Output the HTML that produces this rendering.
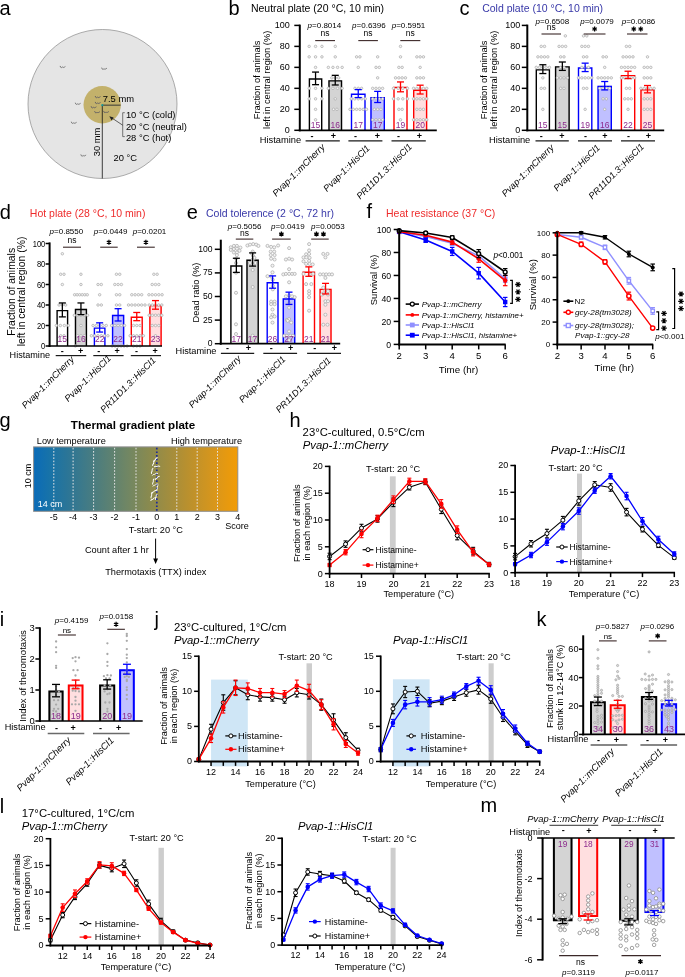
<!DOCTYPE html>
<html><head><meta charset="utf-8"><style>
html,body{margin:0;padding:0;background:#fff;}
svg{display:block;font-family:"Liberation Sans",sans-serif;will-change:transform;}
</style></head><body>
<svg width="685" height="977" viewBox="0 0 685 977">
<rect width="685" height="977" fill="#fff"/>
<text x="-0.6" y="15" font-size="20">a</text>
<circle cx="102.5" cy="104" r="74.5" fill="#e5e5e5" stroke="#8a8a8a" stroke-width="0.7"/>
<circle cx="102.2" cy="104.8" r="18.7" fill="#c3b16b"/>
<path d="M60.2,66.3 q0.2,1.3 1.1,1.3 q0.7,0 1.2,-0.6 q0.6,0.6 1.3,0.4 q0.6,-0.2 1.3,-0.7" stroke="#5a5a5a" stroke-width="0.75" fill="none" stroke-linecap="round"/>
<path d="M101.7,68 q0.2,1.3 1.1,1.3 q0.7,0 1.2,-0.6 q0.6,0.6 1.3,0.4 q0.6,-0.2 1.3,-0.7" stroke="#5a5a5a" stroke-width="0.75" fill="none" stroke-linecap="round"/>
<path d="M75.4,103.1 q0.2,1.3 1.1,1.3 q0.7,0 1.2,-0.6 q0.6,0.6 1.3,0.4 q0.6,-0.2 1.3,-0.7" stroke="#5a5a5a" stroke-width="0.75" fill="none" stroke-linecap="round"/>
<path d="M71.4,122.1 q0.2,1.3 1.1,1.3 q0.7,0 1.2,-0.6 q0.6,0.6 1.3,0.4 q0.6,-0.2 1.3,-0.7" stroke="#5a5a5a" stroke-width="0.75" fill="none" stroke-linecap="round"/>
<path d="M80.9,154.8 q0.2,1.3 1.1,1.3 q0.7,0 1.2,-0.6 q0.6,0.6 1.3,0.4 q0.6,-0.2 1.3,-0.7" stroke="#5a5a5a" stroke-width="0.75" fill="none" stroke-linecap="round"/>
<path d="M95.3,96.4 q0.2,1.3 1.1,1.3 q0.7,0 1.2,-0.6 q0.6,0.6 1.3,0.4 q0.6,-0.2 1.3,-0.7" stroke="#4e4e62" stroke-width="0.75" fill="none" stroke-linecap="round"/>
<path d="M95.3,102.3 q0.2,1.3 1.1,1.3 q0.7,0 1.2,-0.6 q0.6,0.6 1.3,0.4 q0.6,-0.2 1.3,-0.7" stroke="#4e4e62" stroke-width="0.75" fill="none" stroke-linecap="round"/>
<path d="M91.2,106.6 q0.2,1.3 1.1,1.3 q0.7,0 1.2,-0.6 q0.6,0.6 1.3,0.4 q0.6,-0.2 1.3,-0.7" stroke="#4e4e62" stroke-width="0.75" fill="none" stroke-linecap="round"/>
<path d="M94.7,111.5 q0.2,1.3 1.1,1.3 q0.7,0 1.2,-0.6 q0.6,0.6 1.3,0.4 q0.6,-0.2 1.3,-0.7" stroke="#4e4e62" stroke-width="0.75" fill="none" stroke-linecap="round"/>
<path d="M103.7,111.3 q0.2,1.3 1.1,1.3 q0.7,0 1.2,-0.6 q0.6,0.6 1.3,0.4 q0.6,-0.2 1.3,-0.7" stroke="#4e4e62" stroke-width="0.75" fill="none" stroke-linecap="round"/>
<line x1="102.3" y1="105.2" x2="102.3" y2="178.5" stroke="#111" stroke-width="0.8"/>
<line x1="102.3" y1="105.2" x2="120.6" y2="105.2" stroke="#5e5a44" stroke-width="1.4"/>
<circle cx="102.3" cy="105.2" r="1.1" fill="#1a9a9a"/>
<text x="102.8" y="102.3" font-size="9.4">7.5 mm</text>
<path d="M124.8,112.7 H122.7 V136.6 H124.8" stroke="#444" stroke-width="0.7" fill="none"/>
<line x1="122.7" y1="125.2" x2="111" y2="117.4" stroke="#222" stroke-width="0.7"/>
<path d="M109.3,116.3 L113.6,117.5 L111.6,120.4 Z" stroke="none" stroke-width="0" fill="#222"/>
<text x="125.9" y="118" font-size="9.4">10 °C (cold)</text>
<text x="125.9" y="129.6" font-size="9.4">20 °C (neutral)</text>
<text x="125.9" y="141.1" font-size="9.4">28 °C (hot)</text>
<text x="99.8" y="142" font-size="9.4" text-anchor="middle" transform="rotate(-90 99.8 142)">30 mm</text>
<text x="113.5" y="161" font-size="9.4">20 °C</text>
<text x="228.6" y="14.5" font-size="20">b</text>
<text x="250.9" y="11.9" font-size="10.5">Neutral plate (20 °C, 10 min)</text>
<rect x="308.7" y="78.37" width="13.7" height="51.93" fill="#fff"/>
<rect x="328.3" y="80.16" width="13.9" height="50.14" fill="#d4d4d4"/>
<rect x="350.8" y="93.59" width="14.9" height="36.72" fill="#fff"/>
<rect x="370.3" y="96.94" width="14.7" height="33.36" fill="#c0c0ff"/>
<rect x="393.3" y="86.87" width="14.4" height="43.43" fill="#fff"/>
<rect x="413" y="89.6" width="14.3" height="40.7" fill="#ffdfe0"/>
<path d="M309.4,130.3 V79.07 H321.7 V130.3" stroke="#000" stroke-width="1.4" fill="none"/>
<path d="M329,130.3 V80.86 H341.5 V130.3" stroke="#000" stroke-width="1.4" fill="none"/>
<path d="M351.5,130.3 V94.29 H365 V130.3" stroke="#0000ff" stroke-width="1.4" fill="none"/>
<path d="M371,130.3 V97.64 H384.3 V130.3" stroke="#0000ff" stroke-width="1.4" fill="none"/>
<path d="M394,130.3 V87.57 H407 V130.3" stroke="#ff0000" stroke-width="1.4" fill="none"/>
<path d="M413.7,130.3 V90.3 H426.6 V130.3" stroke="#ff0000" stroke-width="1.4" fill="none"/>
<circle cx="309.15" cy="46.38" r="1.25" fill="#f4f4f4" stroke="#a8a8a8" stroke-width="0.7"/>
<circle cx="315.55" cy="46.38" r="1.25" fill="#f4f4f4" stroke="#a8a8a8" stroke-width="0.7"/>
<circle cx="321.95" cy="46.38" r="1.25" fill="#f4f4f4" stroke="#a8a8a8" stroke-width="0.7"/>
<circle cx="309.15" cy="56.87" r="1.25" fill="#f4f4f4" stroke="#a8a8a8" stroke-width="0.7"/>
<circle cx="315.55" cy="56.87" r="1.25" fill="#f4f4f4" stroke="#a8a8a8" stroke-width="0.7"/>
<circle cx="321.95" cy="56.87" r="1.25" fill="#f4f4f4" stroke="#a8a8a8" stroke-width="0.7"/>
<circle cx="315.55" cy="67.36" r="1.25" fill="#f4f4f4" stroke="#a8a8a8" stroke-width="0.7"/>
<circle cx="309.15" cy="88.34" r="1.25" fill="#f4f4f4" stroke="#a8a8a8" stroke-width="0.7"/>
<circle cx="315.55" cy="88.34" r="1.25" fill="#f4f4f4" stroke="#a8a8a8" stroke-width="0.7"/>
<circle cx="321.95" cy="88.34" r="1.25" fill="#f4f4f4" stroke="#a8a8a8" stroke-width="0.7"/>
<circle cx="309.15" cy="98.83" r="1.25" fill="#f4f4f4" stroke="#a8a8a8" stroke-width="0.7"/>
<circle cx="315.55" cy="98.83" r="1.25" fill="#f4f4f4" stroke="#a8a8a8" stroke-width="0.7"/>
<circle cx="321.95" cy="98.83" r="1.25" fill="#f4f4f4" stroke="#a8a8a8" stroke-width="0.7"/>
<circle cx="315.55" cy="109.32" r="1.25" fill="#f4f4f4" stroke="#a8a8a8" stroke-width="0.7"/>
<circle cx="315.55" cy="119.81" r="1.25" fill="#f4f4f4" stroke="#a8a8a8" stroke-width="0.7"/>
<circle cx="335.25" cy="46.38" r="1.25" fill="#f4f4f4" stroke="#a8a8a8" stroke-width="0.7"/>
<circle cx="335.25" cy="56.87" r="1.25" fill="#f4f4f4" stroke="#a8a8a8" stroke-width="0.7"/>
<circle cx="328.35" cy="67.36" r="1.25" fill="#f4f4f4" stroke="#a8a8a8" stroke-width="0.7"/>
<circle cx="332.95" cy="67.36" r="1.25" fill="#f4f4f4" stroke="#a8a8a8" stroke-width="0.7"/>
<circle cx="337.55" cy="67.36" r="1.25" fill="#f4f4f4" stroke="#a8a8a8" stroke-width="0.7"/>
<circle cx="342.15" cy="67.36" r="1.25" fill="#f4f4f4" stroke="#a8a8a8" stroke-width="0.7"/>
<circle cx="331.85" cy="77.85" r="1.25" fill="#f4f4f4" stroke="#a8a8a8" stroke-width="0.7"/>
<circle cx="335.25" cy="77.85" r="1.25" fill="#f4f4f4" stroke="#a8a8a8" stroke-width="0.7"/>
<circle cx="338.65" cy="77.85" r="1.25" fill="#f4f4f4" stroke="#a8a8a8" stroke-width="0.7"/>
<circle cx="328.35" cy="88.34" r="1.25" fill="#f4f4f4" stroke="#a8a8a8" stroke-width="0.7"/>
<circle cx="332.95" cy="88.34" r="1.25" fill="#f4f4f4" stroke="#a8a8a8" stroke-width="0.7"/>
<circle cx="337.55" cy="88.34" r="1.25" fill="#f4f4f4" stroke="#a8a8a8" stroke-width="0.7"/>
<circle cx="342.15" cy="88.34" r="1.25" fill="#f4f4f4" stroke="#a8a8a8" stroke-width="0.7"/>
<circle cx="335.25" cy="98.83" r="1.25" fill="#f4f4f4" stroke="#a8a8a8" stroke-width="0.7"/>
<circle cx="333.55" cy="109.32" r="1.25" fill="#f4f4f4" stroke="#a8a8a8" stroke-width="0.7"/>
<circle cx="336.95" cy="109.32" r="1.25" fill="#f4f4f4" stroke="#a8a8a8" stroke-width="0.7"/>
<circle cx="356.6" cy="56.87" r="1.25" fill="#f4f4f4" stroke="#a8a8a8" stroke-width="0.7"/>
<circle cx="359.9" cy="56.87" r="1.25" fill="#f4f4f4" stroke="#a8a8a8" stroke-width="0.7"/>
<circle cx="358.25" cy="67.36" r="1.25" fill="#f4f4f4" stroke="#a8a8a8" stroke-width="0.7"/>
<circle cx="354.95" cy="88.34" r="1.25" fill="#f4f4f4" stroke="#a8a8a8" stroke-width="0.7"/>
<circle cx="358.25" cy="88.34" r="1.25" fill="#f4f4f4" stroke="#a8a8a8" stroke-width="0.7"/>
<circle cx="361.55" cy="88.34" r="1.25" fill="#f4f4f4" stroke="#a8a8a8" stroke-width="0.7"/>
<circle cx="351.25" cy="98.83" r="1.25" fill="#f4f4f4" stroke="#a8a8a8" stroke-width="0.7"/>
<circle cx="354.75" cy="98.83" r="1.25" fill="#f4f4f4" stroke="#a8a8a8" stroke-width="0.7"/>
<circle cx="358.25" cy="98.83" r="1.25" fill="#f4f4f4" stroke="#a8a8a8" stroke-width="0.7"/>
<circle cx="361.75" cy="98.83" r="1.25" fill="#f4f4f4" stroke="#a8a8a8" stroke-width="0.7"/>
<circle cx="365.25" cy="98.83" r="1.25" fill="#f4f4f4" stroke="#a8a8a8" stroke-width="0.7"/>
<circle cx="350" cy="109.32" r="1.25" fill="#f4f4f4" stroke="#a8a8a8" stroke-width="0.7"/>
<circle cx="353.3" cy="109.32" r="1.25" fill="#f4f4f4" stroke="#a8a8a8" stroke-width="0.7"/>
<circle cx="356.6" cy="109.32" r="1.25" fill="#f4f4f4" stroke="#a8a8a8" stroke-width="0.7"/>
<circle cx="359.9" cy="109.32" r="1.25" fill="#f4f4f4" stroke="#a8a8a8" stroke-width="0.7"/>
<circle cx="363.2" cy="109.32" r="1.25" fill="#f4f4f4" stroke="#a8a8a8" stroke-width="0.7"/>
<circle cx="366.5" cy="109.32" r="1.25" fill="#f4f4f4" stroke="#a8a8a8" stroke-width="0.7"/>
<circle cx="377.65" cy="56.87" r="1.25" fill="#f4f4f4" stroke="#a8a8a8" stroke-width="0.7"/>
<circle cx="376" cy="67.36" r="1.25" fill="#f4f4f4" stroke="#a8a8a8" stroke-width="0.7"/>
<circle cx="379.3" cy="67.36" r="1.25" fill="#f4f4f4" stroke="#a8a8a8" stroke-width="0.7"/>
<circle cx="377.65" cy="77.85" r="1.25" fill="#f4f4f4" stroke="#a8a8a8" stroke-width="0.7"/>
<circle cx="372.7" cy="88.34" r="1.25" fill="#f4f4f4" stroke="#a8a8a8" stroke-width="0.7"/>
<circle cx="376" cy="88.34" r="1.25" fill="#f4f4f4" stroke="#a8a8a8" stroke-width="0.7"/>
<circle cx="379.3" cy="88.34" r="1.25" fill="#f4f4f4" stroke="#a8a8a8" stroke-width="0.7"/>
<circle cx="382.6" cy="88.34" r="1.25" fill="#f4f4f4" stroke="#a8a8a8" stroke-width="0.7"/>
<circle cx="372.7" cy="98.83" r="1.25" fill="#f4f4f4" stroke="#a8a8a8" stroke-width="0.7"/>
<circle cx="376" cy="98.83" r="1.25" fill="#f4f4f4" stroke="#a8a8a8" stroke-width="0.7"/>
<circle cx="379.3" cy="98.83" r="1.25" fill="#f4f4f4" stroke="#a8a8a8" stroke-width="0.7"/>
<circle cx="382.6" cy="98.83" r="1.25" fill="#f4f4f4" stroke="#a8a8a8" stroke-width="0.7"/>
<circle cx="374.35" cy="109.32" r="1.25" fill="#f4f4f4" stroke="#a8a8a8" stroke-width="0.7"/>
<circle cx="377.65" cy="109.32" r="1.25" fill="#f4f4f4" stroke="#a8a8a8" stroke-width="0.7"/>
<circle cx="380.95" cy="109.32" r="1.25" fill="#f4f4f4" stroke="#a8a8a8" stroke-width="0.7"/>
<circle cx="372.7" cy="119.81" r="1.25" fill="#f4f4f4" stroke="#a8a8a8" stroke-width="0.7"/>
<circle cx="376" cy="119.81" r="1.25" fill="#f4f4f4" stroke="#a8a8a8" stroke-width="0.7"/>
<circle cx="379.3" cy="119.81" r="1.25" fill="#f4f4f4" stroke="#a8a8a8" stroke-width="0.7"/>
<circle cx="382.6" cy="119.81" r="1.25" fill="#f4f4f4" stroke="#a8a8a8" stroke-width="0.7"/>
<circle cx="400.5" cy="46.38" r="1.25" fill="#f4f4f4" stroke="#a8a8a8" stroke-width="0.7"/>
<circle cx="400.5" cy="56.87" r="1.25" fill="#f4f4f4" stroke="#a8a8a8" stroke-width="0.7"/>
<circle cx="398.85" cy="67.36" r="1.25" fill="#f4f4f4" stroke="#a8a8a8" stroke-width="0.7"/>
<circle cx="402.15" cy="67.36" r="1.25" fill="#f4f4f4" stroke="#a8a8a8" stroke-width="0.7"/>
<circle cx="395.55" cy="77.85" r="1.25" fill="#f4f4f4" stroke="#a8a8a8" stroke-width="0.7"/>
<circle cx="398.85" cy="77.85" r="1.25" fill="#f4f4f4" stroke="#a8a8a8" stroke-width="0.7"/>
<circle cx="402.15" cy="77.85" r="1.25" fill="#f4f4f4" stroke="#a8a8a8" stroke-width="0.7"/>
<circle cx="405.45" cy="77.85" r="1.25" fill="#f4f4f4" stroke="#a8a8a8" stroke-width="0.7"/>
<circle cx="393.5" cy="88.34" r="1.25" fill="#f4f4f4" stroke="#a8a8a8" stroke-width="0.7"/>
<circle cx="398.2" cy="88.34" r="1.25" fill="#f4f4f4" stroke="#a8a8a8" stroke-width="0.7"/>
<circle cx="402.8" cy="88.34" r="1.25" fill="#f4f4f4" stroke="#a8a8a8" stroke-width="0.7"/>
<circle cx="407.5" cy="88.34" r="1.25" fill="#f4f4f4" stroke="#a8a8a8" stroke-width="0.7"/>
<circle cx="393.5" cy="98.83" r="1.25" fill="#f4f4f4" stroke="#a8a8a8" stroke-width="0.7"/>
<circle cx="398.2" cy="98.83" r="1.25" fill="#f4f4f4" stroke="#a8a8a8" stroke-width="0.7"/>
<circle cx="402.8" cy="98.83" r="1.25" fill="#f4f4f4" stroke="#a8a8a8" stroke-width="0.7"/>
<circle cx="407.5" cy="98.83" r="1.25" fill="#f4f4f4" stroke="#a8a8a8" stroke-width="0.7"/>
<circle cx="398.85" cy="109.32" r="1.25" fill="#f4f4f4" stroke="#a8a8a8" stroke-width="0.7"/>
<circle cx="402.15" cy="109.32" r="1.25" fill="#f4f4f4" stroke="#a8a8a8" stroke-width="0.7"/>
<circle cx="400.5" cy="119.81" r="1.25" fill="#f4f4f4" stroke="#a8a8a8" stroke-width="0.7"/>
<circle cx="416.85" cy="56.87" r="1.25" fill="#f4f4f4" stroke="#a8a8a8" stroke-width="0.7"/>
<circle cx="420.15" cy="56.87" r="1.25" fill="#f4f4f4" stroke="#a8a8a8" stroke-width="0.7"/>
<circle cx="423.45" cy="56.87" r="1.25" fill="#f4f4f4" stroke="#a8a8a8" stroke-width="0.7"/>
<circle cx="420.15" cy="67.36" r="1.25" fill="#f4f4f4" stroke="#a8a8a8" stroke-width="0.7"/>
<circle cx="416.85" cy="77.85" r="1.25" fill="#f4f4f4" stroke="#a8a8a8" stroke-width="0.7"/>
<circle cx="420.15" cy="77.85" r="1.25" fill="#f4f4f4" stroke="#a8a8a8" stroke-width="0.7"/>
<circle cx="423.45" cy="77.85" r="1.25" fill="#f4f4f4" stroke="#a8a8a8" stroke-width="0.7"/>
<circle cx="413.55" cy="88.34" r="1.25" fill="#f4f4f4" stroke="#a8a8a8" stroke-width="0.7"/>
<circle cx="416.85" cy="88.34" r="1.25" fill="#f4f4f4" stroke="#a8a8a8" stroke-width="0.7"/>
<circle cx="420.15" cy="88.34" r="1.25" fill="#f4f4f4" stroke="#a8a8a8" stroke-width="0.7"/>
<circle cx="423.45" cy="88.34" r="1.25" fill="#f4f4f4" stroke="#a8a8a8" stroke-width="0.7"/>
<circle cx="426.75" cy="88.34" r="1.25" fill="#f4f4f4" stroke="#a8a8a8" stroke-width="0.7"/>
<circle cx="413.55" cy="98.83" r="1.25" fill="#f4f4f4" stroke="#a8a8a8" stroke-width="0.7"/>
<circle cx="416.85" cy="98.83" r="1.25" fill="#f4f4f4" stroke="#a8a8a8" stroke-width="0.7"/>
<circle cx="420.15" cy="98.83" r="1.25" fill="#f4f4f4" stroke="#a8a8a8" stroke-width="0.7"/>
<circle cx="423.45" cy="98.83" r="1.25" fill="#f4f4f4" stroke="#a8a8a8" stroke-width="0.7"/>
<circle cx="426.75" cy="98.83" r="1.25" fill="#f4f4f4" stroke="#a8a8a8" stroke-width="0.7"/>
<circle cx="416.85" cy="109.32" r="1.25" fill="#f4f4f4" stroke="#a8a8a8" stroke-width="0.7"/>
<circle cx="420.15" cy="109.32" r="1.25" fill="#f4f4f4" stroke="#a8a8a8" stroke-width="0.7"/>
<circle cx="423.45" cy="109.32" r="1.25" fill="#f4f4f4" stroke="#a8a8a8" stroke-width="0.7"/>
<circle cx="413.55" cy="119.81" r="1.25" fill="#f4f4f4" stroke="#a8a8a8" stroke-width="0.7"/>
<circle cx="416.85" cy="119.81" r="1.25" fill="#f4f4f4" stroke="#a8a8a8" stroke-width="0.7"/>
<circle cx="420.15" cy="119.81" r="1.25" fill="#f4f4f4" stroke="#a8a8a8" stroke-width="0.7"/>
<circle cx="423.45" cy="119.81" r="1.25" fill="#f4f4f4" stroke="#a8a8a8" stroke-width="0.7"/>
<circle cx="426.75" cy="119.81" r="1.25" fill="#f4f4f4" stroke="#a8a8a8" stroke-width="0.7"/>
<line x1="315.55" y1="72.08" x2="315.55" y2="84.67" stroke="#000" stroke-width="1.3"/>
<line x1="312.05" y1="72.08" x2="319.05" y2="72.08" stroke="#000" stroke-width="1.3"/>
<line x1="312.05" y1="84.67" x2="319.05" y2="84.67" stroke="#000" stroke-width="1.3"/>
<text x="315.55" y="127.7" font-size="8.5" text-anchor="middle" fill="#8c2a8c">15</text>
<line x1="335.25" y1="75.33" x2="335.25" y2="84.98" stroke="#000" stroke-width="1.3"/>
<line x1="331.75" y1="75.33" x2="338.75" y2="75.33" stroke="#000" stroke-width="1.3"/>
<line x1="331.75" y1="84.98" x2="338.75" y2="84.98" stroke="#000" stroke-width="1.3"/>
<text x="335.25" y="127.7" font-size="8.5" text-anchor="middle" fill="#8c2a8c">16</text>
<line x1="358.25" y1="89.6" x2="358.25" y2="97.57" stroke="#0000ff" stroke-width="1.3"/>
<line x1="354.75" y1="89.6" x2="361.75" y2="89.6" stroke="#0000ff" stroke-width="1.3"/>
<line x1="354.75" y1="97.57" x2="361.75" y2="97.57" stroke="#0000ff" stroke-width="1.3"/>
<text x="358.25" y="127.7" font-size="8.5" text-anchor="middle" fill="#8c2a8c">17</text>
<line x1="377.65" y1="91.38" x2="377.65" y2="102.5" stroke="#0000ff" stroke-width="1.3"/>
<line x1="374.15" y1="91.38" x2="381.15" y2="91.38" stroke="#0000ff" stroke-width="1.3"/>
<line x1="374.15" y1="102.5" x2="381.15" y2="102.5" stroke="#0000ff" stroke-width="1.3"/>
<text x="377.65" y="127.7" font-size="8.5" text-anchor="middle" fill="#8c2a8c">17</text>
<line x1="400.5" y1="81.94" x2="400.5" y2="91.8" stroke="#ff0000" stroke-width="1.3"/>
<line x1="397" y1="81.94" x2="404" y2="81.94" stroke="#ff0000" stroke-width="1.3"/>
<line x1="397" y1="91.8" x2="404" y2="91.8" stroke="#ff0000" stroke-width="1.3"/>
<text x="400.5" y="127.7" font-size="8.5" text-anchor="middle" fill="#8c2a8c">19</text>
<line x1="420.15" y1="85.19" x2="420.15" y2="94" stroke="#ff0000" stroke-width="1.3"/>
<line x1="416.65" y1="85.19" x2="423.65" y2="85.19" stroke="#ff0000" stroke-width="1.3"/>
<line x1="416.65" y1="94" x2="423.65" y2="94" stroke="#ff0000" stroke-width="1.3"/>
<text x="420.15" y="127.7" font-size="8.5" text-anchor="middle" fill="#8c2a8c">20</text>
<line x1="299.8" y1="24.6" x2="299.8" y2="131.3" stroke="#000" stroke-width="2"/>
<line x1="294.3" y1="130.3" x2="299.8" y2="130.3" stroke="#000" stroke-width="1.5"/>
<text x="289.7" y="133.27" font-size="9" text-anchor="end">0</text>
<line x1="294.3" y1="109.32" x2="299.8" y2="109.32" stroke="#000" stroke-width="1.5"/>
<text x="289.7" y="112.29" font-size="9" text-anchor="end">20</text>
<line x1="294.3" y1="88.34" x2="299.8" y2="88.34" stroke="#000" stroke-width="1.5"/>
<text x="289.7" y="91.31" font-size="9" text-anchor="end">40</text>
<line x1="294.3" y1="67.36" x2="299.8" y2="67.36" stroke="#000" stroke-width="1.5"/>
<text x="289.7" y="70.33" font-size="9" text-anchor="end">60</text>
<line x1="294.3" y1="46.38" x2="299.8" y2="46.38" stroke="#000" stroke-width="1.5"/>
<text x="289.7" y="49.35" font-size="9" text-anchor="end">80</text>
<line x1="294.3" y1="25.4" x2="299.8" y2="25.4" stroke="#000" stroke-width="1.5"/>
<text x="289.7" y="28.37" font-size="9" text-anchor="end">100</text>
<line x1="298.8" y1="130.3" x2="436.8" y2="130.3" stroke="#000" stroke-width="1.7"/>
<text x="324.4" y="28.3" font-size="8" text-anchor="middle"><tspan font-style="italic">p</tspan>=0.8014</text>
<text x="325.1" y="35.9" font-size="8.5" text-anchor="middle">ns</text>
<line x1="315.2" y1="40.6" x2="335" y2="40.6" stroke="#3b2828" stroke-width="1.1"/>
<text x="368.9" y="28.3" font-size="8" text-anchor="middle"><tspan font-style="italic">p</tspan>=0.6396</text>
<text x="368.1" y="35.9" font-size="8.5" text-anchor="middle">ns</text>
<line x1="358.3" y1="40.6" x2="377.9" y2="40.6" stroke="#3b2828" stroke-width="1.1"/>
<text x="408.5" y="28.3" font-size="8" text-anchor="middle"><tspan font-style="italic">p</tspan>=0.5951</text>
<text x="410.3" y="35.9" font-size="8.5" text-anchor="middle">ns</text>
<line x1="400.3" y1="40.6" x2="420.3" y2="40.6" stroke="#3b2828" stroke-width="1.1"/>
<text x="260.5" y="79.9" font-size="9.3" text-anchor="middle" transform="rotate(-90 260.5 79.9)">Fraction of animals</text>
<text x="270.3" y="79.8" font-size="9.3" text-anchor="middle" transform="rotate(-90 270.3 79.8)">left in central region (%)</text>
<text x="301.2" y="142.6" font-size="9.3" text-anchor="end">Histamine</text>
<text x="312.1" y="138.9" font-size="9" text-anchor="middle" font-weight="bold">-</text>
<text x="333.3" y="138.9" font-size="9" text-anchor="middle" font-weight="bold">+</text>
<text x="355.5" y="138.9" font-size="9" text-anchor="middle" font-weight="bold">-</text>
<text x="377.5" y="138.9" font-size="9" text-anchor="middle" font-weight="bold">+</text>
<text x="398.5" y="138.9" font-size="9" text-anchor="middle" font-weight="bold">-</text>
<text x="419.5" y="138.9" font-size="9" text-anchor="middle" font-weight="bold">+</text>
<line x1="305.6" y1="140.9" x2="339.8" y2="140.9" stroke="#1a1a1a" stroke-width="1.2"/>
<line x1="348.4" y1="140.9" x2="382.4" y2="140.9" stroke="#1a1a1a" stroke-width="1.2"/>
<line x1="391.5" y1="140.9" x2="425.8" y2="140.9" stroke="#1a1a1a" stroke-width="1.2"/>
<text x="325.4" y="147.8" font-size="9.2" font-style="italic" text-anchor="end" transform="rotate(-45 325.4 147.8)">Pvap-1::mCherry</text>
<text x="370.4" y="148.8" font-size="9.2" font-style="italic" text-anchor="end" transform="rotate(-45 370.4 148.8)">Pvap-1::HisCl1</text>
<text x="412.5" y="147.5" font-size="9.2" font-style="italic" text-anchor="end" transform="rotate(-45 412.5 147.5)">PR11D1.3::HisCl1</text>
<text x="459.6" y="15" font-size="20">c</text>
<text x="482.2" y="11.9" font-size="10.5" fill="#3838a8">Cold plate (10 °C, 10 min)</text>
<rect x="535.6" y="69.14" width="14.5" height="61.16" fill="#fff"/>
<rect x="554.9" y="66.21" width="14.9" height="64.09" fill="#d4d4d4"/>
<rect x="577.8" y="67.36" width="14.7" height="62.94" fill="#fff"/>
<rect x="597.4" y="85.72" width="14.6" height="44.58" fill="#c0c0ff"/>
<rect x="620.7" y="74.91" width="14.7" height="55.39" fill="#fff"/>
<rect x="640.3" y="89.18" width="14.4" height="41.12" fill="#ffdfe0"/>
<path d="M536.3,130.3 V69.84 H549.4 V130.3" stroke="#000" stroke-width="1.4" fill="none"/>
<path d="M555.6,130.3 V66.91 H569.1 V130.3" stroke="#000" stroke-width="1.4" fill="none"/>
<path d="M578.5,130.3 V68.06 H591.8 V130.3" stroke="#0000ff" stroke-width="1.4" fill="none"/>
<path d="M598.1,130.3 V86.42 H611.3 V130.3" stroke="#0000ff" stroke-width="1.4" fill="none"/>
<path d="M621.4,130.3 V75.61 H634.7 V130.3" stroke="#ff0000" stroke-width="1.4" fill="none"/>
<path d="M641,130.3 V89.88 H654 V130.3" stroke="#ff0000" stroke-width="1.4" fill="none"/>
<circle cx="541.2" cy="46.38" r="1.25" fill="#f4f4f4" stroke="#a8a8a8" stroke-width="0.7"/>
<circle cx="544.5" cy="46.38" r="1.25" fill="#f4f4f4" stroke="#a8a8a8" stroke-width="0.7"/>
<circle cx="537.9" cy="56.87" r="1.25" fill="#f4f4f4" stroke="#a8a8a8" stroke-width="0.7"/>
<circle cx="541.2" cy="56.87" r="1.25" fill="#f4f4f4" stroke="#a8a8a8" stroke-width="0.7"/>
<circle cx="544.5" cy="56.87" r="1.25" fill="#f4f4f4" stroke="#a8a8a8" stroke-width="0.7"/>
<circle cx="547.8" cy="56.87" r="1.25" fill="#f4f4f4" stroke="#a8a8a8" stroke-width="0.7"/>
<circle cx="536.25" cy="67.36" r="1.25" fill="#f4f4f4" stroke="#a8a8a8" stroke-width="0.7"/>
<circle cx="539.55" cy="67.36" r="1.25" fill="#f4f4f4" stroke="#a8a8a8" stroke-width="0.7"/>
<circle cx="542.85" cy="67.36" r="1.25" fill="#f4f4f4" stroke="#a8a8a8" stroke-width="0.7"/>
<circle cx="546.15" cy="67.36" r="1.25" fill="#f4f4f4" stroke="#a8a8a8" stroke-width="0.7"/>
<circle cx="549.45" cy="67.36" r="1.25" fill="#f4f4f4" stroke="#a8a8a8" stroke-width="0.7"/>
<circle cx="542.85" cy="77.85" r="1.25" fill="#f4f4f4" stroke="#a8a8a8" stroke-width="0.7"/>
<circle cx="541.2" cy="88.34" r="1.25" fill="#f4f4f4" stroke="#a8a8a8" stroke-width="0.7"/>
<circle cx="544.5" cy="88.34" r="1.25" fill="#f4f4f4" stroke="#a8a8a8" stroke-width="0.7"/>
<circle cx="542.85" cy="109.32" r="1.25" fill="#f4f4f4" stroke="#a8a8a8" stroke-width="0.7"/>
<circle cx="565.35" cy="35.89" r="1.25" fill="#f4f4f4" stroke="#a8a8a8" stroke-width="0.7"/>
<circle cx="559.05" cy="46.38" r="1.25" fill="#f4f4f4" stroke="#a8a8a8" stroke-width="0.7"/>
<circle cx="562.35" cy="46.38" r="1.25" fill="#f4f4f4" stroke="#a8a8a8" stroke-width="0.7"/>
<circle cx="565.65" cy="46.38" r="1.25" fill="#f4f4f4" stroke="#a8a8a8" stroke-width="0.7"/>
<circle cx="560.7" cy="56.87" r="1.25" fill="#f4f4f4" stroke="#a8a8a8" stroke-width="0.7"/>
<circle cx="564" cy="56.87" r="1.25" fill="#f4f4f4" stroke="#a8a8a8" stroke-width="0.7"/>
<circle cx="560.7" cy="67.36" r="1.25" fill="#f4f4f4" stroke="#a8a8a8" stroke-width="0.7"/>
<circle cx="564" cy="67.36" r="1.25" fill="#f4f4f4" stroke="#a8a8a8" stroke-width="0.7"/>
<circle cx="557.4" cy="77.85" r="1.25" fill="#f4f4f4" stroke="#a8a8a8" stroke-width="0.7"/>
<circle cx="560.7" cy="77.85" r="1.25" fill="#f4f4f4" stroke="#a8a8a8" stroke-width="0.7"/>
<circle cx="564" cy="77.85" r="1.25" fill="#f4f4f4" stroke="#a8a8a8" stroke-width="0.7"/>
<circle cx="567.3" cy="77.85" r="1.25" fill="#f4f4f4" stroke="#a8a8a8" stroke-width="0.7"/>
<circle cx="560.7" cy="88.34" r="1.25" fill="#f4f4f4" stroke="#a8a8a8" stroke-width="0.7"/>
<circle cx="564" cy="88.34" r="1.25" fill="#f4f4f4" stroke="#a8a8a8" stroke-width="0.7"/>
<circle cx="583.5" cy="35.89" r="1.25" fill="#f4f4f4" stroke="#a8a8a8" stroke-width="0.7"/>
<circle cx="586.8" cy="35.89" r="1.25" fill="#f4f4f4" stroke="#a8a8a8" stroke-width="0.7"/>
<circle cx="581.85" cy="46.38" r="1.25" fill="#f4f4f4" stroke="#a8a8a8" stroke-width="0.7"/>
<circle cx="585.15" cy="46.38" r="1.25" fill="#f4f4f4" stroke="#a8a8a8" stroke-width="0.7"/>
<circle cx="588.45" cy="46.38" r="1.25" fill="#f4f4f4" stroke="#a8a8a8" stroke-width="0.7"/>
<circle cx="583.5" cy="56.87" r="1.25" fill="#f4f4f4" stroke="#a8a8a8" stroke-width="0.7"/>
<circle cx="586.8" cy="56.87" r="1.25" fill="#f4f4f4" stroke="#a8a8a8" stroke-width="0.7"/>
<circle cx="581.85" cy="67.36" r="1.25" fill="#f4f4f4" stroke="#a8a8a8" stroke-width="0.7"/>
<circle cx="585.15" cy="67.36" r="1.25" fill="#f4f4f4" stroke="#a8a8a8" stroke-width="0.7"/>
<circle cx="588.45" cy="67.36" r="1.25" fill="#f4f4f4" stroke="#a8a8a8" stroke-width="0.7"/>
<circle cx="578.55" cy="77.85" r="1.25" fill="#f4f4f4" stroke="#a8a8a8" stroke-width="0.7"/>
<circle cx="581.85" cy="77.85" r="1.25" fill="#f4f4f4" stroke="#a8a8a8" stroke-width="0.7"/>
<circle cx="585.15" cy="77.85" r="1.25" fill="#f4f4f4" stroke="#a8a8a8" stroke-width="0.7"/>
<circle cx="588.45" cy="77.85" r="1.25" fill="#f4f4f4" stroke="#a8a8a8" stroke-width="0.7"/>
<circle cx="591.75" cy="77.85" r="1.25" fill="#f4f4f4" stroke="#a8a8a8" stroke-width="0.7"/>
<circle cx="583.5" cy="88.34" r="1.25" fill="#f4f4f4" stroke="#a8a8a8" stroke-width="0.7"/>
<circle cx="586.8" cy="88.34" r="1.25" fill="#f4f4f4" stroke="#a8a8a8" stroke-width="0.7"/>
<circle cx="585.15" cy="109.32" r="1.25" fill="#f4f4f4" stroke="#a8a8a8" stroke-width="0.7"/>
<circle cx="603.05" cy="56.87" r="1.25" fill="#f4f4f4" stroke="#a8a8a8" stroke-width="0.7"/>
<circle cx="606.35" cy="56.87" r="1.25" fill="#f4f4f4" stroke="#a8a8a8" stroke-width="0.7"/>
<circle cx="604.7" cy="67.36" r="1.25" fill="#f4f4f4" stroke="#a8a8a8" stroke-width="0.7"/>
<circle cx="598.1" cy="77.85" r="1.25" fill="#f4f4f4" stroke="#a8a8a8" stroke-width="0.7"/>
<circle cx="601.4" cy="77.85" r="1.25" fill="#f4f4f4" stroke="#a8a8a8" stroke-width="0.7"/>
<circle cx="604.7" cy="77.85" r="1.25" fill="#f4f4f4" stroke="#a8a8a8" stroke-width="0.7"/>
<circle cx="608" cy="77.85" r="1.25" fill="#f4f4f4" stroke="#a8a8a8" stroke-width="0.7"/>
<circle cx="611.3" cy="77.85" r="1.25" fill="#f4f4f4" stroke="#a8a8a8" stroke-width="0.7"/>
<circle cx="599.75" cy="88.34" r="1.25" fill="#f4f4f4" stroke="#a8a8a8" stroke-width="0.7"/>
<circle cx="603.05" cy="88.34" r="1.25" fill="#f4f4f4" stroke="#a8a8a8" stroke-width="0.7"/>
<circle cx="606.35" cy="88.34" r="1.25" fill="#f4f4f4" stroke="#a8a8a8" stroke-width="0.7"/>
<circle cx="609.65" cy="88.34" r="1.25" fill="#f4f4f4" stroke="#a8a8a8" stroke-width="0.7"/>
<circle cx="603.05" cy="98.83" r="1.25" fill="#f4f4f4" stroke="#a8a8a8" stroke-width="0.7"/>
<circle cx="606.35" cy="98.83" r="1.25" fill="#f4f4f4" stroke="#a8a8a8" stroke-width="0.7"/>
<circle cx="604.7" cy="109.32" r="1.25" fill="#f4f4f4" stroke="#a8a8a8" stroke-width="0.7"/>
<circle cx="626.4" cy="46.38" r="1.25" fill="#f4f4f4" stroke="#a8a8a8" stroke-width="0.7"/>
<circle cx="629.7" cy="46.38" r="1.25" fill="#f4f4f4" stroke="#a8a8a8" stroke-width="0.7"/>
<circle cx="623.1" cy="56.87" r="1.25" fill="#f4f4f4" stroke="#a8a8a8" stroke-width="0.7"/>
<circle cx="626.4" cy="56.87" r="1.25" fill="#f4f4f4" stroke="#a8a8a8" stroke-width="0.7"/>
<circle cx="629.7" cy="56.87" r="1.25" fill="#f4f4f4" stroke="#a8a8a8" stroke-width="0.7"/>
<circle cx="633" cy="56.87" r="1.25" fill="#f4f4f4" stroke="#a8a8a8" stroke-width="0.7"/>
<circle cx="621.45" cy="67.36" r="1.25" fill="#f4f4f4" stroke="#a8a8a8" stroke-width="0.7"/>
<circle cx="624.75" cy="67.36" r="1.25" fill="#f4f4f4" stroke="#a8a8a8" stroke-width="0.7"/>
<circle cx="628.05" cy="67.36" r="1.25" fill="#f4f4f4" stroke="#a8a8a8" stroke-width="0.7"/>
<circle cx="631.35" cy="67.36" r="1.25" fill="#f4f4f4" stroke="#a8a8a8" stroke-width="0.7"/>
<circle cx="634.65" cy="67.36" r="1.25" fill="#f4f4f4" stroke="#a8a8a8" stroke-width="0.7"/>
<circle cx="621.45" cy="77.85" r="1.25" fill="#f4f4f4" stroke="#a8a8a8" stroke-width="0.7"/>
<circle cx="624.75" cy="77.85" r="1.25" fill="#f4f4f4" stroke="#a8a8a8" stroke-width="0.7"/>
<circle cx="628.05" cy="77.85" r="1.25" fill="#f4f4f4" stroke="#a8a8a8" stroke-width="0.7"/>
<circle cx="631.35" cy="77.85" r="1.25" fill="#f4f4f4" stroke="#a8a8a8" stroke-width="0.7"/>
<circle cx="634.65" cy="77.85" r="1.25" fill="#f4f4f4" stroke="#a8a8a8" stroke-width="0.7"/>
<circle cx="626.4" cy="88.34" r="1.25" fill="#f4f4f4" stroke="#a8a8a8" stroke-width="0.7"/>
<circle cx="629.7" cy="88.34" r="1.25" fill="#f4f4f4" stroke="#a8a8a8" stroke-width="0.7"/>
<circle cx="624.75" cy="98.83" r="1.25" fill="#f4f4f4" stroke="#a8a8a8" stroke-width="0.7"/>
<circle cx="628.05" cy="98.83" r="1.25" fill="#f4f4f4" stroke="#a8a8a8" stroke-width="0.7"/>
<circle cx="631.35" cy="98.83" r="1.25" fill="#f4f4f4" stroke="#a8a8a8" stroke-width="0.7"/>
<circle cx="628.05" cy="109.32" r="1.25" fill="#f4f4f4" stroke="#a8a8a8" stroke-width="0.7"/>
<circle cx="647.5" cy="56.87" r="1.25" fill="#f4f4f4" stroke="#a8a8a8" stroke-width="0.7"/>
<circle cx="644.2" cy="67.36" r="1.25" fill="#f4f4f4" stroke="#a8a8a8" stroke-width="0.7"/>
<circle cx="647.5" cy="67.36" r="1.25" fill="#f4f4f4" stroke="#a8a8a8" stroke-width="0.7"/>
<circle cx="650.8" cy="67.36" r="1.25" fill="#f4f4f4" stroke="#a8a8a8" stroke-width="0.7"/>
<circle cx="644.2" cy="77.85" r="1.25" fill="#f4f4f4" stroke="#a8a8a8" stroke-width="0.7"/>
<circle cx="647.5" cy="77.85" r="1.25" fill="#f4f4f4" stroke="#a8a8a8" stroke-width="0.7"/>
<circle cx="650.8" cy="77.85" r="1.25" fill="#f4f4f4" stroke="#a8a8a8" stroke-width="0.7"/>
<circle cx="640.9" cy="88.34" r="1.25" fill="#f4f4f4" stroke="#a8a8a8" stroke-width="0.7"/>
<circle cx="644.2" cy="88.34" r="1.25" fill="#f4f4f4" stroke="#a8a8a8" stroke-width="0.7"/>
<circle cx="647.5" cy="88.34" r="1.25" fill="#f4f4f4" stroke="#a8a8a8" stroke-width="0.7"/>
<circle cx="650.8" cy="88.34" r="1.25" fill="#f4f4f4" stroke="#a8a8a8" stroke-width="0.7"/>
<circle cx="654.1" cy="88.34" r="1.25" fill="#f4f4f4" stroke="#a8a8a8" stroke-width="0.7"/>
<circle cx="644.2" cy="98.83" r="1.25" fill="#f4f4f4" stroke="#a8a8a8" stroke-width="0.7"/>
<circle cx="647.5" cy="98.83" r="1.25" fill="#f4f4f4" stroke="#a8a8a8" stroke-width="0.7"/>
<circle cx="650.8" cy="98.83" r="1.25" fill="#f4f4f4" stroke="#a8a8a8" stroke-width="0.7"/>
<circle cx="644.2" cy="109.32" r="1.25" fill="#f4f4f4" stroke="#a8a8a8" stroke-width="0.7"/>
<circle cx="647.5" cy="109.32" r="1.25" fill="#f4f4f4" stroke="#a8a8a8" stroke-width="0.7"/>
<circle cx="650.8" cy="109.32" r="1.25" fill="#f4f4f4" stroke="#a8a8a8" stroke-width="0.7"/>
<line x1="542.85" y1="64.74" x2="542.85" y2="73.55" stroke="#000" stroke-width="1.3"/>
<line x1="539.35" y1="64.74" x2="546.35" y2="64.74" stroke="#000" stroke-width="1.3"/>
<line x1="539.35" y1="73.55" x2="546.35" y2="73.55" stroke="#000" stroke-width="1.3"/>
<text x="542.85" y="127.7" font-size="8.5" text-anchor="middle" fill="#8c2a8c">15</text>
<line x1="562.35" y1="62.01" x2="562.35" y2="70.4" stroke="#000" stroke-width="1.3"/>
<line x1="558.85" y1="62.01" x2="565.85" y2="62.01" stroke="#000" stroke-width="1.3"/>
<line x1="558.85" y1="70.4" x2="565.85" y2="70.4" stroke="#000" stroke-width="1.3"/>
<text x="562.35" y="127.7" font-size="8.5" text-anchor="middle" fill="#8c2a8c">15</text>
<line x1="585.15" y1="63.16" x2="585.15" y2="71.56" stroke="#0000ff" stroke-width="1.3"/>
<line x1="581.65" y1="63.16" x2="588.65" y2="63.16" stroke="#0000ff" stroke-width="1.3"/>
<line x1="581.65" y1="71.56" x2="588.65" y2="71.56" stroke="#0000ff" stroke-width="1.3"/>
<text x="585.15" y="127.7" font-size="8.5" text-anchor="middle" fill="#8c2a8c">19</text>
<line x1="604.7" y1="81.52" x2="604.7" y2="89.91" stroke="#0000ff" stroke-width="1.3"/>
<line x1="601.2" y1="81.52" x2="608.2" y2="81.52" stroke="#0000ff" stroke-width="1.3"/>
<line x1="601.2" y1="89.91" x2="608.2" y2="89.91" stroke="#0000ff" stroke-width="1.3"/>
<text x="604.7" y="127.7" font-size="8.5" text-anchor="middle" fill="#8c2a8c">16</text>
<line x1="628.05" y1="71.24" x2="628.05" y2="78.58" stroke="#ff0000" stroke-width="1.3"/>
<line x1="624.55" y1="71.24" x2="631.55" y2="71.24" stroke="#ff0000" stroke-width="1.3"/>
<line x1="624.55" y1="78.58" x2="631.55" y2="78.58" stroke="#ff0000" stroke-width="1.3"/>
<text x="628.05" y="127.7" font-size="8.5" text-anchor="middle" fill="#8c2a8c">22</text>
<line x1="647.5" y1="85.51" x2="647.5" y2="92.85" stroke="#ff0000" stroke-width="1.3"/>
<line x1="644" y1="85.51" x2="651" y2="85.51" stroke="#ff0000" stroke-width="1.3"/>
<line x1="644" y1="92.85" x2="651" y2="92.85" stroke="#ff0000" stroke-width="1.3"/>
<text x="647.5" y="127.7" font-size="8.5" text-anchor="middle" fill="#8c2a8c">25</text>
<line x1="527.3" y1="24.6" x2="527.3" y2="131.3" stroke="#000" stroke-width="2"/>
<line x1="521.8" y1="130.3" x2="527.3" y2="130.3" stroke="#000" stroke-width="1.5"/>
<text x="520.2" y="133.27" font-size="9" text-anchor="end">0</text>
<line x1="521.8" y1="109.32" x2="527.3" y2="109.32" stroke="#000" stroke-width="1.5"/>
<text x="520.2" y="112.29" font-size="9" text-anchor="end">20</text>
<line x1="521.8" y1="88.34" x2="527.3" y2="88.34" stroke="#000" stroke-width="1.5"/>
<text x="520.2" y="91.31" font-size="9" text-anchor="end">40</text>
<line x1="521.8" y1="67.36" x2="527.3" y2="67.36" stroke="#000" stroke-width="1.5"/>
<text x="520.2" y="70.33" font-size="9" text-anchor="end">60</text>
<line x1="521.8" y1="46.38" x2="527.3" y2="46.38" stroke="#000" stroke-width="1.5"/>
<text x="520.2" y="49.35" font-size="9" text-anchor="end">80</text>
<line x1="521.8" y1="25.4" x2="527.3" y2="25.4" stroke="#000" stroke-width="1.5"/>
<text x="520.2" y="28.37" font-size="9" text-anchor="end">100</text>
<line x1="526.3" y1="130.3" x2="664.2" y2="130.3" stroke="#000" stroke-width="1.7"/>
<text x="552.4" y="23.8" font-size="8" text-anchor="middle"><tspan font-style="italic">p</tspan>=0.6508</text>
<text x="551.25" y="30.4" font-size="8.5" text-anchor="middle">ns</text>
<line x1="541.5" y1="34" x2="561" y2="34" stroke="#3b2828" stroke-width="1.1"/>
<text x="597" y="23.8" font-size="8" text-anchor="middle"><tspan font-style="italic">p</tspan>=0.0079</text>
<path d="M594.6,26.5 L594.6,31.5 M592.43,27.75 L596.77,30.25 M596.77,27.75 L592.43,30.25 " stroke="#000" stroke-width="1.3" fill="none" stroke-linecap="butt"/>
<line x1="583.7" y1="34" x2="605.5" y2="34" stroke="#3b2828" stroke-width="1.1"/>
<text x="638.5" y="23.8" font-size="8" text-anchor="middle"><tspan font-style="italic">p</tspan>=0.0086</text>
<path d="M633.75,26.5 L633.75,31.5 M631.58,27.75 L635.92,30.25 M635.92,27.75 L631.58,30.25 " stroke="#000" stroke-width="1.3" fill="none" stroke-linecap="butt"/>
<path d="M640.75,26.5 L640.75,31.5 M638.58,27.75 L642.92,30.25 M642.92,27.75 L638.58,30.25 " stroke="#000" stroke-width="1.3" fill="none" stroke-linecap="butt"/>
<line x1="627" y1="34" x2="647.5" y2="34" stroke="#3b2828" stroke-width="1.1"/>
<text x="487.1" y="79.9" font-size="9.3" text-anchor="middle" transform="rotate(-90 487.1 79.9)">Fraction of animals</text>
<text x="496.9" y="79.8" font-size="9.3" text-anchor="middle" transform="rotate(-90 496.9 79.8)">left in central region (%)</text>
<text x="530.3" y="142.6" font-size="9.3" text-anchor="end">Histamine</text>
<text x="541.2" y="138.9" font-size="9" text-anchor="middle" font-weight="bold">-</text>
<text x="562" y="138.9" font-size="9" text-anchor="middle" font-weight="bold">+</text>
<text x="585.5" y="138.9" font-size="9" text-anchor="middle" font-weight="bold">-</text>
<text x="605" y="138.9" font-size="9" text-anchor="middle" font-weight="bold">+</text>
<text x="628.5" y="138.9" font-size="9" text-anchor="middle" font-weight="bold">-</text>
<text x="648.5" y="138.9" font-size="9" text-anchor="middle" font-weight="bold">+</text>
<line x1="535.5" y1="140.9" x2="568.8" y2="140.9" stroke="#1a1a1a" stroke-width="1.2"/>
<line x1="578" y1="140.9" x2="612" y2="140.9" stroke="#1a1a1a" stroke-width="1.2"/>
<line x1="621" y1="140.9" x2="655" y2="140.9" stroke="#1a1a1a" stroke-width="1.2"/>
<text x="554.6" y="148.2" font-size="9.2" font-style="italic" text-anchor="end" transform="rotate(-45 554.6 148.2)">Pvap-1::mCherry</text>
<text x="600.6" y="148.3" font-size="9.2" font-style="italic" text-anchor="end" transform="rotate(-45 600.6 148.3)">Pvap-1::HisCl1</text>
<text x="644.6" y="147.5" font-size="9.2" font-style="italic" text-anchor="end" transform="rotate(-45 644.6 147.5)">PR11D1.3::HisCl1</text>
<text x="-0.3" y="218.5" font-size="20">d</text>
<text x="29.8" y="216.9" font-size="10.5" fill="#ee2b2b">Hot plate (28 °C, 10 min)</text>
<rect x="56.4" y="309.92" width="11.9" height="36.08" fill="#fff"/>
<rect x="74.8" y="308.79" width="12.3" height="37.21" fill="#d4d4d4"/>
<rect x="93.7" y="327.45" width="11.9" height="18.55" fill="#fff"/>
<rect x="111.9" y="314.84" width="12.4" height="31.16" fill="#c0c0ff"/>
<rect x="130.6" y="316.58" width="12.3" height="29.42" fill="#fff"/>
<rect x="149.2" y="304.9" width="12.6" height="41.1" fill="#ffdfe0"/>
<path d="M57.1,346 V310.62 H67.6 V346" stroke="#000" stroke-width="1.4" fill="none"/>
<path d="M75.5,346 V309.49 H86.4 V346" stroke="#000" stroke-width="1.4" fill="none"/>
<path d="M94.4,346 V328.15 H104.9 V346" stroke="#0000ff" stroke-width="1.4" fill="none"/>
<path d="M112.6,346 V315.54 H123.6 V346" stroke="#0000ff" stroke-width="1.4" fill="none"/>
<path d="M131.3,346 V317.28 H142.2 V346" stroke="#ff0000" stroke-width="1.4" fill="none"/>
<path d="M149.9,346 V305.6 H161.1 V346" stroke="#ff0000" stroke-width="1.4" fill="none"/>
<circle cx="62.35" cy="253.75" r="1.25" fill="#f4f4f4" stroke="#a8a8a8" stroke-width="0.7"/>
<circle cx="60.7" cy="274.25" r="1.25" fill="#f4f4f4" stroke="#a8a8a8" stroke-width="0.7"/>
<circle cx="64" cy="274.25" r="1.25" fill="#f4f4f4" stroke="#a8a8a8" stroke-width="0.7"/>
<circle cx="62.35" cy="284.5" r="1.25" fill="#f4f4f4" stroke="#a8a8a8" stroke-width="0.7"/>
<circle cx="59.05" cy="305" r="1.25" fill="#f4f4f4" stroke="#a8a8a8" stroke-width="0.7"/>
<circle cx="62.35" cy="305" r="1.25" fill="#f4f4f4" stroke="#a8a8a8" stroke-width="0.7"/>
<circle cx="65.65" cy="305" r="1.25" fill="#f4f4f4" stroke="#a8a8a8" stroke-width="0.7"/>
<circle cx="56.35" cy="325.5" r="1.25" fill="#f4f4f4" stroke="#a8a8a8" stroke-width="0.7"/>
<circle cx="60.35" cy="325.5" r="1.25" fill="#f4f4f4" stroke="#a8a8a8" stroke-width="0.7"/>
<circle cx="64.35" cy="325.5" r="1.25" fill="#f4f4f4" stroke="#a8a8a8" stroke-width="0.7"/>
<circle cx="68.35" cy="325.5" r="1.25" fill="#f4f4f4" stroke="#a8a8a8" stroke-width="0.7"/>
<circle cx="60.7" cy="335.75" r="1.25" fill="#f4f4f4" stroke="#a8a8a8" stroke-width="0.7"/>
<circle cx="64" cy="335.75" r="1.25" fill="#f4f4f4" stroke="#a8a8a8" stroke-width="0.7"/>
<circle cx="75.35" cy="346" r="1.25" fill="#f4f4f4" stroke="#a8a8a8" stroke-width="0.7"/>
<circle cx="80.95" cy="274.25" r="1.25" fill="#f4f4f4" stroke="#a8a8a8" stroke-width="0.7"/>
<circle cx="80.95" cy="284.5" r="1.25" fill="#f4f4f4" stroke="#a8a8a8" stroke-width="0.7"/>
<circle cx="74.65" cy="294.75" r="1.25" fill="#f4f4f4" stroke="#a8a8a8" stroke-width="0.7"/>
<circle cx="77.15" cy="294.75" r="1.25" fill="#f4f4f4" stroke="#a8a8a8" stroke-width="0.7"/>
<circle cx="79.65" cy="294.75" r="1.25" fill="#f4f4f4" stroke="#a8a8a8" stroke-width="0.7"/>
<circle cx="82.25" cy="294.75" r="1.25" fill="#f4f4f4" stroke="#a8a8a8" stroke-width="0.7"/>
<circle cx="84.75" cy="294.75" r="1.25" fill="#f4f4f4" stroke="#a8a8a8" stroke-width="0.7"/>
<circle cx="87.25" cy="294.75" r="1.25" fill="#f4f4f4" stroke="#a8a8a8" stroke-width="0.7"/>
<circle cx="74.35" cy="315.25" r="1.25" fill="#f4f4f4" stroke="#a8a8a8" stroke-width="0.7"/>
<circle cx="77.65" cy="315.25" r="1.25" fill="#f4f4f4" stroke="#a8a8a8" stroke-width="0.7"/>
<circle cx="80.95" cy="315.25" r="1.25" fill="#f4f4f4" stroke="#a8a8a8" stroke-width="0.7"/>
<circle cx="84.25" cy="315.25" r="1.25" fill="#f4f4f4" stroke="#a8a8a8" stroke-width="0.7"/>
<circle cx="87.55" cy="315.25" r="1.25" fill="#f4f4f4" stroke="#a8a8a8" stroke-width="0.7"/>
<circle cx="80.95" cy="325.5" r="1.25" fill="#f4f4f4" stroke="#a8a8a8" stroke-width="0.7"/>
<circle cx="77.65" cy="335.75" r="1.25" fill="#f4f4f4" stroke="#a8a8a8" stroke-width="0.7"/>
<circle cx="80.95" cy="335.75" r="1.25" fill="#f4f4f4" stroke="#a8a8a8" stroke-width="0.7"/>
<circle cx="84.25" cy="335.75" r="1.25" fill="#f4f4f4" stroke="#a8a8a8" stroke-width="0.7"/>
<circle cx="98" cy="284.5" r="1.25" fill="#f4f4f4" stroke="#a8a8a8" stroke-width="0.7"/>
<circle cx="101.3" cy="284.5" r="1.25" fill="#f4f4f4" stroke="#a8a8a8" stroke-width="0.7"/>
<circle cx="99.65" cy="294.75" r="1.25" fill="#f4f4f4" stroke="#a8a8a8" stroke-width="0.7"/>
<circle cx="98" cy="305" r="1.25" fill="#f4f4f4" stroke="#a8a8a8" stroke-width="0.7"/>
<circle cx="101.3" cy="305" r="1.25" fill="#f4f4f4" stroke="#a8a8a8" stroke-width="0.7"/>
<circle cx="93.05" cy="325.5" r="1.25" fill="#f4f4f4" stroke="#a8a8a8" stroke-width="0.7"/>
<circle cx="96.35" cy="325.5" r="1.25" fill="#f4f4f4" stroke="#a8a8a8" stroke-width="0.7"/>
<circle cx="99.65" cy="325.5" r="1.25" fill="#f4f4f4" stroke="#a8a8a8" stroke-width="0.7"/>
<circle cx="102.95" cy="325.5" r="1.25" fill="#f4f4f4" stroke="#a8a8a8" stroke-width="0.7"/>
<circle cx="106.25" cy="325.5" r="1.25" fill="#f4f4f4" stroke="#a8a8a8" stroke-width="0.7"/>
<circle cx="91.4" cy="335.75" r="1.25" fill="#f4f4f4" stroke="#a8a8a8" stroke-width="0.7"/>
<circle cx="94.7" cy="335.75" r="1.25" fill="#f4f4f4" stroke="#a8a8a8" stroke-width="0.7"/>
<circle cx="98" cy="335.75" r="1.25" fill="#f4f4f4" stroke="#a8a8a8" stroke-width="0.7"/>
<circle cx="101.3" cy="335.75" r="1.25" fill="#f4f4f4" stroke="#a8a8a8" stroke-width="0.7"/>
<circle cx="104.6" cy="335.75" r="1.25" fill="#f4f4f4" stroke="#a8a8a8" stroke-width="0.7"/>
<circle cx="107.9" cy="335.75" r="1.25" fill="#f4f4f4" stroke="#a8a8a8" stroke-width="0.7"/>
<circle cx="116.45" cy="274.25" r="1.25" fill="#f4f4f4" stroke="#a8a8a8" stroke-width="0.7"/>
<circle cx="119.75" cy="274.25" r="1.25" fill="#f4f4f4" stroke="#a8a8a8" stroke-width="0.7"/>
<circle cx="114.8" cy="284.5" r="1.25" fill="#f4f4f4" stroke="#a8a8a8" stroke-width="0.7"/>
<circle cx="118.1" cy="284.5" r="1.25" fill="#f4f4f4" stroke="#a8a8a8" stroke-width="0.7"/>
<circle cx="121.4" cy="284.5" r="1.25" fill="#f4f4f4" stroke="#a8a8a8" stroke-width="0.7"/>
<circle cx="116.45" cy="294.75" r="1.25" fill="#f4f4f4" stroke="#a8a8a8" stroke-width="0.7"/>
<circle cx="119.75" cy="294.75" r="1.25" fill="#f4f4f4" stroke="#a8a8a8" stroke-width="0.7"/>
<circle cx="116.45" cy="305" r="1.25" fill="#f4f4f4" stroke="#a8a8a8" stroke-width="0.7"/>
<circle cx="119.75" cy="305" r="1.25" fill="#f4f4f4" stroke="#a8a8a8" stroke-width="0.7"/>
<circle cx="111.7" cy="325.5" r="1.25" fill="#f4f4f4" stroke="#a8a8a8" stroke-width="0.7"/>
<circle cx="114.9" cy="325.5" r="1.25" fill="#f4f4f4" stroke="#a8a8a8" stroke-width="0.7"/>
<circle cx="118.1" cy="325.5" r="1.25" fill="#f4f4f4" stroke="#a8a8a8" stroke-width="0.7"/>
<circle cx="121.3" cy="325.5" r="1.25" fill="#f4f4f4" stroke="#a8a8a8" stroke-width="0.7"/>
<circle cx="124.5" cy="325.5" r="1.25" fill="#f4f4f4" stroke="#a8a8a8" stroke-width="0.7"/>
<circle cx="112.1" cy="346" r="1.25" fill="#f4f4f4" stroke="#a8a8a8" stroke-width="0.7"/>
<circle cx="115.1" cy="346" r="1.25" fill="#f4f4f4" stroke="#a8a8a8" stroke-width="0.7"/>
<circle cx="118.1" cy="346" r="1.25" fill="#f4f4f4" stroke="#a8a8a8" stroke-width="0.7"/>
<circle cx="121.1" cy="346" r="1.25" fill="#f4f4f4" stroke="#a8a8a8" stroke-width="0.7"/>
<circle cx="124.1" cy="346" r="1.25" fill="#f4f4f4" stroke="#a8a8a8" stroke-width="0.7"/>
<circle cx="127.1" cy="346" r="1.25" fill="#f4f4f4" stroke="#a8a8a8" stroke-width="0.7"/>
<circle cx="131.8" cy="294.75" r="1.25" fill="#f4f4f4" stroke="#a8a8a8" stroke-width="0.7"/>
<circle cx="135.1" cy="294.75" r="1.25" fill="#f4f4f4" stroke="#a8a8a8" stroke-width="0.7"/>
<circle cx="138.4" cy="294.75" r="1.25" fill="#f4f4f4" stroke="#a8a8a8" stroke-width="0.7"/>
<circle cx="141.7" cy="294.75" r="1.25" fill="#f4f4f4" stroke="#a8a8a8" stroke-width="0.7"/>
<circle cx="128.5" cy="305" r="1.25" fill="#f4f4f4" stroke="#a8a8a8" stroke-width="0.7"/>
<circle cx="131.8" cy="305" r="1.25" fill="#f4f4f4" stroke="#a8a8a8" stroke-width="0.7"/>
<circle cx="135.1" cy="305" r="1.25" fill="#f4f4f4" stroke="#a8a8a8" stroke-width="0.7"/>
<circle cx="138.4" cy="305" r="1.25" fill="#f4f4f4" stroke="#a8a8a8" stroke-width="0.7"/>
<circle cx="141.7" cy="305" r="1.25" fill="#f4f4f4" stroke="#a8a8a8" stroke-width="0.7"/>
<circle cx="145" cy="305" r="1.25" fill="#f4f4f4" stroke="#a8a8a8" stroke-width="0.7"/>
<circle cx="133.45" cy="325.5" r="1.25" fill="#f4f4f4" stroke="#a8a8a8" stroke-width="0.7"/>
<circle cx="136.75" cy="325.5" r="1.25" fill="#f4f4f4" stroke="#a8a8a8" stroke-width="0.7"/>
<circle cx="140.05" cy="325.5" r="1.25" fill="#f4f4f4" stroke="#a8a8a8" stroke-width="0.7"/>
<circle cx="130.15" cy="335.75" r="1.25" fill="#f4f4f4" stroke="#a8a8a8" stroke-width="0.7"/>
<circle cx="133.45" cy="335.75" r="1.25" fill="#f4f4f4" stroke="#a8a8a8" stroke-width="0.7"/>
<circle cx="136.75" cy="335.75" r="1.25" fill="#f4f4f4" stroke="#a8a8a8" stroke-width="0.7"/>
<circle cx="140.05" cy="335.75" r="1.25" fill="#f4f4f4" stroke="#a8a8a8" stroke-width="0.7"/>
<circle cx="143.35" cy="335.75" r="1.25" fill="#f4f4f4" stroke="#a8a8a8" stroke-width="0.7"/>
<circle cx="133.45" cy="346" r="1.25" fill="#f4f4f4" stroke="#a8a8a8" stroke-width="0.7"/>
<circle cx="136.75" cy="346" r="1.25" fill="#f4f4f4" stroke="#a8a8a8" stroke-width="0.7"/>
<circle cx="140.05" cy="346" r="1.25" fill="#f4f4f4" stroke="#a8a8a8" stroke-width="0.7"/>
<circle cx="153.85" cy="274.25" r="1.25" fill="#f4f4f4" stroke="#a8a8a8" stroke-width="0.7"/>
<circle cx="157.15" cy="274.25" r="1.25" fill="#f4f4f4" stroke="#a8a8a8" stroke-width="0.7"/>
<circle cx="152.2" cy="284.5" r="1.25" fill="#f4f4f4" stroke="#a8a8a8" stroke-width="0.7"/>
<circle cx="155.5" cy="284.5" r="1.25" fill="#f4f4f4" stroke="#a8a8a8" stroke-width="0.7"/>
<circle cx="158.8" cy="284.5" r="1.25" fill="#f4f4f4" stroke="#a8a8a8" stroke-width="0.7"/>
<circle cx="148.9" cy="294.75" r="1.25" fill="#f4f4f4" stroke="#a8a8a8" stroke-width="0.7"/>
<circle cx="152.2" cy="294.75" r="1.25" fill="#f4f4f4" stroke="#a8a8a8" stroke-width="0.7"/>
<circle cx="155.5" cy="294.75" r="1.25" fill="#f4f4f4" stroke="#a8a8a8" stroke-width="0.7"/>
<circle cx="158.8" cy="294.75" r="1.25" fill="#f4f4f4" stroke="#a8a8a8" stroke-width="0.7"/>
<circle cx="162.1" cy="294.75" r="1.25" fill="#f4f4f4" stroke="#a8a8a8" stroke-width="0.7"/>
<circle cx="149.2" cy="305" r="1.25" fill="#f4f4f4" stroke="#a8a8a8" stroke-width="0.7"/>
<circle cx="152.3" cy="305" r="1.25" fill="#f4f4f4" stroke="#a8a8a8" stroke-width="0.7"/>
<circle cx="155.5" cy="305" r="1.25" fill="#f4f4f4" stroke="#a8a8a8" stroke-width="0.7"/>
<circle cx="158.7" cy="305" r="1.25" fill="#f4f4f4" stroke="#a8a8a8" stroke-width="0.7"/>
<circle cx="161.8" cy="305" r="1.25" fill="#f4f4f4" stroke="#a8a8a8" stroke-width="0.7"/>
<circle cx="149.2" cy="315.25" r="1.25" fill="#f4f4f4" stroke="#a8a8a8" stroke-width="0.7"/>
<circle cx="152.3" cy="315.25" r="1.25" fill="#f4f4f4" stroke="#a8a8a8" stroke-width="0.7"/>
<circle cx="155.5" cy="315.25" r="1.25" fill="#f4f4f4" stroke="#a8a8a8" stroke-width="0.7"/>
<circle cx="158.7" cy="315.25" r="1.25" fill="#f4f4f4" stroke="#a8a8a8" stroke-width="0.7"/>
<circle cx="161.8" cy="315.25" r="1.25" fill="#f4f4f4" stroke="#a8a8a8" stroke-width="0.7"/>
<circle cx="152.2" cy="325.5" r="1.25" fill="#f4f4f4" stroke="#a8a8a8" stroke-width="0.7"/>
<circle cx="155.5" cy="325.5" r="1.25" fill="#f4f4f4" stroke="#a8a8a8" stroke-width="0.7"/>
<circle cx="158.8" cy="325.5" r="1.25" fill="#f4f4f4" stroke="#a8a8a8" stroke-width="0.7"/>
<circle cx="155.5" cy="335.75" r="1.25" fill="#f4f4f4" stroke="#a8a8a8" stroke-width="0.7"/>
<line x1="62.35" y1="302.95" x2="62.35" y2="316.89" stroke="#000" stroke-width="1.3"/>
<line x1="58.85" y1="302.95" x2="65.85" y2="302.95" stroke="#000" stroke-width="1.3"/>
<line x1="58.85" y1="316.89" x2="65.85" y2="316.89" stroke="#000" stroke-width="1.3"/>
<text x="62.35" y="342.4" font-size="8.5" text-anchor="middle" fill="#8c2a8c">15</text>
<line x1="80.95" y1="302.95" x2="80.95" y2="314.63" stroke="#000" stroke-width="1.3"/>
<line x1="77.45" y1="302.95" x2="84.45" y2="302.95" stroke="#000" stroke-width="1.3"/>
<line x1="77.45" y1="314.63" x2="84.45" y2="314.63" stroke="#000" stroke-width="1.3"/>
<text x="80.95" y="342.4" font-size="8.5" text-anchor="middle" fill="#8c2a8c">16</text>
<line x1="99.65" y1="322.83" x2="99.65" y2="332.06" stroke="#0000ff" stroke-width="1.3"/>
<line x1="96.15" y1="322.83" x2="103.15" y2="322.83" stroke="#0000ff" stroke-width="1.3"/>
<line x1="96.15" y1="332.06" x2="103.15" y2="332.06" stroke="#0000ff" stroke-width="1.3"/>
<text x="99.65" y="342.4" font-size="8.5" text-anchor="middle" fill="#8c2a8c">22</text>
<line x1="118.1" y1="308.69" x2="118.1" y2="320.99" stroke="#0000ff" stroke-width="1.3"/>
<line x1="114.6" y1="308.69" x2="121.6" y2="308.69" stroke="#0000ff" stroke-width="1.3"/>
<line x1="114.6" y1="320.99" x2="121.6" y2="320.99" stroke="#0000ff" stroke-width="1.3"/>
<text x="118.1" y="342.4" font-size="8.5" text-anchor="middle" fill="#8c2a8c">22</text>
<line x1="136.75" y1="312.48" x2="136.75" y2="320.68" stroke="#ff0000" stroke-width="1.3"/>
<line x1="133.25" y1="312.48" x2="140.25" y2="312.48" stroke="#ff0000" stroke-width="1.3"/>
<line x1="133.25" y1="320.68" x2="140.25" y2="320.68" stroke="#ff0000" stroke-width="1.3"/>
<text x="136.75" y="342.4" font-size="8.5" text-anchor="middle" fill="#8c2a8c">21</text>
<line x1="155.5" y1="300.59" x2="155.5" y2="309.2" stroke="#ff0000" stroke-width="1.3"/>
<line x1="152" y1="300.59" x2="159" y2="300.59" stroke="#ff0000" stroke-width="1.3"/>
<line x1="152" y1="309.2" x2="159" y2="309.2" stroke="#ff0000" stroke-width="1.3"/>
<text x="155.5" y="342.4" font-size="8.5" text-anchor="middle" fill="#8c2a8c">23</text>
<line x1="49.6" y1="242.4" x2="49.6" y2="347" stroke="#000" stroke-width="2"/>
<line x1="45.6" y1="346" x2="49.6" y2="346" stroke="#000" stroke-width="1.5"/>
<text x="0" y="0" font-size="8.9" text-anchor="end" transform="translate(45.3 349.2) scale(0.85 1)">0</text>
<line x1="45.6" y1="325.5" x2="49.6" y2="325.5" stroke="#000" stroke-width="1.5"/>
<text x="0" y="0" font-size="8.9" text-anchor="end" transform="translate(45.3 328.7) scale(0.85 1)">20</text>
<line x1="45.6" y1="305" x2="49.6" y2="305" stroke="#000" stroke-width="1.5"/>
<text x="0" y="0" font-size="8.9" text-anchor="end" transform="translate(45.3 308.2) scale(0.85 1)">40</text>
<line x1="45.6" y1="284.5" x2="49.6" y2="284.5" stroke="#000" stroke-width="1.5"/>
<text x="0" y="0" font-size="8.9" text-anchor="end" transform="translate(45.3 287.7) scale(0.85 1)">60</text>
<line x1="45.6" y1="264" x2="49.6" y2="264" stroke="#000" stroke-width="1.5"/>
<text x="0" y="0" font-size="8.9" text-anchor="end" transform="translate(45.3 267.2) scale(0.85 1)">80</text>
<line x1="45.6" y1="243.5" x2="49.6" y2="243.5" stroke="#000" stroke-width="1.5"/>
<text x="0" y="0" font-size="8.9" text-anchor="end" transform="translate(45.3 246.7) scale(0.85 1)">100</text>
<line x1="48.6" y1="346" x2="162" y2="346" stroke="#000" stroke-width="1.7"/>
<text x="66.4" y="234.4" font-size="8" text-anchor="middle"><tspan font-style="italic">p</tspan>=0.8550</text>
<text x="72" y="242.5" font-size="8.5" text-anchor="middle">ns</text>
<line x1="63" y1="247.2" x2="81" y2="247.2" stroke="#3b2828" stroke-width="1.1"/>
<text x="110.6" y="234.4" font-size="8" text-anchor="middle"><tspan font-style="italic">p</tspan>=0.0449</text>
<path d="M108.95,239.7 L108.95,244.7 M106.78,240.95 L111.12,243.45 M111.12,240.95 L106.78,243.45 " stroke="#000" stroke-width="1.3" fill="none" stroke-linecap="butt"/>
<line x1="100.2" y1="247.2" x2="117.7" y2="247.2" stroke="#3b2828" stroke-width="1.1"/>
<text x="149.5" y="234.4" font-size="8" text-anchor="middle"><tspan font-style="italic">p</tspan>=0.0201</text>
<path d="M145.9,239.7 L145.9,244.7 M143.73,240.95 L148.07,243.45 M148.07,240.95 L143.73,243.45 " stroke="#000" stroke-width="1.3" fill="none" stroke-linecap="butt"/>
<line x1="137" y1="247.2" x2="154.8" y2="247.2" stroke="#3b2828" stroke-width="1.1"/>
<text x="15" y="291.8" font-size="10.4" text-anchor="middle" transform="rotate(-90 15 291.8)">Fraction of animals</text>
<text x="25" y="291.5" font-size="10.4" text-anchor="middle" transform="rotate(-90 25 291.5)">left in central region (%)</text>
<text x="50" y="357.7" font-size="9.1" text-anchor="end">Histamine</text>
<text x="62.2" y="353.6" font-size="9" text-anchor="middle" font-weight="bold">-</text>
<text x="80.6" y="353.6" font-size="9" text-anchor="middle" font-weight="bold">+</text>
<text x="98.8" y="353.6" font-size="9" text-anchor="middle" font-weight="bold">-</text>
<text x="117.2" y="353.6" font-size="9" text-anchor="middle" font-weight="bold">+</text>
<text x="136.4" y="353.6" font-size="9" text-anchor="middle" font-weight="bold">-</text>
<text x="155.2" y="353.6" font-size="9" text-anchor="middle" font-weight="bold">+</text>
<line x1="55.7" y1="355.6" x2="86.2" y2="355.6" stroke="#1a1a1a" stroke-width="1.2"/>
<line x1="93.3" y1="355.6" x2="123.6" y2="355.6" stroke="#1a1a1a" stroke-width="1.2"/>
<line x1="130.8" y1="355.6" x2="161" y2="355.6" stroke="#1a1a1a" stroke-width="1.2"/>
<text x="74.7" y="360" font-size="9.2" font-style="italic" text-anchor="end" transform="rotate(-45 74.7 360)">Pvap-1::mCherry</text>
<text x="111.7" y="358.9" font-size="9.2" font-style="italic" text-anchor="end" transform="rotate(-45 111.7 358.9)">Pvap-1::HisCl1</text>
<text x="156.3" y="360.9" font-size="9.2" font-style="italic" text-anchor="end" transform="rotate(-45 156.3 360.9)">PR11D1.3::HisCl1</text>
<text x="186.8" y="218.5" font-size="20">e</text>
<text x="206" y="216.9" font-size="10.5" fill="#3838a8">Cold tolerence (2 °C, 72 hr)</text>
<rect x="230.2" y="265.35" width="12.3" height="78.35" fill="#fff"/>
<rect x="246.3" y="259.5" width="12.6" height="84.2" fill="#d4d4d4"/>
<rect x="266.5" y="282.06" width="12.2" height="61.64" fill="#fff"/>
<rect x="282.6" y="298.29" width="12.8" height="45.41" fill="#c0c0ff"/>
<rect x="302.4" y="271.58" width="12.8" height="72.12" fill="#fff"/>
<rect x="319.4" y="288.66" width="12.3" height="55.04" fill="#ffdfe0"/>
<path d="M230.9,343.7 V266.05 H241.8 V343.7" stroke="#000" stroke-width="1.4" fill="none"/>
<path d="M247,343.7 V260.2 H258.2 V343.7" stroke="#000" stroke-width="1.4" fill="none"/>
<path d="M267.2,343.7 V282.76 H278 V343.7" stroke="#0000ff" stroke-width="1.4" fill="none"/>
<path d="M283.3,343.7 V298.99 H294.7 V343.7" stroke="#0000ff" stroke-width="1.4" fill="none"/>
<path d="M303.1,343.7 V272.28 H314.5 V343.7" stroke="#ff0000" stroke-width="1.4" fill="none"/>
<path d="M320.1,343.7 V289.36 H331 V343.7" stroke="#ff0000" stroke-width="1.4" fill="none"/>
<circle cx="230.8" cy="247.3" r="1.55" fill="#f4f4f4" stroke="#a8a8a8" stroke-width="0.7"/>
<circle cx="233.9" cy="245.9" r="1.55" fill="#f4f4f4" stroke="#a8a8a8" stroke-width="0.7"/>
<circle cx="236.9" cy="245.9" r="1.55" fill="#f4f4f4" stroke="#a8a8a8" stroke-width="0.7"/>
<circle cx="240.4" cy="247.6" r="1.55" fill="#f4f4f4" stroke="#a8a8a8" stroke-width="0.7"/>
<circle cx="230.8" cy="249.9" r="1.55" fill="#f4f4f4" stroke="#a8a8a8" stroke-width="0.7"/>
<circle cx="233.9" cy="249" r="1.55" fill="#f4f4f4" stroke="#a8a8a8" stroke-width="0.7"/>
<circle cx="236.9" cy="248.7" r="1.55" fill="#f4f4f4" stroke="#a8a8a8" stroke-width="0.7"/>
<circle cx="239.5" cy="250.8" r="1.55" fill="#f4f4f4" stroke="#a8a8a8" stroke-width="0.7"/>
<circle cx="233.9" cy="252.5" r="1.55" fill="#f4f4f4" stroke="#a8a8a8" stroke-width="0.7"/>
<circle cx="236.9" cy="252.5" r="1.55" fill="#f4f4f4" stroke="#a8a8a8" stroke-width="0.7"/>
<circle cx="236.9" cy="255.1" r="1.55" fill="#f4f4f4" stroke="#a8a8a8" stroke-width="0.7"/>
<circle cx="236" cy="272.7" r="1.55" fill="#f4f4f4" stroke="#a8a8a8" stroke-width="0.7"/>
<circle cx="236" cy="292.8" r="1.55" fill="#f4f4f4" stroke="#a8a8a8" stroke-width="0.7"/>
<circle cx="236" cy="324.3" r="1.55" fill="#f4f4f4" stroke="#a8a8a8" stroke-width="0.7"/>
<circle cx="236" cy="334" r="1.55" fill="#f4f4f4" stroke="#a8a8a8" stroke-width="0.7"/>
<circle cx="236" cy="258.6" r="1.55" fill="#f4f4f4" stroke="#a8a8a8" stroke-width="0.7"/>
<circle cx="236" cy="263" r="1.55" fill="#f4f4f4" stroke="#a8a8a8" stroke-width="0.7"/>
<circle cx="247.4" cy="245.5" r="1.55" fill="#f4f4f4" stroke="#a8a8a8" stroke-width="0.7"/>
<circle cx="250" cy="244.6" r="1.55" fill="#f4f4f4" stroke="#a8a8a8" stroke-width="0.7"/>
<circle cx="253.2" cy="244.1" r="1.55" fill="#f4f4f4" stroke="#a8a8a8" stroke-width="0.7"/>
<circle cx="256.2" cy="244.6" r="1.55" fill="#f4f4f4" stroke="#a8a8a8" stroke-width="0.7"/>
<circle cx="258.4" cy="245.9" r="1.55" fill="#f4f4f4" stroke="#a8a8a8" stroke-width="0.7"/>
<circle cx="252.7" cy="251.6" r="1.55" fill="#f4f4f4" stroke="#a8a8a8" stroke-width="0.7"/>
<circle cx="253.2" cy="256" r="1.55" fill="#f4f4f4" stroke="#a8a8a8" stroke-width="0.7"/>
<circle cx="252.7" cy="259.5" r="1.55" fill="#f4f4f4" stroke="#a8a8a8" stroke-width="0.7"/>
<circle cx="250" cy="263" r="1.55" fill="#f4f4f4" stroke="#a8a8a8" stroke-width="0.7"/>
<circle cx="255.3" cy="263" r="1.55" fill="#f4f4f4" stroke="#a8a8a8" stroke-width="0.7"/>
<circle cx="252.7" cy="270" r="1.55" fill="#f4f4f4" stroke="#a8a8a8" stroke-width="0.7"/>
<circle cx="252.7" cy="287" r="1.55" fill="#f4f4f4" stroke="#a8a8a8" stroke-width="0.7"/>
<circle cx="252.7" cy="335.7" r="1.55" fill="#f4f4f4" stroke="#a8a8a8" stroke-width="0.7"/>
<circle cx="251.8" cy="253.4" r="1.55" fill="#f4f4f4" stroke="#a8a8a8" stroke-width="0.7"/>
<circle cx="254.4" cy="257.8" r="1.55" fill="#f4f4f4" stroke="#a8a8a8" stroke-width="0.7"/>
<circle cx="252.7" cy="261.3" r="1.55" fill="#f4f4f4" stroke="#a8a8a8" stroke-width="0.7"/>
<circle cx="252.7" cy="264.8" r="1.55" fill="#f4f4f4" stroke="#a8a8a8" stroke-width="0.7"/>
<circle cx="267.5" cy="245.9" r="1.55" fill="#f4f4f4" stroke="#a8a8a8" stroke-width="0.7"/>
<circle cx="271.1" cy="246.9" r="1.55" fill="#f4f4f4" stroke="#a8a8a8" stroke-width="0.7"/>
<circle cx="274.2" cy="247.3" r="1.55" fill="#f4f4f4" stroke="#a8a8a8" stroke-width="0.7"/>
<circle cx="278.1" cy="245.5" r="1.55" fill="#f4f4f4" stroke="#a8a8a8" stroke-width="0.7"/>
<circle cx="270.7" cy="251.6" r="1.55" fill="#f4f4f4" stroke="#a8a8a8" stroke-width="0.7"/>
<circle cx="274.2" cy="251.6" r="1.55" fill="#f4f4f4" stroke="#a8a8a8" stroke-width="0.7"/>
<circle cx="270.7" cy="255.1" r="1.55" fill="#f4f4f4" stroke="#a8a8a8" stroke-width="0.7"/>
<circle cx="274.6" cy="255.1" r="1.55" fill="#f4f4f4" stroke="#a8a8a8" stroke-width="0.7"/>
<circle cx="271.1" cy="258.7" r="1.55" fill="#f4f4f4" stroke="#a8a8a8" stroke-width="0.7"/>
<circle cx="274.6" cy="259.5" r="1.55" fill="#f4f4f4" stroke="#a8a8a8" stroke-width="0.7"/>
<circle cx="272.5" cy="265.7" r="1.55" fill="#f4f4f4" stroke="#a8a8a8" stroke-width="0.7"/>
<circle cx="272.5" cy="272.3" r="1.55" fill="#f4f4f4" stroke="#a8a8a8" stroke-width="0.7"/>
<circle cx="267.5" cy="276.2" r="1.55" fill="#f4f4f4" stroke="#a8a8a8" stroke-width="0.7"/>
<circle cx="271.1" cy="276.5" r="1.55" fill="#f4f4f4" stroke="#a8a8a8" stroke-width="0.7"/>
<circle cx="272.8" cy="285.8" r="1.55" fill="#f4f4f4" stroke="#a8a8a8" stroke-width="0.7"/>
<circle cx="272.8" cy="289.3" r="1.55" fill="#f4f4f4" stroke="#a8a8a8" stroke-width="0.7"/>
<circle cx="271.1" cy="301.6" r="1.55" fill="#f4f4f4" stroke="#a8a8a8" stroke-width="0.7"/>
<circle cx="274.6" cy="301.6" r="1.55" fill="#f4f4f4" stroke="#a8a8a8" stroke-width="0.7"/>
<circle cx="271.1" cy="304.2" r="1.55" fill="#f4f4f4" stroke="#a8a8a8" stroke-width="0.7"/>
<circle cx="274.6" cy="304.2" r="1.55" fill="#f4f4f4" stroke="#a8a8a8" stroke-width="0.7"/>
<circle cx="272.5" cy="309.5" r="1.55" fill="#f4f4f4" stroke="#a8a8a8" stroke-width="0.7"/>
<circle cx="272.5" cy="314.7" r="1.55" fill="#f4f4f4" stroke="#a8a8a8" stroke-width="0.7"/>
<circle cx="271.1" cy="317.3" r="1.55" fill="#f4f4f4" stroke="#a8a8a8" stroke-width="0.7"/>
<circle cx="274.6" cy="316.5" r="1.55" fill="#f4f4f4" stroke="#a8a8a8" stroke-width="0.7"/>
<circle cx="272.5" cy="322.6" r="1.55" fill="#f4f4f4" stroke="#a8a8a8" stroke-width="0.7"/>
<circle cx="272.8" cy="279.7" r="1.55" fill="#f4f4f4" stroke="#a8a8a8" stroke-width="0.7"/>
<circle cx="289.1" cy="248.1" r="1.55" fill="#f4f4f4" stroke="#a8a8a8" stroke-width="0.7"/>
<circle cx="285.9" cy="259.5" r="1.55" fill="#f4f4f4" stroke="#a8a8a8" stroke-width="0.7"/>
<circle cx="289.1" cy="258.7" r="1.55" fill="#f4f4f4" stroke="#a8a8a8" stroke-width="0.7"/>
<circle cx="292.1" cy="259.5" r="1.55" fill="#f4f4f4" stroke="#a8a8a8" stroke-width="0.7"/>
<circle cx="289.1" cy="269.2" r="1.55" fill="#f4f4f4" stroke="#a8a8a8" stroke-width="0.7"/>
<circle cx="283.3" cy="274.4" r="1.55" fill="#f4f4f4" stroke="#a8a8a8" stroke-width="0.7"/>
<circle cx="285.9" cy="273.9" r="1.55" fill="#f4f4f4" stroke="#a8a8a8" stroke-width="0.7"/>
<circle cx="289.1" cy="273.9" r="1.55" fill="#f4f4f4" stroke="#a8a8a8" stroke-width="0.7"/>
<circle cx="292.1" cy="273.9" r="1.55" fill="#f4f4f4" stroke="#a8a8a8" stroke-width="0.7"/>
<circle cx="294.7" cy="273.9" r="1.55" fill="#f4f4f4" stroke="#a8a8a8" stroke-width="0.7"/>
<circle cx="289.1" cy="282.3" r="1.55" fill="#f4f4f4" stroke="#a8a8a8" stroke-width="0.7"/>
<circle cx="285.9" cy="296.3" r="1.55" fill="#f4f4f4" stroke="#a8a8a8" stroke-width="0.7"/>
<circle cx="289.1" cy="295.4" r="1.55" fill="#f4f4f4" stroke="#a8a8a8" stroke-width="0.7"/>
<circle cx="292.1" cy="296.3" r="1.55" fill="#f4f4f4" stroke="#a8a8a8" stroke-width="0.7"/>
<circle cx="294.7" cy="297.2" r="1.55" fill="#f4f4f4" stroke="#a8a8a8" stroke-width="0.7"/>
<circle cx="289.1" cy="303.3" r="1.55" fill="#f4f4f4" stroke="#a8a8a8" stroke-width="0.7"/>
<circle cx="289.1" cy="307.7" r="1.55" fill="#f4f4f4" stroke="#a8a8a8" stroke-width="0.7"/>
<circle cx="286.8" cy="320" r="1.55" fill="#f4f4f4" stroke="#a8a8a8" stroke-width="0.7"/>
<circle cx="289.1" cy="319.1" r="1.55" fill="#f4f4f4" stroke="#a8a8a8" stroke-width="0.7"/>
<circle cx="291.2" cy="322.6" r="1.55" fill="#f4f4f4" stroke="#a8a8a8" stroke-width="0.7"/>
<circle cx="289.1" cy="331.4" r="1.55" fill="#f4f4f4" stroke="#a8a8a8" stroke-width="0.7"/>
<circle cx="284.2" cy="335.7" r="1.55" fill="#f4f4f4" stroke="#a8a8a8" stroke-width="0.7"/>
<circle cx="286.8" cy="335.7" r="1.55" fill="#f4f4f4" stroke="#a8a8a8" stroke-width="0.7"/>
<circle cx="290.3" cy="335.7" r="1.55" fill="#f4f4f4" stroke="#a8a8a8" stroke-width="0.7"/>
<circle cx="293" cy="335.7" r="1.55" fill="#f4f4f4" stroke="#a8a8a8" stroke-width="0.7"/>
<circle cx="289.1" cy="340.1" r="1.55" fill="#f4f4f4" stroke="#a8a8a8" stroke-width="0.7"/>
<circle cx="287.7" cy="320.8" r="1.55" fill="#f4f4f4" stroke="#a8a8a8" stroke-width="0.7"/>
<circle cx="309.1" cy="244.1" r="1.55" fill="#f4f4f4" stroke="#a8a8a8" stroke-width="0.7"/>
<circle cx="309.1" cy="250.4" r="1.55" fill="#f4f4f4" stroke="#a8a8a8" stroke-width="0.7"/>
<circle cx="306.1" cy="254.3" r="1.55" fill="#f4f4f4" stroke="#a8a8a8" stroke-width="0.7"/>
<circle cx="309.1" cy="253.9" r="1.55" fill="#f4f4f4" stroke="#a8a8a8" stroke-width="0.7"/>
<circle cx="303.5" cy="257.4" r="1.55" fill="#f4f4f4" stroke="#a8a8a8" stroke-width="0.7"/>
<circle cx="306.4" cy="257.4" r="1.55" fill="#f4f4f4" stroke="#a8a8a8" stroke-width="0.7"/>
<circle cx="309.6" cy="257.8" r="1.55" fill="#f4f4f4" stroke="#a8a8a8" stroke-width="0.7"/>
<circle cx="303.5" cy="261.3" r="1.55" fill="#f4f4f4" stroke="#a8a8a8" stroke-width="0.7"/>
<circle cx="309.1" cy="260.9" r="1.55" fill="#f4f4f4" stroke="#a8a8a8" stroke-width="0.7"/>
<circle cx="306.1" cy="263.9" r="1.55" fill="#f4f4f4" stroke="#a8a8a8" stroke-width="0.7"/>
<circle cx="309.6" cy="263.9" r="1.55" fill="#f4f4f4" stroke="#a8a8a8" stroke-width="0.7"/>
<circle cx="303.5" cy="273.9" r="1.55" fill="#f4f4f4" stroke="#a8a8a8" stroke-width="0.7"/>
<circle cx="309.6" cy="274.4" r="1.55" fill="#f4f4f4" stroke="#a8a8a8" stroke-width="0.7"/>
<circle cx="313.1" cy="273.9" r="1.55" fill="#f4f4f4" stroke="#a8a8a8" stroke-width="0.7"/>
<circle cx="306.1" cy="284.1" r="1.55" fill="#f4f4f4" stroke="#a8a8a8" stroke-width="0.7"/>
<circle cx="311.3" cy="284.1" r="1.55" fill="#f4f4f4" stroke="#a8a8a8" stroke-width="0.7"/>
<circle cx="309.1" cy="291.1" r="1.55" fill="#f4f4f4" stroke="#a8a8a8" stroke-width="0.7"/>
<circle cx="309.1" cy="293.7" r="1.55" fill="#f4f4f4" stroke="#a8a8a8" stroke-width="0.7"/>
<circle cx="309.1" cy="297.2" r="1.55" fill="#f4f4f4" stroke="#a8a8a8" stroke-width="0.7"/>
<circle cx="309.1" cy="310.7" r="1.55" fill="#f4f4f4" stroke="#a8a8a8" stroke-width="0.7"/>
<circle cx="312.7" cy="264.4" r="1.55" fill="#f4f4f4" stroke="#a8a8a8" stroke-width="0.7"/>
<circle cx="323.3" cy="253.9" r="1.55" fill="#f4f4f4" stroke="#a8a8a8" stroke-width="0.7"/>
<circle cx="327.5" cy="253.9" r="1.55" fill="#f4f4f4" stroke="#a8a8a8" stroke-width="0.7"/>
<circle cx="325.4" cy="257.4" r="1.55" fill="#f4f4f4" stroke="#a8a8a8" stroke-width="0.7"/>
<circle cx="320.1" cy="274.4" r="1.55" fill="#f4f4f4" stroke="#a8a8a8" stroke-width="0.7"/>
<circle cx="323.3" cy="274.4" r="1.55" fill="#f4f4f4" stroke="#a8a8a8" stroke-width="0.7"/>
<circle cx="326.2" cy="274.4" r="1.55" fill="#f4f4f4" stroke="#a8a8a8" stroke-width="0.7"/>
<circle cx="329.2" cy="274.4" r="1.55" fill="#f4f4f4" stroke="#a8a8a8" stroke-width="0.7"/>
<circle cx="332" cy="274.4" r="1.55" fill="#f4f4f4" stroke="#a8a8a8" stroke-width="0.7"/>
<circle cx="325.4" cy="277.9" r="1.55" fill="#f4f4f4" stroke="#a8a8a8" stroke-width="0.7"/>
<circle cx="323.3" cy="287.6" r="1.55" fill="#f4f4f4" stroke="#a8a8a8" stroke-width="0.7"/>
<circle cx="325.4" cy="290.7" r="1.55" fill="#f4f4f4" stroke="#a8a8a8" stroke-width="0.7"/>
<circle cx="328" cy="291.1" r="1.55" fill="#f4f4f4" stroke="#a8a8a8" stroke-width="0.7"/>
<circle cx="323.3" cy="293.7" r="1.55" fill="#f4f4f4" stroke="#a8a8a8" stroke-width="0.7"/>
<circle cx="328" cy="294.6" r="1.55" fill="#f4f4f4" stroke="#a8a8a8" stroke-width="0.7"/>
<circle cx="321.9" cy="294.6" r="1.55" fill="#f4f4f4" stroke="#a8a8a8" stroke-width="0.7"/>
<circle cx="325.4" cy="301.2" r="1.55" fill="#f4f4f4" stroke="#a8a8a8" stroke-width="0.7"/>
<circle cx="328" cy="301.2" r="1.55" fill="#f4f4f4" stroke="#a8a8a8" stroke-width="0.7"/>
<circle cx="325.4" cy="304.7" r="1.55" fill="#f4f4f4" stroke="#a8a8a8" stroke-width="0.7"/>
<circle cx="325.4" cy="314.7" r="1.55" fill="#f4f4f4" stroke="#a8a8a8" stroke-width="0.7"/>
<circle cx="323.3" cy="324.7" r="1.55" fill="#f4f4f4" stroke="#a8a8a8" stroke-width="0.7"/>
<circle cx="327.5" cy="324.7" r="1.55" fill="#f4f4f4" stroke="#a8a8a8" stroke-width="0.7"/>
<line x1="236.35" y1="258.27" x2="236.35" y2="272.43" stroke="#000" stroke-width="1.3"/>
<line x1="232.85" y1="258.27" x2="239.85" y2="258.27" stroke="#000" stroke-width="1.3"/>
<line x1="232.85" y1="272.43" x2="239.85" y2="272.43" stroke="#000" stroke-width="1.3"/>
<text x="236.35" y="341.6" font-size="8.5" text-anchor="middle" fill="#8c2a8c">17</text>
<line x1="252.6" y1="252.89" x2="252.6" y2="266.1" stroke="#000" stroke-width="1.3"/>
<line x1="249.1" y1="252.89" x2="256.1" y2="252.89" stroke="#000" stroke-width="1.3"/>
<line x1="249.1" y1="266.1" x2="256.1" y2="266.1" stroke="#000" stroke-width="1.3"/>
<text x="252.6" y="341.6" font-size="8.5" text-anchor="middle" fill="#8c2a8c">17</text>
<line x1="272.6" y1="275.92" x2="272.6" y2="288.19" stroke="#0000ff" stroke-width="1.3"/>
<line x1="269.1" y1="275.92" x2="276.1" y2="275.92" stroke="#0000ff" stroke-width="1.3"/>
<line x1="269.1" y1="288.19" x2="276.1" y2="288.19" stroke="#0000ff" stroke-width="1.3"/>
<text x="272.6" y="341.6" font-size="8.5" text-anchor="middle" fill="#8c2a8c">26</text>
<line x1="289" y1="292.16" x2="289" y2="304.43" stroke="#0000ff" stroke-width="1.3"/>
<line x1="285.5" y1="292.16" x2="292.5" y2="292.16" stroke="#0000ff" stroke-width="1.3"/>
<line x1="285.5" y1="304.43" x2="292.5" y2="304.43" stroke="#0000ff" stroke-width="1.3"/>
<text x="289" y="341.6" font-size="8.5" text-anchor="middle" fill="#8c2a8c">27</text>
<line x1="308.8" y1="266.86" x2="308.8" y2="276.3" stroke="#ff0000" stroke-width="1.3"/>
<line x1="305.3" y1="266.86" x2="312.3" y2="266.86" stroke="#ff0000" stroke-width="1.3"/>
<line x1="305.3" y1="276.3" x2="312.3" y2="276.3" stroke="#ff0000" stroke-width="1.3"/>
<text x="308.8" y="341.6" font-size="8.5" text-anchor="middle" fill="#8c2a8c">21</text>
<line x1="325.55" y1="283.38" x2="325.55" y2="293.95" stroke="#ff0000" stroke-width="1.3"/>
<line x1="322.05" y1="283.38" x2="329.05" y2="283.38" stroke="#ff0000" stroke-width="1.3"/>
<line x1="322.05" y1="293.95" x2="329.05" y2="293.95" stroke="#ff0000" stroke-width="1.3"/>
<text x="325.55" y="341.6" font-size="8.5" text-anchor="middle" fill="#8c2a8c">21</text>
<line x1="220.8" y1="239.7" x2="220.8" y2="344.7" stroke="#000" stroke-width="2"/>
<line x1="214.8" y1="343.7" x2="220.8" y2="343.7" stroke="#000" stroke-width="1.5"/>
<text x="212.6" y="346.28" font-size="8.6" text-anchor="end">0</text>
<line x1="214.8" y1="320.1" x2="220.8" y2="320.1" stroke="#000" stroke-width="1.5"/>
<text x="212.6" y="322.68" font-size="8.6" text-anchor="end">25</text>
<line x1="214.8" y1="296.5" x2="220.8" y2="296.5" stroke="#000" stroke-width="1.5"/>
<text x="212.6" y="299.08" font-size="8.6" text-anchor="end">50</text>
<line x1="214.8" y1="272.9" x2="220.8" y2="272.9" stroke="#000" stroke-width="1.5"/>
<text x="212.6" y="275.48" font-size="8.6" text-anchor="end">75</text>
<line x1="214.8" y1="249.3" x2="220.8" y2="249.3" stroke="#000" stroke-width="1.5"/>
<text x="212.6" y="251.88" font-size="8.6" text-anchor="end">100</text>
<line x1="219.8" y1="343.7" x2="340.2" y2="343.7" stroke="#000" stroke-width="1.7"/>
<text x="244.6" y="228.6" font-size="8" text-anchor="middle"><tspan font-style="italic">p</tspan>=0.5056</text>
<text x="244.55" y="235.6" font-size="8.5" text-anchor="middle">ns</text>
<line x1="235.8" y1="239.1" x2="253.3" y2="239.1" stroke="#3b2828" stroke-width="1.1"/>
<text x="287.9" y="228.6" font-size="8" text-anchor="middle"><tspan font-style="italic">p</tspan>=0.0419</text>
<path d="M281.4,231.6 L281.4,236.6 M279.23,232.85 L283.57,235.35 M283.57,232.85 L279.23,235.35 " stroke="#000" stroke-width="1.3" fill="none" stroke-linecap="butt"/>
<line x1="272.1" y1="239.1" x2="290.7" y2="239.1" stroke="#3b2828" stroke-width="1.1"/>
<text x="327.8" y="228.6" font-size="8" text-anchor="middle"><tspan font-style="italic">p</tspan>=0.0053</text>
<path d="M316.45,231.6 L316.45,236.6 M314.28,232.85 L318.62,235.35 M318.62,232.85 L314.28,235.35 " stroke="#000" stroke-width="1.3" fill="none" stroke-linecap="butt"/>
<path d="M323.45,231.6 L323.45,236.6 M321.28,232.85 L325.62,235.35 M325.62,232.85 L321.28,235.35 " stroke="#000" stroke-width="1.3" fill="none" stroke-linecap="butt"/>
<line x1="311.2" y1="239.1" x2="328.7" y2="239.1" stroke="#3b2828" stroke-width="1.1"/>
<text x="199" y="292.6" font-size="9.3" text-anchor="middle" transform="rotate(-90 199 292.6)">Dead ratio (%)</text>
<text x="216.4" y="353.8" font-size="9.2" text-anchor="end">Histamine</text>
<text x="227.4" y="351.3" font-size="9" text-anchor="middle" font-weight="bold">-</text>
<text x="248.4" y="351.3" font-size="9" text-anchor="middle" font-weight="bold">+</text>
<text x="271.2" y="351.3" font-size="9" text-anchor="middle" font-weight="bold">-</text>
<text x="290.6" y="351.3" font-size="9" text-anchor="middle" font-weight="bold">+</text>
<text x="314.7" y="351.3" font-size="9" text-anchor="middle" font-weight="bold">-</text>
<text x="334.5" y="351.3" font-size="9" text-anchor="middle" font-weight="bold">+</text>
<line x1="220.9" y1="353.3" x2="254.2" y2="353.3" stroke="#1a1a1a" stroke-width="1.2"/>
<line x1="263.3" y1="353.3" x2="297.1" y2="353.3" stroke="#1a1a1a" stroke-width="1.2"/>
<line x1="307.1" y1="353.3" x2="341" y2="353.3" stroke="#1a1a1a" stroke-width="1.2"/>
<text x="241.6" y="359.3" font-size="9.2" font-style="italic" text-anchor="end" transform="rotate(-45 241.6 359.3)">Pvap-1::mCherry</text>
<text x="286.1" y="360" font-size="9.2" font-style="italic" text-anchor="end" transform="rotate(-45 286.1 360)">Pvap-1::HisCl1</text>
<text x="331.7" y="361" font-size="9.2" font-style="italic" text-anchor="end" transform="rotate(-45 331.7 361)">PR11D1.3::HisCl1</text>
<text x="366.6" y="218.3" font-size="20">f</text>
<text x="386" y="216.8" font-size="10.5" fill="#ee2b2b">Heat resistance (37 °C)</text>
<path d="M399.2,231.8 L425.7,236.39 L452.2,243.29 L478.7,255.93 L505.2,278.91" stroke="#9090ff" stroke-width="1.6" fill="none" stroke-linejoin="round"/>
<line x1="425.7" y1="235.24" x2="425.7" y2="237.54" stroke="#9090ff" stroke-width="1.2"/>
<line x1="423.45" y1="235.24" x2="427.95" y2="235.24" stroke="#9090ff" stroke-width="1.2"/>
<line x1="423.45" y1="237.54" x2="427.95" y2="237.54" stroke="#9090ff" stroke-width="1.2"/>
<line x1="452.2" y1="240.99" x2="452.2" y2="245.59" stroke="#9090ff" stroke-width="1.2"/>
<line x1="449.95" y1="240.99" x2="454.45" y2="240.99" stroke="#9090ff" stroke-width="1.2"/>
<line x1="449.95" y1="245.59" x2="454.45" y2="245.59" stroke="#9090ff" stroke-width="1.2"/>
<line x1="478.7" y1="252.48" x2="478.7" y2="259.37" stroke="#9090ff" stroke-width="1.2"/>
<line x1="476.45" y1="252.48" x2="480.95" y2="252.48" stroke="#9090ff" stroke-width="1.2"/>
<line x1="476.45" y1="259.37" x2="480.95" y2="259.37" stroke="#9090ff" stroke-width="1.2"/>
<line x1="505.2" y1="275.46" x2="505.2" y2="282.35" stroke="#9090ff" stroke-width="1.2"/>
<line x1="502.95" y1="275.46" x2="507.45" y2="275.46" stroke="#9090ff" stroke-width="1.2"/>
<line x1="502.95" y1="282.35" x2="507.45" y2="282.35" stroke="#9090ff" stroke-width="1.2"/>
<rect x="396.8" y="229.4" width="4.8" height="4.8" fill="#9090ff"/>
<rect x="423.3" y="233.99" width="4.8" height="4.8" fill="#9090ff"/>
<rect x="449.8" y="240.89" width="4.8" height="4.8" fill="#9090ff"/>
<rect x="476.3" y="253.53" width="4.8" height="4.8" fill="#9090ff"/>
<rect x="502.8" y="276.51" width="4.8" height="4.8" fill="#9090ff"/>
<path d="M399.2,231.8 L425.7,240.07 L452.2,251.45 L478.7,273.16 L505.2,302" stroke="#0000ff" stroke-width="1.6" fill="none" stroke-linejoin="round"/>
<line x1="425.7" y1="237.77" x2="425.7" y2="242.37" stroke="#0000ff" stroke-width="1.2"/>
<line x1="423.45" y1="237.77" x2="427.95" y2="237.77" stroke="#0000ff" stroke-width="1.2"/>
<line x1="423.45" y1="242.37" x2="427.95" y2="242.37" stroke="#0000ff" stroke-width="1.2"/>
<line x1="452.2" y1="247.42" x2="452.2" y2="255.47" stroke="#0000ff" stroke-width="1.2"/>
<line x1="449.95" y1="247.42" x2="454.45" y2="247.42" stroke="#0000ff" stroke-width="1.2"/>
<line x1="449.95" y1="255.47" x2="454.45" y2="255.47" stroke="#0000ff" stroke-width="1.2"/>
<line x1="478.7" y1="267.42" x2="478.7" y2="278.91" stroke="#0000ff" stroke-width="1.2"/>
<line x1="476.45" y1="267.42" x2="480.95" y2="267.42" stroke="#0000ff" stroke-width="1.2"/>
<line x1="476.45" y1="278.91" x2="480.95" y2="278.91" stroke="#0000ff" stroke-width="1.2"/>
<line x1="505.2" y1="297.41" x2="505.2" y2="306.6" stroke="#0000ff" stroke-width="1.2"/>
<line x1="502.95" y1="297.41" x2="507.45" y2="297.41" stroke="#0000ff" stroke-width="1.2"/>
<line x1="502.95" y1="306.6" x2="507.45" y2="306.6" stroke="#0000ff" stroke-width="1.2"/>
<rect x="397" y="229.6" width="4.4" height="4.4" fill="#0000ff"/>
<rect x="423.5" y="237.87" width="4.4" height="4.4" fill="#0000ff"/>
<rect x="450" y="249.25" width="4.4" height="4.4" fill="#0000ff"/>
<rect x="476.5" y="270.96" width="4.4" height="4.4" fill="#0000ff"/>
<rect x="503" y="299.8" width="4.4" height="4.4" fill="#0000ff"/>
<path d="M399.2,231.8 L425.7,235.24 L452.2,242.14 L478.7,258.8 L505.2,280.52" stroke="#ff0000" stroke-width="1.6" fill="none" stroke-linejoin="round"/>
<line x1="425.7" y1="234.1" x2="425.7" y2="236.39" stroke="#ff0000" stroke-width="1.2"/>
<line x1="423.45" y1="234.1" x2="427.95" y2="234.1" stroke="#ff0000" stroke-width="1.2"/>
<line x1="423.45" y1="236.39" x2="427.95" y2="236.39" stroke="#ff0000" stroke-width="1.2"/>
<line x1="452.2" y1="239.84" x2="452.2" y2="244.44" stroke="#ff0000" stroke-width="1.2"/>
<line x1="449.95" y1="239.84" x2="454.45" y2="239.84" stroke="#ff0000" stroke-width="1.2"/>
<line x1="449.95" y1="244.44" x2="454.45" y2="244.44" stroke="#ff0000" stroke-width="1.2"/>
<line x1="478.7" y1="255.35" x2="478.7" y2="262.25" stroke="#ff0000" stroke-width="1.2"/>
<line x1="476.45" y1="255.35" x2="480.95" y2="255.35" stroke="#ff0000" stroke-width="1.2"/>
<line x1="476.45" y1="262.25" x2="480.95" y2="262.25" stroke="#ff0000" stroke-width="1.2"/>
<line x1="505.2" y1="275.35" x2="505.2" y2="285.69" stroke="#ff0000" stroke-width="1.2"/>
<line x1="502.95" y1="275.35" x2="507.45" y2="275.35" stroke="#ff0000" stroke-width="1.2"/>
<line x1="502.95" y1="285.69" x2="507.45" y2="285.69" stroke="#ff0000" stroke-width="1.2"/>
<circle cx="399.2" cy="231.8" r="2.2" fill="#ff0000"/>
<circle cx="425.7" cy="235.24" r="2.2" fill="#ff0000"/>
<circle cx="452.2" cy="242.14" r="2.2" fill="#ff0000"/>
<circle cx="478.7" cy="258.8" r="2.2" fill="#ff0000"/>
<circle cx="505.2" cy="280.52" r="2.2" fill="#ff0000"/>
<path d="M399.2,230.65 L425.7,232.95 L452.2,237.54 L478.7,253.63 L505.2,272.01" stroke="#000" stroke-width="1.6" fill="none" stroke-linejoin="round"/>
<line x1="425.7" y1="231.8" x2="425.7" y2="234.1" stroke="#000" stroke-width="1.2"/>
<line x1="423.45" y1="231.8" x2="427.95" y2="231.8" stroke="#000" stroke-width="1.2"/>
<line x1="423.45" y1="234.1" x2="427.95" y2="234.1" stroke="#000" stroke-width="1.2"/>
<line x1="452.2" y1="235.82" x2="452.2" y2="239.27" stroke="#000" stroke-width="1.2"/>
<line x1="449.95" y1="235.82" x2="454.45" y2="235.82" stroke="#000" stroke-width="1.2"/>
<line x1="449.95" y1="239.27" x2="454.45" y2="239.27" stroke="#000" stroke-width="1.2"/>
<line x1="478.7" y1="249.61" x2="478.7" y2="257.65" stroke="#000" stroke-width="1.2"/>
<line x1="476.45" y1="249.61" x2="480.95" y2="249.61" stroke="#000" stroke-width="1.2"/>
<line x1="476.45" y1="257.65" x2="480.95" y2="257.65" stroke="#000" stroke-width="1.2"/>
<line x1="505.2" y1="268.57" x2="505.2" y2="275.46" stroke="#000" stroke-width="1.2"/>
<line x1="502.95" y1="268.57" x2="507.45" y2="268.57" stroke="#000" stroke-width="1.2"/>
<line x1="502.95" y1="275.46" x2="507.45" y2="275.46" stroke="#000" stroke-width="1.2"/>
<circle cx="399.2" cy="230.65" r="1.9" fill="#fff" stroke="#000" stroke-width="1.4"/>
<circle cx="425.7" cy="232.95" r="1.9" fill="#fff" stroke="#000" stroke-width="1.4"/>
<circle cx="452.2" cy="237.54" r="1.9" fill="#fff" stroke="#000" stroke-width="1.4"/>
<circle cx="478.7" cy="253.63" r="1.9" fill="#fff" stroke="#000" stroke-width="1.4"/>
<circle cx="505.2" cy="272.01" r="1.9" fill="#fff" stroke="#000" stroke-width="1.4"/>
<line x1="399.2" y1="228.8" x2="399.2" y2="345.4" stroke="#000" stroke-width="2"/>
<line x1="393.7" y1="344.4" x2="399.2" y2="344.4" stroke="#000" stroke-width="1.5"/>
<text x="391.2" y="347.53" font-size="8.7" text-anchor="end">0</text>
<line x1="393.7" y1="321.42" x2="399.2" y2="321.42" stroke="#000" stroke-width="1.5"/>
<text x="391.2" y="324.55" font-size="8.7" text-anchor="end">20</text>
<line x1="393.7" y1="298.44" x2="399.2" y2="298.44" stroke="#000" stroke-width="1.5"/>
<text x="391.2" y="301.57" font-size="8.7" text-anchor="end">40</text>
<line x1="393.7" y1="275.46" x2="399.2" y2="275.46" stroke="#000" stroke-width="1.5"/>
<text x="391.2" y="278.59" font-size="8.7" text-anchor="end">60</text>
<line x1="393.7" y1="252.48" x2="399.2" y2="252.48" stroke="#000" stroke-width="1.5"/>
<text x="391.2" y="255.61" font-size="8.7" text-anchor="end">80</text>
<line x1="393.7" y1="229.5" x2="399.2" y2="229.5" stroke="#000" stroke-width="1.5"/>
<text x="391.2" y="232.63" font-size="8.7" text-anchor="end">100</text>
<line x1="398.2" y1="344.4" x2="505.7" y2="344.4" stroke="#000" stroke-width="2"/>
<line x1="399.2" y1="344.4" x2="399.2" y2="349.4" stroke="#000" stroke-width="1.5"/>
<text x="399.2" y="358.51" font-size="9.6" text-anchor="middle">2</text>
<line x1="425.7" y1="344.4" x2="425.7" y2="349.4" stroke="#000" stroke-width="1.5"/>
<text x="425.7" y="358.51" font-size="9.6" text-anchor="middle">3</text>
<line x1="452.2" y1="344.4" x2="452.2" y2="349.4" stroke="#000" stroke-width="1.5"/>
<text x="452.2" y="358.51" font-size="9.6" text-anchor="middle">4</text>
<line x1="478.7" y1="344.4" x2="478.7" y2="349.4" stroke="#000" stroke-width="1.5"/>
<text x="478.7" y="358.51" font-size="9.6" text-anchor="middle">5</text>
<line x1="505.2" y1="344.4" x2="505.2" y2="349.4" stroke="#000" stroke-width="1.5"/>
<text x="505.2" y="358.51" font-size="9.6" text-anchor="middle">6</text>
<text x="458.5" y="372.6" font-size="9.8" text-anchor="middle">Time (hr)</text>
<text x="377.3" y="280" font-size="9.4" text-anchor="middle" transform="rotate(-90 377.3 280)">Survival (%)</text>
<text x="493.5" y="257.5" font-size="8.2"><tspan font-style="italic">p</tspan>&lt;0.001</text>
<path d="M510.1,280.3 H512.3 V303.3 H510.1" stroke="#000" stroke-width="1.2" fill="none"/>
<path d="M515.2,284.5 L520.8,284.5 M516.6,282.08 L519.4,286.92 M519.4,282.08 L516.6,286.92 " stroke="#000" stroke-width="1.3" fill="none" stroke-linecap="butt"/>
<path d="M515.2,291.9 L520.8,291.9 M516.6,289.48 L519.4,294.32 M519.4,289.48 L516.6,294.32 " stroke="#000" stroke-width="1.3" fill="none" stroke-linecap="butt"/>
<path d="M515.2,299.3 L520.8,299.3 M516.6,296.88 L519.4,301.72 M519.4,296.88 L516.6,301.72 " stroke="#000" stroke-width="1.3" fill="none" stroke-linecap="butt"/>
<line x1="405.7" y1="304.1" x2="419" y2="304.1" stroke="#000" stroke-width="1.6"/>
<circle cx="412.3" cy="304.1" r="2" fill="#fff" stroke="#000" stroke-width="1.3"/>
<text x="421.8" y="306.9" font-size="7.9" font-style="italic">Pvap-1::mCherry</text>
<line x1="405.7" y1="314.9" x2="419" y2="314.9" stroke="#ff0000" stroke-width="1.6"/>
<circle cx="412.3" cy="314.9" r="1.9" fill="#ff0000"/>
<text x="421.8" y="317.7" font-size="7.9" font-style="italic">Pvap-1::mCherry, histamine+</text>
<line x1="405.7" y1="325" x2="419" y2="325" stroke="#9090ff" stroke-width="1.6"/>
<rect x="409.9" y="322.6" width="4.8" height="4.8" fill="#9090ff"/>
<text x="421.8" y="327.8" font-size="7.9" font-style="italic">Pvap-1::HisCl1</text>
<line x1="405.7" y1="335.2" x2="419" y2="335.2" stroke="#0000ff" stroke-width="1.6"/>
<rect x="409.9" y="332.8" width="4.8" height="4.8" fill="#0000ff"/>
<text x="421.8" y="338" font-size="7.9" font-style="italic">Pvap-1::HisCl1, histamine+</text>
<path d="M557.3,234.47 L581.15,237.26 L605,247.31 L628.85,280.79 L652.7,310.92" stroke="#9090ff" stroke-width="1.4" fill="none" stroke-linejoin="round"/>
<line x1="581.15" y1="235.59" x2="581.15" y2="238.94" stroke="#9090ff" stroke-width="1.2"/>
<line x1="578.9" y1="235.59" x2="583.4" y2="235.59" stroke="#9090ff" stroke-width="1.2"/>
<line x1="578.9" y1="238.94" x2="583.4" y2="238.94" stroke="#9090ff" stroke-width="1.2"/>
<line x1="605" y1="245.08" x2="605" y2="249.54" stroke="#9090ff" stroke-width="1.2"/>
<line x1="602.75" y1="245.08" x2="607.25" y2="245.08" stroke="#9090ff" stroke-width="1.2"/>
<line x1="602.75" y1="249.54" x2="607.25" y2="249.54" stroke="#9090ff" stroke-width="1.2"/>
<line x1="628.85" y1="277.44" x2="628.85" y2="284.14" stroke="#9090ff" stroke-width="1.2"/>
<line x1="626.6" y1="277.44" x2="631.1" y2="277.44" stroke="#9090ff" stroke-width="1.2"/>
<line x1="626.6" y1="284.14" x2="631.1" y2="284.14" stroke="#9090ff" stroke-width="1.2"/>
<line x1="652.7" y1="307.57" x2="652.7" y2="314.27" stroke="#9090ff" stroke-width="1.2"/>
<line x1="650.45" y1="307.57" x2="654.95" y2="307.57" stroke="#9090ff" stroke-width="1.2"/>
<line x1="650.45" y1="314.27" x2="654.95" y2="314.27" stroke="#9090ff" stroke-width="1.2"/>
<rect x="555.6" y="232.77" width="3.4" height="3.4" fill="#fff" stroke="#9090ff" stroke-width="1.3"/>
<rect x="579.45" y="235.56" width="3.4" height="3.4" fill="#fff" stroke="#9090ff" stroke-width="1.3"/>
<rect x="603.3" y="245.61" width="3.4" height="3.4" fill="#fff" stroke="#9090ff" stroke-width="1.3"/>
<rect x="627.15" y="279.09" width="3.4" height="3.4" fill="#fff" stroke="#9090ff" stroke-width="1.3"/>
<rect x="651" y="309.22" width="3.4" height="3.4" fill="#fff" stroke="#9090ff" stroke-width="1.3"/>
<path d="M557.3,232.8 L581.15,232.8 L605,237.26 L628.85,254 L652.7,267.4" stroke="#000" stroke-width="1.4" fill="none" stroke-linejoin="round"/>
<line x1="581.15" y1="231.68" x2="581.15" y2="233.92" stroke="#000" stroke-width="1.2"/>
<line x1="578.9" y1="231.68" x2="583.4" y2="231.68" stroke="#000" stroke-width="1.2"/>
<line x1="578.9" y1="233.92" x2="583.4" y2="233.92" stroke="#000" stroke-width="1.2"/>
<line x1="605" y1="235.59" x2="605" y2="238.94" stroke="#000" stroke-width="1.2"/>
<line x1="602.75" y1="235.59" x2="607.25" y2="235.59" stroke="#000" stroke-width="1.2"/>
<line x1="602.75" y1="238.94" x2="607.25" y2="238.94" stroke="#000" stroke-width="1.2"/>
<line x1="628.85" y1="251.21" x2="628.85" y2="256.79" stroke="#000" stroke-width="1.2"/>
<line x1="626.6" y1="251.21" x2="631.1" y2="251.21" stroke="#000" stroke-width="1.2"/>
<line x1="626.6" y1="256.79" x2="631.1" y2="256.79" stroke="#000" stroke-width="1.2"/>
<line x1="652.7" y1="264.05" x2="652.7" y2="270.74" stroke="#000" stroke-width="1.2"/>
<line x1="650.45" y1="264.05" x2="654.95" y2="264.05" stroke="#000" stroke-width="1.2"/>
<line x1="650.45" y1="270.74" x2="654.95" y2="270.74" stroke="#000" stroke-width="1.2"/>
<circle cx="557.3" cy="232.8" r="2" fill="#000"/>
<circle cx="581.15" cy="232.8" r="2" fill="#000"/>
<circle cx="605" cy="237.26" r="2" fill="#000"/>
<circle cx="628.85" cy="254" r="2" fill="#000"/>
<circle cx="652.7" cy="267.4" r="2" fill="#000"/>
<path d="M557.3,234.47 L581.15,244.29 L605,261.82 L628.85,296.08 L652.7,328.11" stroke="#ff0000" stroke-width="1.4" fill="none" stroke-linejoin="round"/>
<line x1="581.15" y1="242.06" x2="581.15" y2="246.53" stroke="#ff0000" stroke-width="1.2"/>
<line x1="578.9" y1="242.06" x2="583.4" y2="242.06" stroke="#ff0000" stroke-width="1.2"/>
<line x1="578.9" y1="246.53" x2="583.4" y2="246.53" stroke="#ff0000" stroke-width="1.2"/>
<line x1="605" y1="259.58" x2="605" y2="264.05" stroke="#ff0000" stroke-width="1.2"/>
<line x1="602.75" y1="259.58" x2="607.25" y2="259.58" stroke="#ff0000" stroke-width="1.2"/>
<line x1="602.75" y1="264.05" x2="607.25" y2="264.05" stroke="#ff0000" stroke-width="1.2"/>
<line x1="628.85" y1="292.17" x2="628.85" y2="299.98" stroke="#ff0000" stroke-width="1.2"/>
<line x1="626.6" y1="292.17" x2="631.1" y2="292.17" stroke="#ff0000" stroke-width="1.2"/>
<line x1="626.6" y1="299.98" x2="631.1" y2="299.98" stroke="#ff0000" stroke-width="1.2"/>
<line x1="652.7" y1="326.99" x2="652.7" y2="329.22" stroke="#ff0000" stroke-width="1.2"/>
<line x1="650.45" y1="326.99" x2="654.95" y2="326.99" stroke="#ff0000" stroke-width="1.2"/>
<line x1="650.45" y1="329.22" x2="654.95" y2="329.22" stroke="#ff0000" stroke-width="1.2"/>
<circle cx="557.3" cy="234.47" r="2.1" fill="#fff" stroke="#ff0000" stroke-width="1.5"/>
<circle cx="581.15" cy="244.29" r="2.1" fill="#fff" stroke="#ff0000" stroke-width="1.5"/>
<circle cx="605" cy="261.82" r="2.1" fill="#fff" stroke="#ff0000" stroke-width="1.5"/>
<circle cx="628.85" cy="296.08" r="2.1" fill="#fff" stroke="#ff0000" stroke-width="1.5"/>
<circle cx="652.7" cy="328.11" r="2.1" fill="#fff" stroke="#ff0000" stroke-width="1.5"/>
<line x1="557.3" y1="232.1" x2="557.3" y2="345.4" stroke="#000" stroke-width="2"/>
<line x1="552.6" y1="344.4" x2="557.3" y2="344.4" stroke="#000" stroke-width="1.5"/>
<text x="550.2" y="347.28" font-size="8" text-anchor="end">0</text>
<line x1="552.6" y1="322.08" x2="557.3" y2="322.08" stroke="#000" stroke-width="1.5"/>
<text x="550.2" y="324.96" font-size="8" text-anchor="end">20</text>
<line x1="552.6" y1="299.76" x2="557.3" y2="299.76" stroke="#000" stroke-width="1.5"/>
<text x="550.2" y="302.64" font-size="8" text-anchor="end">40</text>
<line x1="552.6" y1="277.44" x2="557.3" y2="277.44" stroke="#000" stroke-width="1.5"/>
<text x="550.2" y="280.32" font-size="8" text-anchor="end">60</text>
<line x1="552.6" y1="255.12" x2="557.3" y2="255.12" stroke="#000" stroke-width="1.5"/>
<text x="550.2" y="258" font-size="8" text-anchor="end">80</text>
<line x1="552.6" y1="232.8" x2="557.3" y2="232.8" stroke="#000" stroke-width="1.5"/>
<text x="550.2" y="235.68" font-size="8" text-anchor="end">100</text>
<line x1="556.3" y1="344.4" x2="653.2" y2="344.4" stroke="#000" stroke-width="2"/>
<line x1="557.3" y1="344.4" x2="557.3" y2="349.4" stroke="#000" stroke-width="1.5"/>
<text x="557.3" y="358.51" font-size="9.6" text-anchor="middle">2</text>
<line x1="581.15" y1="344.4" x2="581.15" y2="349.4" stroke="#000" stroke-width="1.5"/>
<text x="581.15" y="358.51" font-size="9.6" text-anchor="middle">3</text>
<line x1="605" y1="344.4" x2="605" y2="349.4" stroke="#000" stroke-width="1.5"/>
<text x="605" y="358.51" font-size="9.6" text-anchor="middle">4</text>
<line x1="628.85" y1="344.4" x2="628.85" y2="349.4" stroke="#000" stroke-width="1.5"/>
<text x="628.85" y="358.51" font-size="9.6" text-anchor="middle">5</text>
<line x1="652.7" y1="344.4" x2="652.7" y2="349.4" stroke="#000" stroke-width="1.5"/>
<text x="652.7" y="358.51" font-size="9.6" text-anchor="middle">6</text>
<text x="614.3" y="371.2" font-size="9.8" text-anchor="middle">Time (hr)</text>
<text x="536" y="284.7" font-size="9.5" text-anchor="middle" transform="rotate(-90 536 284.7)">Survival (%)</text>
<text x="655.2" y="339.0" font-size="8.0"><tspan font-style="italic">p</tspan>&lt;0.001</text>
<path d="M656.3,311.8 H658.6 V329.7 H656.3" stroke="#000" stroke-width="1.2" fill="none"/>
<path d="M661.2,313.4 L666.8,313.4 M662.6,310.98 L665.4,315.82 M665.4,310.98 L662.6,315.82 " stroke="#000" stroke-width="1.3" fill="none" stroke-linecap="butt"/>
<path d="M661.2,320.8 L666.8,320.8 M662.6,318.38 L665.4,323.22 M665.4,318.38 L662.6,323.22 " stroke="#000" stroke-width="1.3" fill="none" stroke-linecap="butt"/>
<path d="M661.2,328.2 L666.8,328.2 M662.6,325.78 L665.4,330.62 M665.4,325.78 L662.6,330.62 " stroke="#000" stroke-width="1.3" fill="none" stroke-linecap="butt"/>
<path d="M672.3,268.7 H674.6 V328.5 H672.3" stroke="#000" stroke-width="1.2" fill="none"/>
<path d="M678.2,294 L683.8,294 M679.6,291.58 L682.4,296.42 M682.4,291.58 L679.6,296.42 " stroke="#000" stroke-width="1.3" fill="none" stroke-linecap="butt"/>
<path d="M678.2,301.3 L683.8,301.3 M679.6,298.88 L682.4,303.72 M682.4,298.88 L679.6,303.72 " stroke="#000" stroke-width="1.3" fill="none" stroke-linecap="butt"/>
<path d="M678.2,308.6 L683.8,308.6 M679.6,306.18 L682.4,311.02 M682.4,306.18 L679.6,311.02 " stroke="#000" stroke-width="1.3" fill="none" stroke-linecap="butt"/>
<line x1="563.4" y1="301.2" x2="573.3" y2="301.2" stroke="#000" stroke-width="1.6"/>
<circle cx="568.3" cy="301.2" r="1.9" fill="#000"/>
<text x="574.6" y="304.1" font-size="8.1">N2</text>
<line x1="563.4" y1="312.3" x2="573.3" y2="312.3" stroke="#ff0000" stroke-width="1.6"/>
<circle cx="568.3" cy="312.3" r="2" fill="#fff" stroke="#ff0000" stroke-width="1.4"/>
<text x="575" y="315.2" font-size="8.1" font-style="italic">gcy-28(tm3028)</text>
<line x1="563.4" y1="325.5" x2="573.3" y2="325.5" stroke="#9090ff" stroke-width="1.6"/>
<rect x="566.3" y="323.5" width="4" height="4" fill="#fff" stroke="#9090ff" stroke-width="1.4"/>
<text x="575" y="328.4" font-size="8.1" font-style="italic">gcy-28(tm3028);</text>
<text x="575" y="338.2" font-size="8.1" font-style="italic">Pvap-1::gcy-28</text>
<text x="-0.5" y="427.3" font-size="20">g</text>
<text x="133" y="428.5" font-size="11.6" text-anchor="middle" font-weight="bold">Thermal gradient plate</text>
<text x="36.8" y="443.5" font-size="9.2">Low temperature</text>
<text x="242" y="443.5" font-size="9.2" text-anchor="end">High temperature</text>
<defs><linearGradient id="tg" x1="0" x2="1" y1="0" y2="0">
<stop offset="0" stop-color="#0a6bb8"/>
<stop offset="0.08" stop-color="#1873a8"/>
<stop offset="0.16" stop-color="#2a7598"/>
<stop offset="0.34" stop-color="#547f78"/>
<stop offset="0.47" stop-color="#738762"/>
<stop offset="0.56" stop-color="#888a50"/>
<stop offset="0.75" stop-color="#b8902f"/>
<stop offset="0.9" stop-color="#dc9719"/>
<stop offset="1" stop-color="#f29c05"/>
</linearGradient></defs>
<rect x="33.6" y="446.9" width="204.2" height="64.4" fill="url(#tg)" stroke="#8e8e8e" stroke-width="1"/>
<line x1="53.8" y1="447.8" x2="53.8" y2="510.8" stroke="#e4e4e4" stroke-width="1" stroke-dasharray="1.6 1.6"/>
<text x="53.8" y="519.6" font-size="9" text-anchor="middle">-5</text>
<line x1="73.1" y1="447.8" x2="73.1" y2="510.8" stroke="#e4e4e4" stroke-width="1" stroke-dasharray="1.6 1.6"/>
<text x="73.1" y="519.6" font-size="9" text-anchor="middle">-4</text>
<line x1="93.6" y1="447.8" x2="93.6" y2="510.8" stroke="#e4e4e4" stroke-width="1" stroke-dasharray="1.6 1.6"/>
<text x="93.6" y="519.6" font-size="9" text-anchor="middle">-3</text>
<line x1="114.6" y1="447.8" x2="114.6" y2="510.8" stroke="#e4e4e4" stroke-width="1" stroke-dasharray="1.6 1.6"/>
<text x="114.6" y="519.6" font-size="9" text-anchor="middle">-2</text>
<line x1="136" y1="447.8" x2="136" y2="510.8" stroke="#e4e4e4" stroke-width="1" stroke-dasharray="1.6 1.6"/>
<text x="136" y="519.6" font-size="9" text-anchor="middle">-1</text>
<line x1="156.8" y1="447.8" x2="156.8" y2="510.8" stroke="#1c2a98" stroke-width="1.7" stroke-dasharray="1.7 1.9"/>
<text x="156.8" y="519.6" font-size="9" text-anchor="middle">0</text>
<line x1="176.8" y1="447.8" x2="176.8" y2="510.8" stroke="#e4e4e4" stroke-width="1" stroke-dasharray="1.6 1.6"/>
<text x="176.8" y="519.6" font-size="9" text-anchor="middle">1</text>
<line x1="197.2" y1="447.8" x2="197.2" y2="510.8" stroke="#e4e4e4" stroke-width="1" stroke-dasharray="1.6 1.6"/>
<text x="197.2" y="519.6" font-size="9" text-anchor="middle">2</text>
<line x1="217.5" y1="447.8" x2="217.5" y2="510.8" stroke="#e4e4e4" stroke-width="1" stroke-dasharray="1.6 1.6"/>
<text x="217.5" y="519.6" font-size="9" text-anchor="middle">3</text>
<text x="237.8" y="519.6" font-size="9" text-anchor="middle">4</text>
<path d="M152.9,460.7 c0.8,-1.6 1.6,-0.4 2.4,-1.2 c0.6,-0.7 1.2,-1.4 2.6,-1.0" stroke="#ffffff" stroke-width="0.95" fill="none" stroke-linecap="round" transform="rotate(-21 155.5 459.5)"/>
<path d="M151.2,464.2 c0.8,-1.6 1.6,-0.4 2.4,-1.2 c0.6,-0.7 1.2,-1.4 2.6,-1.0" stroke="#ffffff" stroke-width="0.95" fill="none" stroke-linecap="round" transform="rotate(-42 153.8 463)"/>
<path d="M154.6,467.7 c0.8,-1.6 1.6,-0.4 2.4,-1.2 c0.6,-0.7 1.2,-1.4 2.6,-1.0" stroke="#ffffff" stroke-width="0.95" fill="none" stroke-linecap="round" transform="rotate(18 157.2 466.5)"/>
<path d="M149.6,472 c0.8,-1.6 1.6,-0.4 2.4,-1.2 c0.6,-0.7 1.2,-1.4 2.6,-1.0" stroke="#ffffff" stroke-width="0.95" fill="none" stroke-linecap="round" transform="rotate(-51 152.2 470.8)"/>
<path d="M152.6,475.4 c0.8,-1.6 1.6,-0.4 2.4,-1.2 c0.6,-0.7 1.2,-1.4 2.6,-1.0" stroke="#ffffff" stroke-width="0.95" fill="none" stroke-linecap="round" transform="rotate(4 155.2 474.2)"/>
<path d="M154.8,479 c0.8,-1.6 1.6,-0.4 2.4,-1.2 c0.6,-0.7 1.2,-1.4 2.6,-1.0" stroke="#ffffff" stroke-width="0.95" fill="none" stroke-linecap="round" transform="rotate(-16 157.4 477.8)"/>
<path d="M150.8,482.7 c0.8,-1.6 1.6,-0.4 2.4,-1.2 c0.6,-0.7 1.2,-1.4 2.6,-1.0" stroke="#ffffff" stroke-width="0.95" fill="none" stroke-linecap="round" transform="rotate(-53 153.4 481.5)"/>
<path d="M153,486.2 c0.8,-1.6 1.6,-0.4 2.4,-1.2 c0.6,-0.7 1.2,-1.4 2.6,-1.0" stroke="#ffffff" stroke-width="0.95" fill="none" stroke-linecap="round" transform="rotate(1 155.6 485)"/>
<path d="M154.8,489.4 c0.8,-1.6 1.6,-0.4 2.4,-1.2 c0.6,-0.7 1.2,-1.4 2.6,-1.0" stroke="#ffffff" stroke-width="0.95" fill="none" stroke-linecap="round" transform="rotate(-56 157.4 488.2)"/>
<path d="M151.2,493 c0.8,-1.6 1.6,-0.4 2.4,-1.2 c0.6,-0.7 1.2,-1.4 2.6,-1.0" stroke="#ffffff" stroke-width="0.95" fill="none" stroke-linecap="round" transform="rotate(-8 153.8 491.8)"/>
<path d="M149.2,496.4 c0.8,-1.6 1.6,-0.4 2.4,-1.2 c0.6,-0.7 1.2,-1.4 2.6,-1.0" stroke="#ffffff" stroke-width="0.95" fill="none" stroke-linecap="round" transform="rotate(-52 151.8 495.2)"/>
<path d="M153.6,498 c0.8,-1.6 1.6,-0.4 2.4,-1.2 c0.6,-0.7 1.2,-1.4 2.6,-1.0" stroke="#ffffff" stroke-width="0.95" fill="none" stroke-linecap="round" transform="rotate(-49 156.2 496.8)"/>
<path d="M150.6,500.2 c0.8,-1.6 1.6,-0.4 2.4,-1.2 c0.6,-0.7 1.2,-1.4 2.6,-1.0" stroke="#ffffff" stroke-width="0.95" fill="none" stroke-linecap="round" transform="rotate(-9 153.2 499)"/>
<text x="30.6" y="476" font-size="9" text-anchor="middle" transform="rotate(-90 30.6 476)">10 cm</text>
<text x="37.8" y="506.5" font-size="9" fill="#ffffff">14 cm</text>
<text x="236.9" y="529.3" font-size="9" text-anchor="middle">Score</text>
<text x="155.8" y="532.8" font-size="9.2" text-anchor="middle">T-start: 20 °C</text>
<line x1="155.6" y1="538.6" x2="155.6" y2="560" stroke="#000" stroke-width="1"/>
<path d="M153.2,558.6 L155.6,564.0 L158.0,558.6 Z" stroke="none" stroke-width="0" fill="#000"/>
<text x="148.8" y="552.8" font-size="9.2" text-anchor="end">Count after 1 hr</text>
<text x="155.8" y="574.6" font-size="9.2" text-anchor="middle">Thermotaxis (TTX) index</text>
<text x="289.4" y="426.8" font-size="20">h</text>
<text x="302.6" y="435.6" font-size="11.3">23°C-cultured, 0.5°C/cm</text>
<text x="302.8" y="449.2" font-size="11.3" font-style="italic">Pvap-1::mCherry</text>
<rect x="389.9" y="476.3" width="5.8" height="97.3" fill="#cdcdcd"/>
<path d="M329.6,556.45 L345.55,544.12 L361.5,528.04 L377.45,518.93 L393.4,502.31 L409.35,487.3 L425.3,481.94 L441.25,509.28 L457.2,535.54 L473.15,551.09 L489.1,564.49" stroke="#000" stroke-width="1.1" fill="none" stroke-linejoin="round"/>
<line x1="329.6" y1="553.23" x2="329.6" y2="559.66" stroke="#000" stroke-width="1.1"/>
<line x1="327.6" y1="553.23" x2="331.6" y2="553.23" stroke="#000" stroke-width="1.1"/>
<line x1="327.6" y1="559.66" x2="331.6" y2="559.66" stroke="#000" stroke-width="1.1"/>
<line x1="345.55" y1="540.9" x2="345.55" y2="547.34" stroke="#000" stroke-width="1.1"/>
<line x1="343.55" y1="540.9" x2="347.55" y2="540.9" stroke="#000" stroke-width="1.1"/>
<line x1="343.55" y1="547.34" x2="347.55" y2="547.34" stroke="#000" stroke-width="1.1"/>
<line x1="361.5" y1="524.29" x2="361.5" y2="531.79" stroke="#000" stroke-width="1.1"/>
<line x1="359.5" y1="524.29" x2="363.5" y2="524.29" stroke="#000" stroke-width="1.1"/>
<line x1="359.5" y1="531.79" x2="363.5" y2="531.79" stroke="#000" stroke-width="1.1"/>
<line x1="377.45" y1="515.71" x2="377.45" y2="522.14" stroke="#000" stroke-width="1.1"/>
<line x1="375.45" y1="515.71" x2="379.45" y2="515.71" stroke="#000" stroke-width="1.1"/>
<line x1="375.45" y1="522.14" x2="379.45" y2="522.14" stroke="#000" stroke-width="1.1"/>
<line x1="393.4" y1="498.02" x2="393.4" y2="506.6" stroke="#000" stroke-width="1.1"/>
<line x1="391.4" y1="498.02" x2="395.4" y2="498.02" stroke="#000" stroke-width="1.1"/>
<line x1="391.4" y1="506.6" x2="395.4" y2="506.6" stroke="#000" stroke-width="1.1"/>
<line x1="409.35" y1="484.62" x2="409.35" y2="489.98" stroke="#000" stroke-width="1.1"/>
<line x1="407.35" y1="484.62" x2="411.35" y2="484.62" stroke="#000" stroke-width="1.1"/>
<line x1="407.35" y1="489.98" x2="411.35" y2="489.98" stroke="#000" stroke-width="1.1"/>
<line x1="425.3" y1="479.26" x2="425.3" y2="484.62" stroke="#000" stroke-width="1.1"/>
<line x1="423.3" y1="479.26" x2="427.3" y2="479.26" stroke="#000" stroke-width="1.1"/>
<line x1="423.3" y1="484.62" x2="427.3" y2="484.62" stroke="#000" stroke-width="1.1"/>
<line x1="441.25" y1="504.99" x2="441.25" y2="513.57" stroke="#000" stroke-width="1.1"/>
<line x1="439.25" y1="504.99" x2="443.25" y2="504.99" stroke="#000" stroke-width="1.1"/>
<line x1="439.25" y1="513.57" x2="443.25" y2="513.57" stroke="#000" stroke-width="1.1"/>
<line x1="457.2" y1="531.26" x2="457.2" y2="539.83" stroke="#000" stroke-width="1.1"/>
<line x1="455.2" y1="531.26" x2="459.2" y2="531.26" stroke="#000" stroke-width="1.1"/>
<line x1="455.2" y1="539.83" x2="459.2" y2="539.83" stroke="#000" stroke-width="1.1"/>
<line x1="473.15" y1="547.34" x2="473.15" y2="554.84" stroke="#000" stroke-width="1.1"/>
<line x1="471.15" y1="547.34" x2="475.15" y2="547.34" stroke="#000" stroke-width="1.1"/>
<line x1="471.15" y1="554.84" x2="475.15" y2="554.84" stroke="#000" stroke-width="1.1"/>
<line x1="489.1" y1="562.34" x2="489.1" y2="566.63" stroke="#000" stroke-width="1.1"/>
<line x1="487.1" y1="562.34" x2="491.1" y2="562.34" stroke="#000" stroke-width="1.1"/>
<line x1="487.1" y1="566.63" x2="491.1" y2="566.63" stroke="#000" stroke-width="1.1"/>
<circle cx="329.6" cy="556.45" r="2" fill="#fff" stroke="#000" stroke-width="1"/>
<circle cx="345.55" cy="544.12" r="2" fill="#fff" stroke="#000" stroke-width="1"/>
<circle cx="361.5" cy="528.04" r="2" fill="#fff" stroke="#000" stroke-width="1"/>
<circle cx="377.45" cy="518.93" r="2" fill="#fff" stroke="#000" stroke-width="1"/>
<circle cx="393.4" cy="502.31" r="2" fill="#fff" stroke="#000" stroke-width="1"/>
<circle cx="409.35" cy="487.3" r="2" fill="#fff" stroke="#000" stroke-width="1"/>
<circle cx="425.3" cy="481.94" r="2" fill="#fff" stroke="#000" stroke-width="1"/>
<circle cx="441.25" cy="509.28" r="2" fill="#fff" stroke="#000" stroke-width="1"/>
<circle cx="457.2" cy="535.54" r="2" fill="#fff" stroke="#000" stroke-width="1"/>
<circle cx="473.15" cy="551.09" r="2" fill="#fff" stroke="#000" stroke-width="1"/>
<circle cx="489.1" cy="564.49" r="2" fill="#fff" stroke="#000" stroke-width="1"/>
<path d="M329.6,565.02 L345.55,552.16 L361.5,533.94 L377.45,518.39 L393.4,499.63 L409.35,481.41 L425.3,481.41 L441.25,503.92 L457.2,529.65 L473.15,552.16 L489.1,564.49" stroke="#ff0000" stroke-width="1.3" fill="none" stroke-linejoin="round"/>
<line x1="329.6" y1="563.42" x2="329.6" y2="566.63" stroke="#ff0000" stroke-width="1.1"/>
<line x1="327.6" y1="563.42" x2="331.6" y2="563.42" stroke="#ff0000" stroke-width="1.1"/>
<line x1="327.6" y1="566.63" x2="331.6" y2="566.63" stroke="#ff0000" stroke-width="1.1"/>
<line x1="345.55" y1="549.48" x2="345.55" y2="554.84" stroke="#ff0000" stroke-width="1.1"/>
<line x1="343.55" y1="549.48" x2="347.55" y2="549.48" stroke="#ff0000" stroke-width="1.1"/>
<line x1="343.55" y1="554.84" x2="347.55" y2="554.84" stroke="#ff0000" stroke-width="1.1"/>
<line x1="361.5" y1="530.18" x2="361.5" y2="537.69" stroke="#ff0000" stroke-width="1.1"/>
<line x1="359.5" y1="530.18" x2="363.5" y2="530.18" stroke="#ff0000" stroke-width="1.1"/>
<line x1="359.5" y1="537.69" x2="363.5" y2="537.69" stroke="#ff0000" stroke-width="1.1"/>
<line x1="377.45" y1="515.18" x2="377.45" y2="521.61" stroke="#ff0000" stroke-width="1.1"/>
<line x1="375.45" y1="515.18" x2="379.45" y2="515.18" stroke="#ff0000" stroke-width="1.1"/>
<line x1="375.45" y1="521.61" x2="379.45" y2="521.61" stroke="#ff0000" stroke-width="1.1"/>
<line x1="393.4" y1="495.88" x2="393.4" y2="503.38" stroke="#ff0000" stroke-width="1.1"/>
<line x1="391.4" y1="495.88" x2="395.4" y2="495.88" stroke="#ff0000" stroke-width="1.1"/>
<line x1="391.4" y1="503.38" x2="395.4" y2="503.38" stroke="#ff0000" stroke-width="1.1"/>
<line x1="409.35" y1="478.19" x2="409.35" y2="484.62" stroke="#ff0000" stroke-width="1.1"/>
<line x1="407.35" y1="478.19" x2="411.35" y2="478.19" stroke="#ff0000" stroke-width="1.1"/>
<line x1="407.35" y1="484.62" x2="411.35" y2="484.62" stroke="#ff0000" stroke-width="1.1"/>
<line x1="425.3" y1="478.73" x2="425.3" y2="484.09" stroke="#ff0000" stroke-width="1.1"/>
<line x1="423.3" y1="478.73" x2="427.3" y2="478.73" stroke="#ff0000" stroke-width="1.1"/>
<line x1="423.3" y1="484.09" x2="427.3" y2="484.09" stroke="#ff0000" stroke-width="1.1"/>
<line x1="441.25" y1="499.63" x2="441.25" y2="508.21" stroke="#ff0000" stroke-width="1.1"/>
<line x1="439.25" y1="499.63" x2="443.25" y2="499.63" stroke="#ff0000" stroke-width="1.1"/>
<line x1="439.25" y1="508.21" x2="443.25" y2="508.21" stroke="#ff0000" stroke-width="1.1"/>
<line x1="457.2" y1="525.9" x2="457.2" y2="533.4" stroke="#ff0000" stroke-width="1.1"/>
<line x1="455.2" y1="525.9" x2="459.2" y2="525.9" stroke="#ff0000" stroke-width="1.1"/>
<line x1="455.2" y1="533.4" x2="459.2" y2="533.4" stroke="#ff0000" stroke-width="1.1"/>
<line x1="473.15" y1="548.41" x2="473.15" y2="555.91" stroke="#ff0000" stroke-width="1.1"/>
<line x1="471.15" y1="548.41" x2="475.15" y2="548.41" stroke="#ff0000" stroke-width="1.1"/>
<line x1="471.15" y1="555.91" x2="475.15" y2="555.91" stroke="#ff0000" stroke-width="1.1"/>
<line x1="489.1" y1="562.88" x2="489.1" y2="566.1" stroke="#ff0000" stroke-width="1.1"/>
<line x1="487.1" y1="562.88" x2="491.1" y2="562.88" stroke="#ff0000" stroke-width="1.1"/>
<line x1="487.1" y1="566.1" x2="491.1" y2="566.1" stroke="#ff0000" stroke-width="1.1"/>
<circle cx="329.6" cy="565.02" r="2.3" fill="#ff0000"/>
<circle cx="345.55" cy="552.16" r="2.3" fill="#ff0000"/>
<circle cx="361.5" cy="533.94" r="2.3" fill="#ff0000"/>
<circle cx="377.45" cy="518.39" r="2.3" fill="#ff0000"/>
<circle cx="393.4" cy="499.63" r="2.3" fill="#ff0000"/>
<circle cx="409.35" cy="481.41" r="2.3" fill="#ff0000"/>
<circle cx="425.3" cy="481.41" r="2.3" fill="#ff0000"/>
<circle cx="441.25" cy="503.92" r="2.3" fill="#ff0000"/>
<circle cx="457.2" cy="529.65" r="2.3" fill="#ff0000"/>
<circle cx="473.15" cy="552.16" r="2.3" fill="#ff0000"/>
<circle cx="489.1" cy="564.49" r="2.3" fill="#ff0000"/>
<line x1="329.6" y1="465.7" x2="329.6" y2="574.5" stroke="#000" stroke-width="1.8"/>
<line x1="324.9" y1="573.6" x2="329.6" y2="573.6" stroke="#000" stroke-width="1.5"/>
<text x="322.7" y="576.57" font-size="9" text-anchor="end">0</text>
<line x1="324.9" y1="546.8" x2="329.6" y2="546.8" stroke="#000" stroke-width="1.5"/>
<text x="322.7" y="549.77" font-size="9" text-anchor="end">5</text>
<line x1="324.9" y1="520" x2="329.6" y2="520" stroke="#000" stroke-width="1.5"/>
<text x="322.7" y="522.97" font-size="9" text-anchor="end">10</text>
<line x1="324.9" y1="493.2" x2="329.6" y2="493.2" stroke="#000" stroke-width="1.5"/>
<text x="322.7" y="496.17" font-size="9" text-anchor="end">15</text>
<line x1="324.9" y1="466.4" x2="329.6" y2="466.4" stroke="#000" stroke-width="1.5"/>
<text x="322.7" y="469.37" font-size="9" text-anchor="end">20</text>
<line x1="328.7" y1="573.6" x2="489.85" y2="573.6" stroke="#000" stroke-width="1.8"/>
<line x1="329.6" y1="573.6" x2="329.6" y2="578" stroke="#000" stroke-width="1.5"/>
<line x1="361.5" y1="573.6" x2="361.5" y2="578" stroke="#000" stroke-width="1.5"/>
<line x1="393.4" y1="573.6" x2="393.4" y2="578" stroke="#000" stroke-width="1.5"/>
<line x1="425.3" y1="573.6" x2="425.3" y2="578" stroke="#000" stroke-width="1.5"/>
<line x1="457.2" y1="573.6" x2="457.2" y2="578" stroke="#000" stroke-width="1.5"/>
<line x1="489.1" y1="573.6" x2="489.1" y2="578" stroke="#000" stroke-width="1.5"/>
<text x="329.6" y="586.9" font-size="9" text-anchor="middle">18</text>
<text x="361.5" y="586.9" font-size="9" text-anchor="middle">19</text>
<text x="393.4" y="586.9" font-size="9" text-anchor="middle">20</text>
<text x="425.3" y="586.9" font-size="9" text-anchor="middle">21</text>
<text x="457.2" y="586.9" font-size="9" text-anchor="middle">22</text>
<text x="489.1" y="586.9" font-size="9" text-anchor="middle">23</text>
<text x="393" y="472.1" font-size="9.2" text-anchor="middle">T-start: 20 °C</text>
<text x="418.8" y="597.2" font-size="9.2" text-anchor="middle">Temperature (°C)</text>
<text x="300" y="523.2" font-size="9.2" text-anchor="middle" transform="rotate(-90 300 523.2)">Fraction of animals</text>
<text x="310.4" y="523.2" font-size="9.2" text-anchor="middle" transform="rotate(-90 310.4 523.2)">in each region (%)</text>
<line x1="362.6" y1="549.7" x2="373.4" y2="549.7" stroke="#000" stroke-width="1.2"/>
<circle cx="368" cy="549.7" r="2" fill="#fff" stroke="#000" stroke-width="1"/>
<text x="375.5" y="552.8" font-size="8.6">Histamine-</text>
<line x1="362.6" y1="565.1" x2="373.4" y2="565.1" stroke="#ff0000" stroke-width="1.2"/>
<circle cx="368" cy="565.1" r="2.2" fill="#ff0000"/>
<text x="375.5" y="568.2" font-size="8.6">Histamine+</text>
<text x="588.4" y="454.2" font-size="11.3" text-anchor="middle" font-style="italic">Pvap-1::HisCl1</text>
<rect x="577" y="473.6" width="5" height="99.1" fill="#cdcdcd"/>
<path d="M515.1,556.62 L531.02,543.76 L546.94,533.57 L562.86,520.17 L578.78,500.88 L594.7,484.8 L610.62,487.48 L626.54,512.13 L642.46,529.28 L658.38,545.36 L674.3,557.69" stroke="#000" stroke-width="1.1" fill="none" stroke-linejoin="round"/>
<line x1="515.1" y1="553.4" x2="515.1" y2="559.84" stroke="#000" stroke-width="1.1"/>
<line x1="513.1" y1="553.4" x2="517.1" y2="553.4" stroke="#000" stroke-width="1.1"/>
<line x1="513.1" y1="559.84" x2="517.1" y2="559.84" stroke="#000" stroke-width="1.1"/>
<line x1="531.02" y1="540.54" x2="531.02" y2="546.97" stroke="#000" stroke-width="1.1"/>
<line x1="529.02" y1="540.54" x2="533.02" y2="540.54" stroke="#000" stroke-width="1.1"/>
<line x1="529.02" y1="546.97" x2="533.02" y2="546.97" stroke="#000" stroke-width="1.1"/>
<line x1="546.94" y1="529.28" x2="546.94" y2="537.86" stroke="#000" stroke-width="1.1"/>
<line x1="544.94" y1="529.28" x2="548.94" y2="529.28" stroke="#000" stroke-width="1.1"/>
<line x1="544.94" y1="537.86" x2="548.94" y2="537.86" stroke="#000" stroke-width="1.1"/>
<line x1="562.86" y1="516.42" x2="562.86" y2="523.92" stroke="#000" stroke-width="1.1"/>
<line x1="560.86" y1="516.42" x2="564.86" y2="516.42" stroke="#000" stroke-width="1.1"/>
<line x1="560.86" y1="523.92" x2="564.86" y2="523.92" stroke="#000" stroke-width="1.1"/>
<line x1="578.78" y1="496.59" x2="578.78" y2="505.16" stroke="#000" stroke-width="1.1"/>
<line x1="576.78" y1="496.59" x2="580.78" y2="496.59" stroke="#000" stroke-width="1.1"/>
<line x1="576.78" y1="505.16" x2="580.78" y2="505.16" stroke="#000" stroke-width="1.1"/>
<line x1="594.7" y1="481.58" x2="594.7" y2="488.01" stroke="#000" stroke-width="1.1"/>
<line x1="592.7" y1="481.58" x2="596.7" y2="481.58" stroke="#000" stroke-width="1.1"/>
<line x1="592.7" y1="488.01" x2="596.7" y2="488.01" stroke="#000" stroke-width="1.1"/>
<line x1="610.62" y1="483.72" x2="610.62" y2="491.23" stroke="#000" stroke-width="1.1"/>
<line x1="608.62" y1="483.72" x2="612.62" y2="483.72" stroke="#000" stroke-width="1.1"/>
<line x1="608.62" y1="491.23" x2="612.62" y2="491.23" stroke="#000" stroke-width="1.1"/>
<line x1="626.54" y1="508.38" x2="626.54" y2="515.88" stroke="#000" stroke-width="1.1"/>
<line x1="624.54" y1="508.38" x2="628.54" y2="508.38" stroke="#000" stroke-width="1.1"/>
<line x1="624.54" y1="515.88" x2="628.54" y2="515.88" stroke="#000" stroke-width="1.1"/>
<line x1="642.46" y1="526.6" x2="642.46" y2="531.96" stroke="#000" stroke-width="1.1"/>
<line x1="640.46" y1="526.6" x2="644.46" y2="526.6" stroke="#000" stroke-width="1.1"/>
<line x1="640.46" y1="531.96" x2="644.46" y2="531.96" stroke="#000" stroke-width="1.1"/>
<line x1="658.38" y1="543.22" x2="658.38" y2="547.51" stroke="#000" stroke-width="1.1"/>
<line x1="656.38" y1="543.22" x2="660.38" y2="543.22" stroke="#000" stroke-width="1.1"/>
<line x1="656.38" y1="547.51" x2="660.38" y2="547.51" stroke="#000" stroke-width="1.1"/>
<line x1="674.3" y1="556.08" x2="674.3" y2="559.3" stroke="#000" stroke-width="1.1"/>
<line x1="672.3" y1="556.08" x2="676.3" y2="556.08" stroke="#000" stroke-width="1.1"/>
<line x1="672.3" y1="559.3" x2="676.3" y2="559.3" stroke="#000" stroke-width="1.1"/>
<circle cx="515.1" cy="556.62" r="2" fill="#fff" stroke="#000" stroke-width="1"/>
<circle cx="531.02" cy="543.76" r="2" fill="#fff" stroke="#000" stroke-width="1"/>
<circle cx="546.94" cy="533.57" r="2" fill="#fff" stroke="#000" stroke-width="1"/>
<circle cx="562.86" cy="520.17" r="2" fill="#fff" stroke="#000" stroke-width="1"/>
<circle cx="578.78" cy="500.88" r="2" fill="#fff" stroke="#000" stroke-width="1"/>
<circle cx="594.7" cy="484.8" r="2" fill="#fff" stroke="#000" stroke-width="1"/>
<circle cx="610.62" cy="487.48" r="2" fill="#fff" stroke="#000" stroke-width="1"/>
<circle cx="626.54" cy="512.13" r="2" fill="#fff" stroke="#000" stroke-width="1"/>
<circle cx="642.46" cy="529.28" r="2" fill="#fff" stroke="#000" stroke-width="1"/>
<circle cx="658.38" cy="545.36" r="2" fill="#fff" stroke="#000" stroke-width="1"/>
<circle cx="674.3" cy="557.69" r="2" fill="#fff" stroke="#000" stroke-width="1"/>
<path d="M515.1,564.12 L531.02,555.01 L546.94,542.15 L562.86,526.6 L578.78,511.06 L594.7,490.69 L610.62,476.22 L626.54,496.05 L642.46,521.24 L658.38,539.47 L674.3,553.94" stroke="#0000ff" stroke-width="1.3" fill="none" stroke-linejoin="round"/>
<line x1="515.1" y1="562.52" x2="515.1" y2="565.73" stroke="#0000ff" stroke-width="1.1"/>
<line x1="513.1" y1="562.52" x2="517.1" y2="562.52" stroke="#0000ff" stroke-width="1.1"/>
<line x1="513.1" y1="565.73" x2="517.1" y2="565.73" stroke="#0000ff" stroke-width="1.1"/>
<line x1="531.02" y1="552.33" x2="531.02" y2="557.69" stroke="#0000ff" stroke-width="1.1"/>
<line x1="529.02" y1="552.33" x2="533.02" y2="552.33" stroke="#0000ff" stroke-width="1.1"/>
<line x1="529.02" y1="557.69" x2="533.02" y2="557.69" stroke="#0000ff" stroke-width="1.1"/>
<line x1="546.94" y1="538.93" x2="546.94" y2="545.36" stroke="#0000ff" stroke-width="1.1"/>
<line x1="544.94" y1="538.93" x2="548.94" y2="538.93" stroke="#0000ff" stroke-width="1.1"/>
<line x1="544.94" y1="545.36" x2="548.94" y2="545.36" stroke="#0000ff" stroke-width="1.1"/>
<line x1="562.86" y1="523.39" x2="562.86" y2="529.82" stroke="#0000ff" stroke-width="1.1"/>
<line x1="560.86" y1="523.39" x2="564.86" y2="523.39" stroke="#0000ff" stroke-width="1.1"/>
<line x1="560.86" y1="529.82" x2="564.86" y2="529.82" stroke="#0000ff" stroke-width="1.1"/>
<line x1="578.78" y1="507.84" x2="578.78" y2="514.28" stroke="#0000ff" stroke-width="1.1"/>
<line x1="576.78" y1="507.84" x2="580.78" y2="507.84" stroke="#0000ff" stroke-width="1.1"/>
<line x1="576.78" y1="514.28" x2="580.78" y2="514.28" stroke="#0000ff" stroke-width="1.1"/>
<line x1="594.7" y1="488.01" x2="594.7" y2="493.37" stroke="#0000ff" stroke-width="1.1"/>
<line x1="592.7" y1="488.01" x2="596.7" y2="488.01" stroke="#0000ff" stroke-width="1.1"/>
<line x1="592.7" y1="493.37" x2="596.7" y2="493.37" stroke="#0000ff" stroke-width="1.1"/>
<line x1="610.62" y1="473.54" x2="610.62" y2="478.9" stroke="#0000ff" stroke-width="1.1"/>
<line x1="608.62" y1="473.54" x2="612.62" y2="473.54" stroke="#0000ff" stroke-width="1.1"/>
<line x1="608.62" y1="478.9" x2="612.62" y2="478.9" stroke="#0000ff" stroke-width="1.1"/>
<line x1="626.54" y1="492.3" x2="626.54" y2="499.8" stroke="#0000ff" stroke-width="1.1"/>
<line x1="624.54" y1="492.3" x2="628.54" y2="492.3" stroke="#0000ff" stroke-width="1.1"/>
<line x1="624.54" y1="499.8" x2="628.54" y2="499.8" stroke="#0000ff" stroke-width="1.1"/>
<line x1="642.46" y1="517.49" x2="642.46" y2="525" stroke="#0000ff" stroke-width="1.1"/>
<line x1="640.46" y1="517.49" x2="644.46" y2="517.49" stroke="#0000ff" stroke-width="1.1"/>
<line x1="640.46" y1="525" x2="644.46" y2="525" stroke="#0000ff" stroke-width="1.1"/>
<line x1="658.38" y1="536.25" x2="658.38" y2="542.68" stroke="#0000ff" stroke-width="1.1"/>
<line x1="656.38" y1="536.25" x2="660.38" y2="536.25" stroke="#0000ff" stroke-width="1.1"/>
<line x1="656.38" y1="542.68" x2="660.38" y2="542.68" stroke="#0000ff" stroke-width="1.1"/>
<line x1="674.3" y1="551.8" x2="674.3" y2="556.08" stroke="#0000ff" stroke-width="1.1"/>
<line x1="672.3" y1="551.8" x2="676.3" y2="551.8" stroke="#0000ff" stroke-width="1.1"/>
<line x1="672.3" y1="556.08" x2="676.3" y2="556.08" stroke="#0000ff" stroke-width="1.1"/>
<circle cx="515.1" cy="564.12" r="2.3" fill="#0000ff"/>
<circle cx="531.02" cy="555.01" r="2.3" fill="#0000ff"/>
<circle cx="546.94" cy="542.15" r="2.3" fill="#0000ff"/>
<circle cx="562.86" cy="526.6" r="2.3" fill="#0000ff"/>
<circle cx="578.78" cy="511.06" r="2.3" fill="#0000ff"/>
<circle cx="594.7" cy="490.69" r="2.3" fill="#0000ff"/>
<circle cx="610.62" cy="476.22" r="2.3" fill="#0000ff"/>
<circle cx="626.54" cy="496.05" r="2.3" fill="#0000ff"/>
<circle cx="642.46" cy="521.24" r="2.3" fill="#0000ff"/>
<circle cx="658.38" cy="539.47" r="2.3" fill="#0000ff"/>
<circle cx="674.3" cy="553.94" r="2.3" fill="#0000ff"/>
<line x1="515.1" y1="464.8" x2="515.1" y2="573.6" stroke="#000" stroke-width="1.8"/>
<line x1="510.4" y1="572.7" x2="515.1" y2="572.7" stroke="#000" stroke-width="1.5"/>
<text x="508.2" y="575.67" font-size="9" text-anchor="end">0</text>
<line x1="510.4" y1="545.9" x2="515.1" y2="545.9" stroke="#000" stroke-width="1.5"/>
<text x="508.2" y="548.87" font-size="9" text-anchor="end">5</text>
<line x1="510.4" y1="519.1" x2="515.1" y2="519.1" stroke="#000" stroke-width="1.5"/>
<text x="508.2" y="522.07" font-size="9" text-anchor="end">10</text>
<line x1="510.4" y1="492.3" x2="515.1" y2="492.3" stroke="#000" stroke-width="1.5"/>
<text x="508.2" y="495.27" font-size="9" text-anchor="end">15</text>
<line x1="510.4" y1="465.5" x2="515.1" y2="465.5" stroke="#000" stroke-width="1.5"/>
<text x="508.2" y="468.47" font-size="9" text-anchor="end">20</text>
<line x1="514.2" y1="572.7" x2="675.05" y2="572.7" stroke="#000" stroke-width="1.8"/>
<line x1="515.1" y1="572.7" x2="515.1" y2="577.1" stroke="#000" stroke-width="1.5"/>
<line x1="546.94" y1="572.7" x2="546.94" y2="577.1" stroke="#000" stroke-width="1.5"/>
<line x1="578.78" y1="572.7" x2="578.78" y2="577.1" stroke="#000" stroke-width="1.5"/>
<line x1="610.62" y1="572.7" x2="610.62" y2="577.1" stroke="#000" stroke-width="1.5"/>
<line x1="642.46" y1="572.7" x2="642.46" y2="577.1" stroke="#000" stroke-width="1.5"/>
<line x1="674.3" y1="572.7" x2="674.3" y2="577.1" stroke="#000" stroke-width="1.5"/>
<text x="515.1" y="586" font-size="9" text-anchor="middle">18</text>
<text x="546.94" y="586" font-size="9" text-anchor="middle">19</text>
<text x="578.78" y="586" font-size="9" text-anchor="middle">20</text>
<text x="610.62" y="586" font-size="9" text-anchor="middle">21</text>
<text x="642.46" y="586" font-size="9" text-anchor="middle">22</text>
<text x="674.3" y="586" font-size="9" text-anchor="middle">23</text>
<text x="575.5" y="471.1" font-size="9.2" text-anchor="middle">T-start: 20 °C</text>
<text x="604" y="597.2" font-size="9.2" text-anchor="middle">Temperature (°C)</text>
<line x1="556.2" y1="547" x2="567.7" y2="547" stroke="#000" stroke-width="1.2"/>
<circle cx="561.95" cy="547" r="2" fill="#fff" stroke="#000" stroke-width="1"/>
<text x="569.5" y="550.1" font-size="8.6">Histamine-</text>
<line x1="556.2" y1="561.6" x2="567.7" y2="561.6" stroke="#0000ff" stroke-width="1.2"/>
<circle cx="561.95" cy="561.6" r="2.2" fill="#0000ff"/>
<text x="569.5" y="564.7" font-size="8.6">Histamine+</text>
<text x="-0.3" y="626.1" font-size="20">i</text>
<rect x="48.4" y="690.62" width="15.2" height="30.38" fill="#d4d4d4"/>
<rect x="67.8" y="684.42" width="15.7" height="36.58" fill="#ffdfe0"/>
<rect x="99.1" y="684.42" width="16.1" height="36.58" fill="#d4d4d4"/>
<rect x="119.1" y="669.23" width="15.7" height="51.77" fill="#c0c0ff"/>
<path d="M49.4,721 V691.62 H62.6 V721" stroke="#000" stroke-width="2" fill="none"/>
<path d="M68.8,721 V685.42 H82.5 V721" stroke="#ff0000" stroke-width="2" fill="none"/>
<path d="M100.1,721 V685.42 H114.2 V721" stroke="#000" stroke-width="2" fill="none"/>
<path d="M120.1,721 V670.23 H133.8 V721" stroke="#0000ff" stroke-width="2" fill="none"/>
<circle cx="56.1" cy="641.5" r="1.15" fill="#a9a9a9"/>
<circle cx="56.1" cy="647.3" r="1.15" fill="#a9a9a9"/>
<circle cx="56.1" cy="652.2" r="1.15" fill="#a9a9a9"/>
<circle cx="56.1" cy="665.8" r="1.15" fill="#a9a9a9"/>
<circle cx="56.1" cy="667.9" r="1.15" fill="#a9a9a9"/>
<circle cx="56.1" cy="691.8" r="1.15" fill="#a9a9a9"/>
<circle cx="58.9" cy="691.8" r="1.15" fill="#a9a9a9"/>
<circle cx="54" cy="700.2" r="1.15" fill="#a9a9a9"/>
<circle cx="58.2" cy="700.2" r="1.15" fill="#a9a9a9"/>
<circle cx="56.1" cy="704.6" r="1.15" fill="#a9a9a9"/>
<circle cx="53.3" cy="710.8" r="1.15" fill="#a9a9a9"/>
<circle cx="56.1" cy="711.5" r="1.15" fill="#a9a9a9"/>
<circle cx="56.1" cy="686.6" r="1.15" fill="#a9a9a9"/>
<circle cx="56.1" cy="689.3" r="1.15" fill="#a9a9a9"/>
<circle cx="56.1" cy="694.9" r="1.15" fill="#a9a9a9"/>
<circle cx="54" cy="708.8" r="1.15" fill="#a9a9a9"/>
<circle cx="58.2" cy="708.8" r="1.15" fill="#a9a9a9"/>
<circle cx="56.1" cy="715.7" r="1.15" fill="#a9a9a9"/>
<circle cx="72.7" cy="658.1" r="1.15" fill="#a9a9a9"/>
<circle cx="75.5" cy="657.2" r="1.15" fill="#a9a9a9"/>
<circle cx="79" cy="657.7" r="1.15" fill="#a9a9a9"/>
<circle cx="75.5" cy="661.3" r="1.15" fill="#a9a9a9"/>
<circle cx="73.4" cy="670.2" r="1.15" fill="#a9a9a9"/>
<circle cx="77.6" cy="670.2" r="1.15" fill="#a9a9a9"/>
<circle cx="75.5" cy="675.5" r="1.15" fill="#a9a9a9"/>
<circle cx="75.5" cy="680.3" r="1.15" fill="#a9a9a9"/>
<circle cx="72.7" cy="690.7" r="1.15" fill="#a9a9a9"/>
<circle cx="75.5" cy="691" r="1.15" fill="#a9a9a9"/>
<circle cx="79" cy="691.4" r="1.15" fill="#a9a9a9"/>
<circle cx="75.5" cy="697" r="1.15" fill="#a9a9a9"/>
<circle cx="75.5" cy="700.7" r="1.15" fill="#a9a9a9"/>
<circle cx="72" cy="704.3" r="1.15" fill="#a9a9a9"/>
<circle cx="75.5" cy="704.3" r="1.15" fill="#a9a9a9"/>
<circle cx="79" cy="704.3" r="1.15" fill="#a9a9a9"/>
<circle cx="75.5" cy="710.8" r="1.15" fill="#a9a9a9"/>
<circle cx="73.4" cy="688" r="1.15" fill="#a9a9a9"/>
<circle cx="77.6" cy="688" r="1.15" fill="#a9a9a9"/>
<circle cx="107.4" cy="643.3" r="1.15" fill="#a9a9a9"/>
<circle cx="107.4" cy="654" r="1.15" fill="#a9a9a9"/>
<circle cx="107.4" cy="661.9" r="1.15" fill="#a9a9a9"/>
<circle cx="107.4" cy="665.8" r="1.15" fill="#a9a9a9"/>
<circle cx="103.9" cy="676.2" r="1.15" fill="#a9a9a9"/>
<circle cx="107.4" cy="675.2" r="1.15" fill="#a9a9a9"/>
<circle cx="110.9" cy="675.5" r="1.15" fill="#a9a9a9"/>
<circle cx="106" cy="678.3" r="1.15" fill="#a9a9a9"/>
<circle cx="109.5" cy="678.3" r="1.15" fill="#a9a9a9"/>
<circle cx="107.4" cy="686.6" r="1.15" fill="#a9a9a9"/>
<circle cx="104.6" cy="691.4" r="1.15" fill="#a9a9a9"/>
<circle cx="109.5" cy="693.5" r="1.15" fill="#a9a9a9"/>
<circle cx="107.4" cy="694.2" r="1.15" fill="#a9a9a9"/>
<circle cx="105.3" cy="702.5" r="1.15" fill="#a9a9a9"/>
<circle cx="109.5" cy="702.5" r="1.15" fill="#a9a9a9"/>
<circle cx="107.4" cy="708.8" r="1.15" fill="#a9a9a9"/>
<circle cx="107.4" cy="711.5" r="1.15" fill="#a9a9a9"/>
<circle cx="104.6" cy="685.2" r="1.15" fill="#a9a9a9"/>
<circle cx="110.2" cy="685.2" r="1.15" fill="#a9a9a9"/>
<circle cx="107.4" cy="689.3" r="1.15" fill="#a9a9a9"/>
<circle cx="126.8" cy="633.9" r="1.15" fill="#a9a9a9"/>
<circle cx="126.8" cy="636" r="1.15" fill="#a9a9a9"/>
<circle cx="126.8" cy="640.8" r="1.15" fill="#a9a9a9"/>
<circle cx="126.8" cy="649.1" r="1.15" fill="#a9a9a9"/>
<circle cx="126.8" cy="654.7" r="1.15" fill="#a9a9a9"/>
<circle cx="126.8" cy="658.1" r="1.15" fill="#a9a9a9"/>
<circle cx="126.8" cy="662.3" r="1.15" fill="#a9a9a9"/>
<circle cx="124.7" cy="673.4" r="1.15" fill="#a9a9a9"/>
<circle cx="128.9" cy="673.4" r="1.15" fill="#a9a9a9"/>
<circle cx="126.8" cy="676.2" r="1.15" fill="#a9a9a9"/>
<circle cx="124.7" cy="676.9" r="1.15" fill="#a9a9a9"/>
<circle cx="128.9" cy="676.9" r="1.15" fill="#a9a9a9"/>
<circle cx="126.8" cy="679.6" r="1.15" fill="#a9a9a9"/>
<circle cx="126.8" cy="681" r="1.15" fill="#a9a9a9"/>
<circle cx="126.8" cy="687.3" r="1.15" fill="#a9a9a9"/>
<circle cx="126.8" cy="690" r="1.15" fill="#a9a9a9"/>
<circle cx="126.8" cy="694.9" r="1.15" fill="#a9a9a9"/>
<circle cx="126.8" cy="699.1" r="1.15" fill="#a9a9a9"/>
<circle cx="126.8" cy="669.9" r="1.15" fill="#a9a9a9"/>
<line x1="56" y1="684.42" x2="56" y2="696.82" stroke="#000" stroke-width="1.3"/>
<line x1="52" y1="684.42" x2="60" y2="684.42" stroke="#000" stroke-width="1.3"/>
<line x1="52" y1="696.82" x2="60" y2="696.82" stroke="#000" stroke-width="1.3"/>
<text x="56" y="719.4" font-size="9" text-anchor="middle" fill="#8c2a8c">18</text>
<line x1="75.65" y1="680.08" x2="75.65" y2="688.76" stroke="#ff0000" stroke-width="1.3"/>
<line x1="71.65" y1="680.08" x2="79.65" y2="680.08" stroke="#ff0000" stroke-width="1.3"/>
<line x1="71.65" y1="688.76" x2="79.65" y2="688.76" stroke="#ff0000" stroke-width="1.3"/>
<text x="75.65" y="719.4" font-size="9" text-anchor="middle" fill="#8c2a8c">19</text>
<line x1="107.15" y1="679.77" x2="107.15" y2="689.07" stroke="#000" stroke-width="1.3"/>
<line x1="103.15" y1="679.77" x2="111.15" y2="679.77" stroke="#000" stroke-width="1.3"/>
<line x1="103.15" y1="689.07" x2="111.15" y2="689.07" stroke="#000" stroke-width="1.3"/>
<text x="107.15" y="719.4" font-size="9" text-anchor="middle" fill="#8c2a8c">20</text>
<line x1="126.95" y1="664.27" x2="126.95" y2="674.19" stroke="#0000ff" stroke-width="1.3"/>
<line x1="122.95" y1="664.27" x2="130.95" y2="664.27" stroke="#0000ff" stroke-width="1.3"/>
<line x1="122.95" y1="674.19" x2="130.95" y2="674.19" stroke="#0000ff" stroke-width="1.3"/>
<text x="126.95" y="719.4" font-size="9" text-anchor="middle" fill="#8c2a8c">19</text>
<line x1="39.9" y1="627.3" x2="39.9" y2="722" stroke="#000" stroke-width="2"/>
<line x1="35.4" y1="721" x2="39.9" y2="721" stroke="#000" stroke-width="1.5"/>
<text x="34.8" y="724.1" font-size="9.4" text-anchor="end">0</text>
<line x1="35.4" y1="690" x2="39.9" y2="690" stroke="#000" stroke-width="1.5"/>
<text x="34.8" y="693.1" font-size="9.4" text-anchor="end">1</text>
<line x1="35.4" y1="659" x2="39.9" y2="659" stroke="#000" stroke-width="1.5"/>
<text x="34.8" y="662.1" font-size="9.4" text-anchor="end">2</text>
<line x1="35.4" y1="628" x2="39.9" y2="628" stroke="#000" stroke-width="1.5"/>
<text x="34.8" y="631.1" font-size="9.4" text-anchor="end">3</text>
<line x1="38.9" y1="721" x2="142.7" y2="721" stroke="#000" stroke-width="1.7"/>
<text x="71.6" y="623.2" font-size="8" text-anchor="middle"><tspan font-style="italic">p</tspan>=0.4159</text>
<text x="66.9" y="632.6" font-size="8" text-anchor="middle">ns</text>
<line x1="57.9" y1="635" x2="75.9" y2="635" stroke="#3b2828" stroke-width="1.1"/>
<text x="116.3" y="619" font-size="8" text-anchor="middle"><tspan font-style="italic">p</tspan>=0.0158</text>
<path d="M116.1,621.8 L116.1,626.8 M113.93,623.05 L118.27,625.55 M118.27,623.05 L113.93,625.55 " stroke="#000" stroke-width="1.3" fill="none" stroke-linecap="butt"/>
<line x1="107.3" y1="629.3" x2="124.9" y2="629.3" stroke="#3b2828" stroke-width="1.1"/>
<text x="26.4" y="676" font-size="9.6" text-anchor="middle" transform="rotate(-90 26.4 676)">Index of theromotaxis</text>
<text x="45.5" y="730" font-size="9.2" text-anchor="end">Histamine</text>
<text x="56.6" y="731.4" font-size="9" text-anchor="middle" font-weight="bold">-</text>
<text x="73.1" y="731.4" font-size="9" text-anchor="middle" font-weight="bold">+</text>
<text x="100.6" y="731.4" font-size="9" text-anchor="middle" font-weight="bold">-</text>
<text x="118.6" y="731.4" font-size="9" text-anchor="middle" font-weight="bold">+</text>
<line x1="47.7" y1="733.4" x2="84.3" y2="733.4" stroke="#6a6a6a" stroke-width="1.5"/>
<line x1="93" y1="733.4" x2="129.6" y2="733.4" stroke="#6a6a6a" stroke-width="1.5"/>
<text x="71.3" y="740.9" font-size="9.5" font-style="italic" text-anchor="end" transform="rotate(-45 71.3 740.9)">Pvap-1::mCherry</text>
<text x="114.4" y="740.9" font-size="9.5" font-style="italic" text-anchor="end" transform="rotate(-45 114.4 740.9)">Pvap-1::HisCl1</text>
<text x="154.4" y="625.9" font-size="20">j</text>
<text x="173.9" y="630.5" font-size="11.3">23°C-cultured, 1°C/cm</text>
<text x="173.9" y="644.3" font-size="11.3" font-style="italic">Pvap-1::mCherry</text>
<rect x="211.05" y="679.6" width="36.75" height="86.8" fill="#cfe6f6"/>
<rect x="306.5" y="663.3" width="5.5" height="98.2" fill="#cdcdcd"/>
<path d="M198.8,759.39 L211.05,729.21 L223.3,702.53 L235.55,687.79 L247.8,694.81 L260.05,696.92 L272.3,697.62 L284.55,699.72 L296.8,692.7 L309.05,694.81 L321.3,704.64 L333.55,720.08 L345.8,737.63 L358.05,750.27" stroke="#000" stroke-width="1.1" fill="none" stroke-linejoin="round"/>
<line x1="198.8" y1="757.99" x2="198.8" y2="760.8" stroke="#000" stroke-width="1.1"/>
<line x1="196.8" y1="757.99" x2="200.8" y2="757.99" stroke="#000" stroke-width="1.1"/>
<line x1="196.8" y1="760.8" x2="200.8" y2="760.8" stroke="#000" stroke-width="1.1"/>
<line x1="211.05" y1="724.29" x2="211.05" y2="734.12" stroke="#000" stroke-width="1.1"/>
<line x1="209.05" y1="724.29" x2="213.05" y2="724.29" stroke="#000" stroke-width="1.1"/>
<line x1="209.05" y1="734.12" x2="213.05" y2="734.12" stroke="#000" stroke-width="1.1"/>
<line x1="223.3" y1="694.81" x2="223.3" y2="710.25" stroke="#000" stroke-width="1.1"/>
<line x1="221.3" y1="694.81" x2="225.3" y2="694.81" stroke="#000" stroke-width="1.1"/>
<line x1="221.3" y1="710.25" x2="225.3" y2="710.25" stroke="#000" stroke-width="1.1"/>
<line x1="235.55" y1="680.77" x2="235.55" y2="694.81" stroke="#000" stroke-width="1.1"/>
<line x1="233.55" y1="680.77" x2="237.55" y2="680.77" stroke="#000" stroke-width="1.1"/>
<line x1="233.55" y1="694.81" x2="237.55" y2="694.81" stroke="#000" stroke-width="1.1"/>
<line x1="247.8" y1="689.9" x2="247.8" y2="699.72" stroke="#000" stroke-width="1.1"/>
<line x1="245.8" y1="689.9" x2="249.8" y2="689.9" stroke="#000" stroke-width="1.1"/>
<line x1="245.8" y1="699.72" x2="249.8" y2="699.72" stroke="#000" stroke-width="1.1"/>
<line x1="260.05" y1="692.7" x2="260.05" y2="701.13" stroke="#000" stroke-width="1.1"/>
<line x1="258.05" y1="692.7" x2="262.05" y2="692.7" stroke="#000" stroke-width="1.1"/>
<line x1="258.05" y1="701.13" x2="262.05" y2="701.13" stroke="#000" stroke-width="1.1"/>
<line x1="272.3" y1="694.11" x2="272.3" y2="701.13" stroke="#000" stroke-width="1.1"/>
<line x1="270.3" y1="694.11" x2="274.3" y2="694.11" stroke="#000" stroke-width="1.1"/>
<line x1="270.3" y1="701.13" x2="274.3" y2="701.13" stroke="#000" stroke-width="1.1"/>
<line x1="284.55" y1="696.21" x2="284.55" y2="703.23" stroke="#000" stroke-width="1.1"/>
<line x1="282.55" y1="696.21" x2="286.55" y2="696.21" stroke="#000" stroke-width="1.1"/>
<line x1="282.55" y1="703.23" x2="286.55" y2="703.23" stroke="#000" stroke-width="1.1"/>
<line x1="296.8" y1="688.49" x2="296.8" y2="696.92" stroke="#000" stroke-width="1.1"/>
<line x1="294.8" y1="688.49" x2="298.8" y2="688.49" stroke="#000" stroke-width="1.1"/>
<line x1="294.8" y1="696.92" x2="298.8" y2="696.92" stroke="#000" stroke-width="1.1"/>
<line x1="309.05" y1="690.6" x2="309.05" y2="699.02" stroke="#000" stroke-width="1.1"/>
<line x1="307.05" y1="690.6" x2="311.05" y2="690.6" stroke="#000" stroke-width="1.1"/>
<line x1="307.05" y1="699.02" x2="311.05" y2="699.02" stroke="#000" stroke-width="1.1"/>
<line x1="321.3" y1="699.02" x2="321.3" y2="710.25" stroke="#000" stroke-width="1.1"/>
<line x1="319.3" y1="699.02" x2="323.3" y2="699.02" stroke="#000" stroke-width="1.1"/>
<line x1="319.3" y1="710.25" x2="323.3" y2="710.25" stroke="#000" stroke-width="1.1"/>
<line x1="333.55" y1="713.76" x2="333.55" y2="726.4" stroke="#000" stroke-width="1.1"/>
<line x1="331.55" y1="713.76" x2="335.55" y2="713.76" stroke="#000" stroke-width="1.1"/>
<line x1="331.55" y1="726.4" x2="335.55" y2="726.4" stroke="#000" stroke-width="1.1"/>
<line x1="345.8" y1="732.72" x2="345.8" y2="742.55" stroke="#000" stroke-width="1.1"/>
<line x1="343.8" y1="732.72" x2="347.8" y2="732.72" stroke="#000" stroke-width="1.1"/>
<line x1="343.8" y1="742.55" x2="347.8" y2="742.55" stroke="#000" stroke-width="1.1"/>
<line x1="358.05" y1="748.16" x2="358.05" y2="752.37" stroke="#000" stroke-width="1.1"/>
<line x1="356.05" y1="748.16" x2="360.05" y2="748.16" stroke="#000" stroke-width="1.1"/>
<line x1="356.05" y1="752.37" x2="360.05" y2="752.37" stroke="#000" stroke-width="1.1"/>
<circle cx="198.8" cy="759.39" r="2" fill="#fff" stroke="#000" stroke-width="1"/>
<circle cx="211.05" cy="729.21" r="2" fill="#fff" stroke="#000" stroke-width="1"/>
<circle cx="223.3" cy="702.53" r="2" fill="#fff" stroke="#000" stroke-width="1"/>
<circle cx="235.55" cy="687.79" r="2" fill="#fff" stroke="#000" stroke-width="1"/>
<circle cx="247.8" cy="694.81" r="2" fill="#fff" stroke="#000" stroke-width="1"/>
<circle cx="260.05" cy="696.92" r="2" fill="#fff" stroke="#000" stroke-width="1"/>
<circle cx="272.3" cy="697.62" r="2" fill="#fff" stroke="#000" stroke-width="1"/>
<circle cx="284.55" cy="699.72" r="2" fill="#fff" stroke="#000" stroke-width="1"/>
<circle cx="296.8" cy="692.7" r="2" fill="#fff" stroke="#000" stroke-width="1"/>
<circle cx="309.05" cy="694.81" r="2" fill="#fff" stroke="#000" stroke-width="1"/>
<circle cx="321.3" cy="704.64" r="2" fill="#fff" stroke="#000" stroke-width="1"/>
<circle cx="333.55" cy="720.08" r="2" fill="#fff" stroke="#000" stroke-width="1"/>
<circle cx="345.8" cy="737.63" r="2" fill="#fff" stroke="#000" stroke-width="1"/>
<circle cx="358.05" cy="750.27" r="2" fill="#fff" stroke="#000" stroke-width="1"/>
<path d="M198.8,759.39 L211.05,738.33 L223.3,707.45 L235.55,687.79 L247.8,688.49 L260.05,692.7 L272.3,692.7 L284.55,694.11 L296.8,685.68 L309.05,690.6 L321.3,704.64 L333.55,724.29 L345.8,743.95 L358.05,753.08" stroke="#ff0000" stroke-width="1.3" fill="none" stroke-linejoin="round"/>
<line x1="198.8" y1="757.99" x2="198.8" y2="760.8" stroke="#ff0000" stroke-width="1.1"/>
<line x1="196.8" y1="757.99" x2="200.8" y2="757.99" stroke="#ff0000" stroke-width="1.1"/>
<line x1="196.8" y1="760.8" x2="200.8" y2="760.8" stroke="#ff0000" stroke-width="1.1"/>
<line x1="211.05" y1="734.12" x2="211.05" y2="742.55" stroke="#ff0000" stroke-width="1.1"/>
<line x1="209.05" y1="734.12" x2="213.05" y2="734.12" stroke="#ff0000" stroke-width="1.1"/>
<line x1="209.05" y1="742.55" x2="213.05" y2="742.55" stroke="#ff0000" stroke-width="1.1"/>
<line x1="223.3" y1="701.83" x2="223.3" y2="713.06" stroke="#ff0000" stroke-width="1.1"/>
<line x1="221.3" y1="701.83" x2="225.3" y2="701.83" stroke="#ff0000" stroke-width="1.1"/>
<line x1="221.3" y1="713.06" x2="225.3" y2="713.06" stroke="#ff0000" stroke-width="1.1"/>
<line x1="235.55" y1="680.07" x2="235.55" y2="695.51" stroke="#ff0000" stroke-width="1.1"/>
<line x1="233.55" y1="680.07" x2="237.55" y2="680.07" stroke="#ff0000" stroke-width="1.1"/>
<line x1="233.55" y1="695.51" x2="237.55" y2="695.51" stroke="#ff0000" stroke-width="1.1"/>
<line x1="247.8" y1="682.88" x2="247.8" y2="694.11" stroke="#ff0000" stroke-width="1.1"/>
<line x1="245.8" y1="682.88" x2="249.8" y2="682.88" stroke="#ff0000" stroke-width="1.1"/>
<line x1="245.8" y1="694.11" x2="249.8" y2="694.11" stroke="#ff0000" stroke-width="1.1"/>
<line x1="260.05" y1="688.49" x2="260.05" y2="696.92" stroke="#ff0000" stroke-width="1.1"/>
<line x1="258.05" y1="688.49" x2="262.05" y2="688.49" stroke="#ff0000" stroke-width="1.1"/>
<line x1="258.05" y1="696.92" x2="262.05" y2="696.92" stroke="#ff0000" stroke-width="1.1"/>
<line x1="272.3" y1="688.49" x2="272.3" y2="696.92" stroke="#ff0000" stroke-width="1.1"/>
<line x1="270.3" y1="688.49" x2="274.3" y2="688.49" stroke="#ff0000" stroke-width="1.1"/>
<line x1="270.3" y1="696.92" x2="274.3" y2="696.92" stroke="#ff0000" stroke-width="1.1"/>
<line x1="284.55" y1="690.6" x2="284.55" y2="697.62" stroke="#ff0000" stroke-width="1.1"/>
<line x1="282.55" y1="690.6" x2="286.55" y2="690.6" stroke="#ff0000" stroke-width="1.1"/>
<line x1="282.55" y1="697.62" x2="286.55" y2="697.62" stroke="#ff0000" stroke-width="1.1"/>
<line x1="296.8" y1="680.07" x2="296.8" y2="691.3" stroke="#ff0000" stroke-width="1.1"/>
<line x1="294.8" y1="680.07" x2="298.8" y2="680.07" stroke="#ff0000" stroke-width="1.1"/>
<line x1="294.8" y1="691.3" x2="298.8" y2="691.3" stroke="#ff0000" stroke-width="1.1"/>
<line x1="309.05" y1="684.28" x2="309.05" y2="696.92" stroke="#ff0000" stroke-width="1.1"/>
<line x1="307.05" y1="684.28" x2="311.05" y2="684.28" stroke="#ff0000" stroke-width="1.1"/>
<line x1="307.05" y1="696.92" x2="311.05" y2="696.92" stroke="#ff0000" stroke-width="1.1"/>
<line x1="321.3" y1="699.72" x2="321.3" y2="709.55" stroke="#ff0000" stroke-width="1.1"/>
<line x1="319.3" y1="699.72" x2="323.3" y2="699.72" stroke="#ff0000" stroke-width="1.1"/>
<line x1="319.3" y1="709.55" x2="323.3" y2="709.55" stroke="#ff0000" stroke-width="1.1"/>
<line x1="333.55" y1="718.68" x2="333.55" y2="729.91" stroke="#ff0000" stroke-width="1.1"/>
<line x1="331.55" y1="718.68" x2="335.55" y2="718.68" stroke="#ff0000" stroke-width="1.1"/>
<line x1="331.55" y1="729.91" x2="335.55" y2="729.91" stroke="#ff0000" stroke-width="1.1"/>
<line x1="345.8" y1="740.44" x2="345.8" y2="747.46" stroke="#ff0000" stroke-width="1.1"/>
<line x1="343.8" y1="740.44" x2="347.8" y2="740.44" stroke="#ff0000" stroke-width="1.1"/>
<line x1="343.8" y1="747.46" x2="347.8" y2="747.46" stroke="#ff0000" stroke-width="1.1"/>
<line x1="358.05" y1="750.97" x2="358.05" y2="755.18" stroke="#ff0000" stroke-width="1.1"/>
<line x1="356.05" y1="750.97" x2="360.05" y2="750.97" stroke="#ff0000" stroke-width="1.1"/>
<line x1="356.05" y1="755.18" x2="360.05" y2="755.18" stroke="#ff0000" stroke-width="1.1"/>
<circle cx="198.8" cy="759.39" r="2.3" fill="#ff0000"/>
<circle cx="211.05" cy="738.33" r="2.3" fill="#ff0000"/>
<circle cx="223.3" cy="707.45" r="2.3" fill="#ff0000"/>
<circle cx="235.55" cy="687.79" r="2.3" fill="#ff0000"/>
<circle cx="247.8" cy="688.49" r="2.3" fill="#ff0000"/>
<circle cx="260.05" cy="692.7" r="2.3" fill="#ff0000"/>
<circle cx="272.3" cy="692.7" r="2.3" fill="#ff0000"/>
<circle cx="284.55" cy="694.11" r="2.3" fill="#ff0000"/>
<circle cx="296.8" cy="685.68" r="2.3" fill="#ff0000"/>
<circle cx="309.05" cy="690.6" r="2.3" fill="#ff0000"/>
<circle cx="321.3" cy="704.64" r="2.3" fill="#ff0000"/>
<circle cx="333.55" cy="724.29" r="2.3" fill="#ff0000"/>
<circle cx="345.8" cy="743.95" r="2.3" fill="#ff0000"/>
<circle cx="358.05" cy="753.08" r="2.3" fill="#ff0000"/>
<line x1="198.8" y1="655.5" x2="198.8" y2="762.4" stroke="#000" stroke-width="1.8"/>
<line x1="194.1" y1="761.5" x2="198.8" y2="761.5" stroke="#000" stroke-width="1.5"/>
<text x="191.9" y="764.47" font-size="9" text-anchor="end">0</text>
<line x1="194.1" y1="726.4" x2="198.8" y2="726.4" stroke="#000" stroke-width="1.5"/>
<text x="191.9" y="729.37" font-size="9" text-anchor="end">5</text>
<line x1="194.1" y1="691.3" x2="198.8" y2="691.3" stroke="#000" stroke-width="1.5"/>
<text x="191.9" y="694.27" font-size="9" text-anchor="end">10</text>
<line x1="194.1" y1="656.2" x2="198.8" y2="656.2" stroke="#000" stroke-width="1.5"/>
<text x="191.9" y="659.17" font-size="9" text-anchor="end">15</text>
<line x1="197.9" y1="761.5" x2="358.8" y2="761.5" stroke="#000" stroke-width="1.8"/>
<line x1="211.05" y1="761.5" x2="211.05" y2="765.9" stroke="#000" stroke-width="1.5"/>
<line x1="223.3" y1="761.5" x2="223.3" y2="765.9" stroke="#000" stroke-width="1.5"/>
<line x1="235.55" y1="761.5" x2="235.55" y2="765.9" stroke="#000" stroke-width="1.5"/>
<line x1="247.8" y1="761.5" x2="247.8" y2="765.9" stroke="#000" stroke-width="1.5"/>
<line x1="260.05" y1="761.5" x2="260.05" y2="765.9" stroke="#000" stroke-width="1.5"/>
<line x1="272.3" y1="761.5" x2="272.3" y2="765.9" stroke="#000" stroke-width="1.5"/>
<line x1="284.55" y1="761.5" x2="284.55" y2="765.9" stroke="#000" stroke-width="1.5"/>
<line x1="296.8" y1="761.5" x2="296.8" y2="765.9" stroke="#000" stroke-width="1.5"/>
<line x1="309.05" y1="761.5" x2="309.05" y2="765.9" stroke="#000" stroke-width="1.5"/>
<line x1="321.3" y1="761.5" x2="321.3" y2="765.9" stroke="#000" stroke-width="1.5"/>
<line x1="333.55" y1="761.5" x2="333.55" y2="765.9" stroke="#000" stroke-width="1.5"/>
<line x1="345.8" y1="761.5" x2="345.8" y2="765.9" stroke="#000" stroke-width="1.5"/>
<line x1="358.05" y1="761.5" x2="358.05" y2="765.9" stroke="#000" stroke-width="1.5"/>
<text x="211.05" y="774.8" font-size="9" text-anchor="middle">12</text>
<text x="235.55" y="774.8" font-size="9" text-anchor="middle">14</text>
<text x="260.05" y="774.8" font-size="9" text-anchor="middle">16</text>
<text x="284.55" y="774.8" font-size="9" text-anchor="middle">18</text>
<text x="309.05" y="774.8" font-size="9" text-anchor="middle">20</text>
<text x="333.55" y="774.8" font-size="9" text-anchor="middle">22</text>
<text x="358.05" y="774.8" font-size="9" text-anchor="middle">24</text>
<text x="305.6" y="660.4" font-size="9.2" text-anchor="middle">T-start: 20 °C</text>
<text x="280.5" y="787.2" font-size="9.2" text-anchor="middle">Temperature (°C)</text>
<text x="167.3" y="706" font-size="9.2" text-anchor="middle" transform="rotate(-90 167.3 706)">Fraction of animals</text>
<text x="176.8" y="706" font-size="9.2" text-anchor="middle" transform="rotate(-90 176.8 706)">in each region (%)</text>
<line x1="225.3" y1="735.9" x2="236.5" y2="735.9" stroke="#000" stroke-width="1.2"/>
<circle cx="230.9" cy="735.9" r="2" fill="#fff" stroke="#000" stroke-width="1"/>
<text x="238.1" y="739" font-size="9.3">Histamine-</text>
<line x1="225.3" y1="749.3" x2="236.5" y2="749.3" stroke="#ff0000" stroke-width="1.2"/>
<circle cx="230.9" cy="749.3" r="2.2" fill="#ff0000"/>
<text x="238.1" y="752.4" font-size="9.3">Histamine+</text>
<text x="392.9" y="644.3" font-size="11.3" font-style="italic">Pvap-1::HisCl1</text>
<rect x="392.93" y="679.3" width="36.69" height="87.1" fill="#cfe6f6"/>
<rect x="488.6" y="663.3" width="5.1" height="98.2" fill="#cdcdcd"/>
<path d="M380.7,749.57 L392.93,708.85 L405.16,692 L417.39,691.3 L429.62,703.23 L441.85,701.13 L454.08,696.92 L466.31,692.7 L478.54,689.9 L490.77,699.02 L503,717.27 L515.23,731.31 L527.46,744.65 L539.69,751.67" stroke="#000" stroke-width="1.1" fill="none" stroke-linejoin="round"/>
<line x1="380.7" y1="747.46" x2="380.7" y2="751.67" stroke="#000" stroke-width="1.1"/>
<line x1="378.7" y1="747.46" x2="382.7" y2="747.46" stroke="#000" stroke-width="1.1"/>
<line x1="378.7" y1="751.67" x2="382.7" y2="751.67" stroke="#000" stroke-width="1.1"/>
<line x1="392.93" y1="703.94" x2="392.93" y2="713.76" stroke="#000" stroke-width="1.1"/>
<line x1="390.93" y1="703.94" x2="394.93" y2="703.94" stroke="#000" stroke-width="1.1"/>
<line x1="390.93" y1="713.76" x2="394.93" y2="713.76" stroke="#000" stroke-width="1.1"/>
<line x1="405.16" y1="686.39" x2="405.16" y2="697.62" stroke="#000" stroke-width="1.1"/>
<line x1="403.16" y1="686.39" x2="407.16" y2="686.39" stroke="#000" stroke-width="1.1"/>
<line x1="403.16" y1="697.62" x2="407.16" y2="697.62" stroke="#000" stroke-width="1.1"/>
<line x1="417.39" y1="687.09" x2="417.39" y2="695.51" stroke="#000" stroke-width="1.1"/>
<line x1="415.39" y1="687.09" x2="419.39" y2="687.09" stroke="#000" stroke-width="1.1"/>
<line x1="415.39" y1="695.51" x2="419.39" y2="695.51" stroke="#000" stroke-width="1.1"/>
<line x1="429.62" y1="699.72" x2="429.62" y2="706.74" stroke="#000" stroke-width="1.1"/>
<line x1="427.62" y1="699.72" x2="431.62" y2="699.72" stroke="#000" stroke-width="1.1"/>
<line x1="427.62" y1="706.74" x2="431.62" y2="706.74" stroke="#000" stroke-width="1.1"/>
<line x1="441.85" y1="697.62" x2="441.85" y2="704.64" stroke="#000" stroke-width="1.1"/>
<line x1="439.85" y1="697.62" x2="443.85" y2="697.62" stroke="#000" stroke-width="1.1"/>
<line x1="439.85" y1="704.64" x2="443.85" y2="704.64" stroke="#000" stroke-width="1.1"/>
<line x1="454.08" y1="693.41" x2="454.08" y2="700.43" stroke="#000" stroke-width="1.1"/>
<line x1="452.08" y1="693.41" x2="456.08" y2="693.41" stroke="#000" stroke-width="1.1"/>
<line x1="452.08" y1="700.43" x2="456.08" y2="700.43" stroke="#000" stroke-width="1.1"/>
<line x1="466.31" y1="689.19" x2="466.31" y2="696.21" stroke="#000" stroke-width="1.1"/>
<line x1="464.31" y1="689.19" x2="468.31" y2="689.19" stroke="#000" stroke-width="1.1"/>
<line x1="464.31" y1="696.21" x2="468.31" y2="696.21" stroke="#000" stroke-width="1.1"/>
<line x1="478.54" y1="685.68" x2="478.54" y2="694.11" stroke="#000" stroke-width="1.1"/>
<line x1="476.54" y1="685.68" x2="480.54" y2="685.68" stroke="#000" stroke-width="1.1"/>
<line x1="476.54" y1="694.11" x2="480.54" y2="694.11" stroke="#000" stroke-width="1.1"/>
<line x1="490.77" y1="694.81" x2="490.77" y2="703.23" stroke="#000" stroke-width="1.1"/>
<line x1="488.77" y1="694.81" x2="492.77" y2="694.81" stroke="#000" stroke-width="1.1"/>
<line x1="488.77" y1="703.23" x2="492.77" y2="703.23" stroke="#000" stroke-width="1.1"/>
<line x1="503" y1="713.06" x2="503" y2="721.49" stroke="#000" stroke-width="1.1"/>
<line x1="501" y1="713.06" x2="505" y2="713.06" stroke="#000" stroke-width="1.1"/>
<line x1="501" y1="721.49" x2="505" y2="721.49" stroke="#000" stroke-width="1.1"/>
<line x1="515.23" y1="727.8" x2="515.23" y2="734.82" stroke="#000" stroke-width="1.1"/>
<line x1="513.23" y1="727.8" x2="517.23" y2="727.8" stroke="#000" stroke-width="1.1"/>
<line x1="513.23" y1="734.82" x2="517.23" y2="734.82" stroke="#000" stroke-width="1.1"/>
<line x1="527.46" y1="741.84" x2="527.46" y2="747.46" stroke="#000" stroke-width="1.1"/>
<line x1="525.46" y1="741.84" x2="529.46" y2="741.84" stroke="#000" stroke-width="1.1"/>
<line x1="525.46" y1="747.46" x2="529.46" y2="747.46" stroke="#000" stroke-width="1.1"/>
<line x1="539.69" y1="750.27" x2="539.69" y2="753.08" stroke="#000" stroke-width="1.1"/>
<line x1="537.69" y1="750.27" x2="541.69" y2="750.27" stroke="#000" stroke-width="1.1"/>
<line x1="537.69" y1="753.08" x2="541.69" y2="753.08" stroke="#000" stroke-width="1.1"/>
<circle cx="380.7" cy="749.57" r="2" fill="#fff" stroke="#000" stroke-width="1"/>
<circle cx="392.93" cy="708.85" r="2" fill="#fff" stroke="#000" stroke-width="1"/>
<circle cx="405.16" cy="692" r="2" fill="#fff" stroke="#000" stroke-width="1"/>
<circle cx="417.39" cy="691.3" r="2" fill="#fff" stroke="#000" stroke-width="1"/>
<circle cx="429.62" cy="703.23" r="2" fill="#fff" stroke="#000" stroke-width="1"/>
<circle cx="441.85" cy="701.13" r="2" fill="#fff" stroke="#000" stroke-width="1"/>
<circle cx="454.08" cy="696.92" r="2" fill="#fff" stroke="#000" stroke-width="1"/>
<circle cx="466.31" cy="692.7" r="2" fill="#fff" stroke="#000" stroke-width="1"/>
<circle cx="478.54" cy="689.9" r="2" fill="#fff" stroke="#000" stroke-width="1"/>
<circle cx="490.77" cy="699.02" r="2" fill="#fff" stroke="#000" stroke-width="1"/>
<circle cx="503" cy="717.27" r="2" fill="#fff" stroke="#000" stroke-width="1"/>
<circle cx="515.23" cy="731.31" r="2" fill="#fff" stroke="#000" stroke-width="1"/>
<circle cx="527.46" cy="744.65" r="2" fill="#fff" stroke="#000" stroke-width="1"/>
<circle cx="539.69" cy="751.67" r="2" fill="#fff" stroke="#000" stroke-width="1"/>
<path d="M380.7,749.57 L392.93,722.89 L405.16,704.64 L417.39,701.83 L429.62,701.83 L441.85,699.72 L454.08,694.81 L466.31,686.39 L478.54,680.77 L490.77,689.9 L503,713.76 L515.23,728.51 L527.46,743.25 L539.69,751.67" stroke="#0000ff" stroke-width="1.3" fill="none" stroke-linejoin="round"/>
<line x1="380.7" y1="747.46" x2="380.7" y2="751.67" stroke="#0000ff" stroke-width="1.1"/>
<line x1="378.7" y1="747.46" x2="382.7" y2="747.46" stroke="#0000ff" stroke-width="1.1"/>
<line x1="378.7" y1="751.67" x2="382.7" y2="751.67" stroke="#0000ff" stroke-width="1.1"/>
<line x1="392.93" y1="719.38" x2="392.93" y2="726.4" stroke="#0000ff" stroke-width="1.1"/>
<line x1="390.93" y1="719.38" x2="394.93" y2="719.38" stroke="#0000ff" stroke-width="1.1"/>
<line x1="390.93" y1="726.4" x2="394.93" y2="726.4" stroke="#0000ff" stroke-width="1.1"/>
<line x1="405.16" y1="700.43" x2="405.16" y2="708.85" stroke="#0000ff" stroke-width="1.1"/>
<line x1="403.16" y1="700.43" x2="407.16" y2="700.43" stroke="#0000ff" stroke-width="1.1"/>
<line x1="403.16" y1="708.85" x2="407.16" y2="708.85" stroke="#0000ff" stroke-width="1.1"/>
<line x1="417.39" y1="697.62" x2="417.39" y2="706.04" stroke="#0000ff" stroke-width="1.1"/>
<line x1="415.39" y1="697.62" x2="419.39" y2="697.62" stroke="#0000ff" stroke-width="1.1"/>
<line x1="415.39" y1="706.04" x2="419.39" y2="706.04" stroke="#0000ff" stroke-width="1.1"/>
<line x1="429.62" y1="697.62" x2="429.62" y2="706.04" stroke="#0000ff" stroke-width="1.1"/>
<line x1="427.62" y1="697.62" x2="431.62" y2="697.62" stroke="#0000ff" stroke-width="1.1"/>
<line x1="427.62" y1="706.04" x2="431.62" y2="706.04" stroke="#0000ff" stroke-width="1.1"/>
<line x1="441.85" y1="696.21" x2="441.85" y2="703.23" stroke="#0000ff" stroke-width="1.1"/>
<line x1="439.85" y1="696.21" x2="443.85" y2="696.21" stroke="#0000ff" stroke-width="1.1"/>
<line x1="439.85" y1="703.23" x2="443.85" y2="703.23" stroke="#0000ff" stroke-width="1.1"/>
<line x1="454.08" y1="692" x2="454.08" y2="697.62" stroke="#0000ff" stroke-width="1.1"/>
<line x1="452.08" y1="692" x2="456.08" y2="692" stroke="#0000ff" stroke-width="1.1"/>
<line x1="452.08" y1="697.62" x2="456.08" y2="697.62" stroke="#0000ff" stroke-width="1.1"/>
<line x1="466.31" y1="683.58" x2="466.31" y2="689.19" stroke="#0000ff" stroke-width="1.1"/>
<line x1="464.31" y1="683.58" x2="468.31" y2="683.58" stroke="#0000ff" stroke-width="1.1"/>
<line x1="464.31" y1="689.19" x2="468.31" y2="689.19" stroke="#0000ff" stroke-width="1.1"/>
<line x1="478.54" y1="677.26" x2="478.54" y2="684.28" stroke="#0000ff" stroke-width="1.1"/>
<line x1="476.54" y1="677.26" x2="480.54" y2="677.26" stroke="#0000ff" stroke-width="1.1"/>
<line x1="476.54" y1="684.28" x2="480.54" y2="684.28" stroke="#0000ff" stroke-width="1.1"/>
<line x1="490.77" y1="685.68" x2="490.77" y2="694.11" stroke="#0000ff" stroke-width="1.1"/>
<line x1="488.77" y1="685.68" x2="492.77" y2="685.68" stroke="#0000ff" stroke-width="1.1"/>
<line x1="488.77" y1="694.11" x2="492.77" y2="694.11" stroke="#0000ff" stroke-width="1.1"/>
<line x1="503" y1="709.55" x2="503" y2="717.98" stroke="#0000ff" stroke-width="1.1"/>
<line x1="501" y1="709.55" x2="505" y2="709.55" stroke="#0000ff" stroke-width="1.1"/>
<line x1="501" y1="717.98" x2="505" y2="717.98" stroke="#0000ff" stroke-width="1.1"/>
<line x1="515.23" y1="725" x2="515.23" y2="732.02" stroke="#0000ff" stroke-width="1.1"/>
<line x1="513.23" y1="725" x2="517.23" y2="725" stroke="#0000ff" stroke-width="1.1"/>
<line x1="513.23" y1="732.02" x2="517.23" y2="732.02" stroke="#0000ff" stroke-width="1.1"/>
<line x1="527.46" y1="741.14" x2="527.46" y2="745.35" stroke="#0000ff" stroke-width="1.1"/>
<line x1="525.46" y1="741.14" x2="529.46" y2="741.14" stroke="#0000ff" stroke-width="1.1"/>
<line x1="525.46" y1="745.35" x2="529.46" y2="745.35" stroke="#0000ff" stroke-width="1.1"/>
<line x1="539.69" y1="750.27" x2="539.69" y2="753.08" stroke="#0000ff" stroke-width="1.1"/>
<line x1="537.69" y1="750.27" x2="541.69" y2="750.27" stroke="#0000ff" stroke-width="1.1"/>
<line x1="537.69" y1="753.08" x2="541.69" y2="753.08" stroke="#0000ff" stroke-width="1.1"/>
<circle cx="380.7" cy="749.57" r="2.3" fill="#0000ff"/>
<circle cx="392.93" cy="722.89" r="2.3" fill="#0000ff"/>
<circle cx="405.16" cy="704.64" r="2.3" fill="#0000ff"/>
<circle cx="417.39" cy="701.83" r="2.3" fill="#0000ff"/>
<circle cx="429.62" cy="701.83" r="2.3" fill="#0000ff"/>
<circle cx="441.85" cy="699.72" r="2.3" fill="#0000ff"/>
<circle cx="454.08" cy="694.81" r="2.3" fill="#0000ff"/>
<circle cx="466.31" cy="686.39" r="2.3" fill="#0000ff"/>
<circle cx="478.54" cy="680.77" r="2.3" fill="#0000ff"/>
<circle cx="490.77" cy="689.9" r="2.3" fill="#0000ff"/>
<circle cx="503" cy="713.76" r="2.3" fill="#0000ff"/>
<circle cx="515.23" cy="728.51" r="2.3" fill="#0000ff"/>
<circle cx="527.46" cy="743.25" r="2.3" fill="#0000ff"/>
<circle cx="539.69" cy="751.67" r="2.3" fill="#0000ff"/>
<line x1="380.7" y1="655.5" x2="380.7" y2="762.4" stroke="#000" stroke-width="1.8"/>
<line x1="376" y1="761.5" x2="380.7" y2="761.5" stroke="#000" stroke-width="1.5"/>
<text x="373.8" y="764.47" font-size="9" text-anchor="end">0</text>
<line x1="376" y1="726.4" x2="380.7" y2="726.4" stroke="#000" stroke-width="1.5"/>
<text x="373.8" y="729.37" font-size="9" text-anchor="end">5</text>
<line x1="376" y1="691.3" x2="380.7" y2="691.3" stroke="#000" stroke-width="1.5"/>
<text x="373.8" y="694.27" font-size="9" text-anchor="end">10</text>
<line x1="376" y1="656.2" x2="380.7" y2="656.2" stroke="#000" stroke-width="1.5"/>
<text x="373.8" y="659.17" font-size="9" text-anchor="end">15</text>
<line x1="379.8" y1="761.5" x2="540.44" y2="761.5" stroke="#000" stroke-width="1.8"/>
<line x1="392.93" y1="761.5" x2="392.93" y2="765.9" stroke="#000" stroke-width="1.5"/>
<line x1="405.16" y1="761.5" x2="405.16" y2="765.9" stroke="#000" stroke-width="1.5"/>
<line x1="417.39" y1="761.5" x2="417.39" y2="765.9" stroke="#000" stroke-width="1.5"/>
<line x1="429.62" y1="761.5" x2="429.62" y2="765.9" stroke="#000" stroke-width="1.5"/>
<line x1="441.85" y1="761.5" x2="441.85" y2="765.9" stroke="#000" stroke-width="1.5"/>
<line x1="454.08" y1="761.5" x2="454.08" y2="765.9" stroke="#000" stroke-width="1.5"/>
<line x1="466.31" y1="761.5" x2="466.31" y2="765.9" stroke="#000" stroke-width="1.5"/>
<line x1="478.54" y1="761.5" x2="478.54" y2="765.9" stroke="#000" stroke-width="1.5"/>
<line x1="490.77" y1="761.5" x2="490.77" y2="765.9" stroke="#000" stroke-width="1.5"/>
<line x1="503" y1="761.5" x2="503" y2="765.9" stroke="#000" stroke-width="1.5"/>
<line x1="515.23" y1="761.5" x2="515.23" y2="765.9" stroke="#000" stroke-width="1.5"/>
<line x1="527.46" y1="761.5" x2="527.46" y2="765.9" stroke="#000" stroke-width="1.5"/>
<line x1="539.69" y1="761.5" x2="539.69" y2="765.9" stroke="#000" stroke-width="1.5"/>
<text x="392.93" y="774.8" font-size="9" text-anchor="middle">12</text>
<text x="417.39" y="774.8" font-size="9" text-anchor="middle">14</text>
<text x="441.85" y="774.8" font-size="9" text-anchor="middle">16</text>
<text x="466.31" y="774.8" font-size="9" text-anchor="middle">18</text>
<text x="490.77" y="774.8" font-size="9" text-anchor="middle">20</text>
<text x="515.23" y="774.8" font-size="9" text-anchor="middle">22</text>
<text x="539.69" y="774.8" font-size="9" text-anchor="middle">24</text>
<text x="483.5" y="660.4" font-size="9.2" text-anchor="middle">T-start: 20 °C</text>
<text x="461" y="787.2" font-size="9.2" text-anchor="middle">Temperature (°C)</text>
<line x1="406.4" y1="735.9" x2="416" y2="735.9" stroke="#000" stroke-width="1.2"/>
<circle cx="411.2" cy="735.9" r="2" fill="#fff" stroke="#000" stroke-width="1"/>
<text x="420.8" y="739" font-size="9.3">Histamine-</text>
<line x1="406.4" y1="749.3" x2="416" y2="749.3" stroke="#0000ff" stroke-width="1.2"/>
<circle cx="411.2" cy="749.3" r="2.2" fill="#0000ff"/>
<text x="420.8" y="752.4" font-size="9.3">Histamine+</text>
<text x="536.5" y="626.3" font-size="20">k</text>
<rect x="590" y="701.31" width="15.8" height="33.09" fill="#d4d4d4"/>
<rect x="609.7" y="704.3" width="16" height="30.1" fill="#ffdfe0"/>
<rect x="640.9" y="695.92" width="16.3" height="38.48" fill="#d4d4d4"/>
<rect x="660.8" y="703.16" width="16.3" height="31.24" fill="#c0c0ff"/>
<path d="M591,734.4 V702.31 H604.8 V734.4" stroke="#000" stroke-width="2" fill="none"/>
<path d="M610.7,734.4 V705.3 H624.7 V734.4" stroke="#ff0000" stroke-width="2" fill="none"/>
<path d="M641.9,734.4 V696.92 H656.2 V734.4" stroke="#000" stroke-width="2" fill="none"/>
<path d="M661.8,734.4 V704.16 H676.1 V734.4" stroke="#0000ff" stroke-width="2" fill="none"/>
<circle cx="597.9" cy="649.7" r="1.1" fill="#d8d8d8" stroke="#9a9a9a" stroke-width="0.6"/>
<circle cx="597.9" cy="658.3" r="1.1" fill="#d8d8d8" stroke="#9a9a9a" stroke-width="0.6"/>
<circle cx="597.9" cy="665.8" r="1.1" fill="#d8d8d8" stroke="#9a9a9a" stroke-width="0.6"/>
<circle cx="597.9" cy="668.7" r="1.1" fill="#d8d8d8" stroke="#9a9a9a" stroke-width="0.6"/>
<circle cx="597.9" cy="676.4" r="1.1" fill="#d8d8d8" stroke="#9a9a9a" stroke-width="0.6"/>
<circle cx="597.9" cy="678.4" r="1.1" fill="#d8d8d8" stroke="#9a9a9a" stroke-width="0.6"/>
<circle cx="597.9" cy="680.3" r="1.1" fill="#d8d8d8" stroke="#9a9a9a" stroke-width="0.6"/>
<circle cx="597.9" cy="682.3" r="1.1" fill="#d8d8d8" stroke="#9a9a9a" stroke-width="0.6"/>
<circle cx="597.9" cy="684.7" r="1.1" fill="#d8d8d8" stroke="#9a9a9a" stroke-width="0.6"/>
<circle cx="597.9" cy="686.6" r="1.1" fill="#d8d8d8" stroke="#9a9a9a" stroke-width="0.6"/>
<circle cx="597.9" cy="688.6" r="1.1" fill="#d8d8d8" stroke="#9a9a9a" stroke-width="0.6"/>
<circle cx="601.5" cy="690.3" r="1.1" fill="#d8d8d8" stroke="#9a9a9a" stroke-width="0.6"/>
<circle cx="597.9" cy="691" r="1.1" fill="#d8d8d8" stroke="#9a9a9a" stroke-width="0.6"/>
<circle cx="601.5" cy="693.3" r="1.1" fill="#d8d8d8" stroke="#9a9a9a" stroke-width="0.6"/>
<circle cx="597.9" cy="693.5" r="1.1" fill="#d8d8d8" stroke="#9a9a9a" stroke-width="0.6"/>
<circle cx="594.7" cy="695.6" r="1.1" fill="#d8d8d8" stroke="#9a9a9a" stroke-width="0.6"/>
<circle cx="597.9" cy="695.4" r="1.1" fill="#d8d8d8" stroke="#9a9a9a" stroke-width="0.6"/>
<circle cx="594.7" cy="701" r="1.1" fill="#d8d8d8" stroke="#9a9a9a" stroke-width="0.6"/>
<circle cx="597.9" cy="700.7" r="1.1" fill="#d8d8d8" stroke="#9a9a9a" stroke-width="0.6"/>
<circle cx="601.5" cy="701" r="1.1" fill="#d8d8d8" stroke="#9a9a9a" stroke-width="0.6"/>
<circle cx="597.1" cy="709" r="1.1" fill="#d8d8d8" stroke="#9a9a9a" stroke-width="0.6"/>
<circle cx="597.1" cy="711.4" r="1.1" fill="#d8d8d8" stroke="#9a9a9a" stroke-width="0.6"/>
<circle cx="597.9" cy="716.3" r="1.1" fill="#d8d8d8" stroke="#9a9a9a" stroke-width="0.6"/>
<circle cx="601.5" cy="715.3" r="1.1" fill="#d8d8d8" stroke="#9a9a9a" stroke-width="0.6"/>
<circle cx="597.9" cy="718.7" r="1.1" fill="#d8d8d8" stroke="#9a9a9a" stroke-width="0.6"/>
<circle cx="601.5" cy="718.2" r="1.1" fill="#d8d8d8" stroke="#9a9a9a" stroke-width="0.6"/>
<circle cx="597.9" cy="721.1" r="1.1" fill="#d8d8d8" stroke="#9a9a9a" stroke-width="0.6"/>
<circle cx="594.7" cy="722.6" r="1.1" fill="#d8d8d8" stroke="#9a9a9a" stroke-width="0.6"/>
<circle cx="601.5" cy="722.1" r="1.1" fill="#d8d8d8" stroke="#9a9a9a" stroke-width="0.6"/>
<circle cx="597.9" cy="723.6" r="1.1" fill="#d8d8d8" stroke="#9a9a9a" stroke-width="0.6"/>
<circle cx="597.9" cy="727.5" r="1.1" fill="#d8d8d8" stroke="#9a9a9a" stroke-width="0.6"/>
<circle cx="601.5" cy="730.4" r="1.1" fill="#d8d8d8" stroke="#9a9a9a" stroke-width="0.6"/>
<circle cx="594.7" cy="705" r="1.1" fill="#d8d8d8" stroke="#9a9a9a" stroke-width="0.6"/>
<circle cx="601.5" cy="705" r="1.1" fill="#d8d8d8" stroke="#9a9a9a" stroke-width="0.6"/>
<circle cx="617.6" cy="665.5" r="1.1" fill="#d8d8d8" stroke="#9a9a9a" stroke-width="0.6"/>
<circle cx="617.6" cy="671.6" r="1.1" fill="#d8d8d8" stroke="#9a9a9a" stroke-width="0.6"/>
<circle cx="617.6" cy="676.2" r="1.1" fill="#d8d8d8" stroke="#9a9a9a" stroke-width="0.6"/>
<circle cx="619" cy="678.4" r="1.1" fill="#d8d8d8" stroke="#9a9a9a" stroke-width="0.6"/>
<circle cx="615.9" cy="679.8" r="1.1" fill="#d8d8d8" stroke="#9a9a9a" stroke-width="0.6"/>
<circle cx="617.6" cy="685.2" r="1.1" fill="#d8d8d8" stroke="#9a9a9a" stroke-width="0.6"/>
<circle cx="617.6" cy="687.6" r="1.1" fill="#d8d8d8" stroke="#9a9a9a" stroke-width="0.6"/>
<circle cx="617.6" cy="689.6" r="1.1" fill="#d8d8d8" stroke="#9a9a9a" stroke-width="0.6"/>
<circle cx="617.6" cy="691.5" r="1.1" fill="#d8d8d8" stroke="#9a9a9a" stroke-width="0.6"/>
<circle cx="617.6" cy="693.5" r="1.1" fill="#d8d8d8" stroke="#9a9a9a" stroke-width="0.6"/>
<circle cx="612.7" cy="695.6" r="1.1" fill="#d8d8d8" stroke="#9a9a9a" stroke-width="0.6"/>
<circle cx="619" cy="696.4" r="1.1" fill="#d8d8d8" stroke="#9a9a9a" stroke-width="0.6"/>
<circle cx="622.4" cy="696.4" r="1.1" fill="#d8d8d8" stroke="#9a9a9a" stroke-width="0.6"/>
<circle cx="617.6" cy="700.1" r="1.1" fill="#d8d8d8" stroke="#9a9a9a" stroke-width="0.6"/>
<circle cx="617.6" cy="704.1" r="1.1" fill="#d8d8d8" stroke="#9a9a9a" stroke-width="0.6"/>
<circle cx="617.6" cy="707.1" r="1.1" fill="#d8d8d8" stroke="#9a9a9a" stroke-width="0.6"/>
<circle cx="616.1" cy="709.5" r="1.1" fill="#d8d8d8" stroke="#9a9a9a" stroke-width="0.6"/>
<circle cx="619" cy="709.8" r="1.1" fill="#d8d8d8" stroke="#9a9a9a" stroke-width="0.6"/>
<circle cx="617.6" cy="711.4" r="1.1" fill="#d8d8d8" stroke="#9a9a9a" stroke-width="0.6"/>
<circle cx="612.7" cy="715.8" r="1.1" fill="#d8d8d8" stroke="#9a9a9a" stroke-width="0.6"/>
<circle cx="616.1" cy="715.6" r="1.1" fill="#d8d8d8" stroke="#9a9a9a" stroke-width="0.6"/>
<circle cx="619" cy="715.3" r="1.1" fill="#d8d8d8" stroke="#9a9a9a" stroke-width="0.6"/>
<circle cx="622.4" cy="715.3" r="1.1" fill="#d8d8d8" stroke="#9a9a9a" stroke-width="0.6"/>
<circle cx="612.7" cy="719.7" r="1.1" fill="#d8d8d8" stroke="#9a9a9a" stroke-width="0.6"/>
<circle cx="616.1" cy="721.1" r="1.1" fill="#d8d8d8" stroke="#9a9a9a" stroke-width="0.6"/>
<circle cx="619" cy="719.9" r="1.1" fill="#d8d8d8" stroke="#9a9a9a" stroke-width="0.6"/>
<circle cx="622.4" cy="719.2" r="1.1" fill="#d8d8d8" stroke="#9a9a9a" stroke-width="0.6"/>
<circle cx="617.6" cy="723.6" r="1.1" fill="#d8d8d8" stroke="#9a9a9a" stroke-width="0.6"/>
<circle cx="612.7" cy="728" r="1.1" fill="#d8d8d8" stroke="#9a9a9a" stroke-width="0.6"/>
<circle cx="617.6" cy="728" r="1.1" fill="#d8d8d8" stroke="#9a9a9a" stroke-width="0.6"/>
<circle cx="649.1" cy="651.9" r="1.1" fill="#d8d8d8" stroke="#9a9a9a" stroke-width="0.6"/>
<circle cx="645.2" cy="674" r="1.1" fill="#d8d8d8" stroke="#9a9a9a" stroke-width="0.6"/>
<circle cx="649.1" cy="676.2" r="1.1" fill="#d8d8d8" stroke="#9a9a9a" stroke-width="0.6"/>
<circle cx="652.5" cy="675" r="1.1" fill="#d8d8d8" stroke="#9a9a9a" stroke-width="0.6"/>
<circle cx="641.8" cy="679.4" r="1.1" fill="#d8d8d8" stroke="#9a9a9a" stroke-width="0.6"/>
<circle cx="645.5" cy="679.7" r="1.1" fill="#d8d8d8" stroke="#9a9a9a" stroke-width="0.6"/>
<circle cx="649.1" cy="679.8" r="1.1" fill="#d8d8d8" stroke="#9a9a9a" stroke-width="0.6"/>
<circle cx="652.5" cy="679.4" r="1.1" fill="#d8d8d8" stroke="#9a9a9a" stroke-width="0.6"/>
<circle cx="655.9" cy="679.4" r="1.1" fill="#d8d8d8" stroke="#9a9a9a" stroke-width="0.6"/>
<circle cx="652.5" cy="684.2" r="1.1" fill="#d8d8d8" stroke="#9a9a9a" stroke-width="0.6"/>
<circle cx="649.1" cy="685.7" r="1.1" fill="#d8d8d8" stroke="#9a9a9a" stroke-width="0.6"/>
<circle cx="649.1" cy="687.1" r="1.1" fill="#d8d8d8" stroke="#9a9a9a" stroke-width="0.6"/>
<circle cx="649.1" cy="688.6" r="1.1" fill="#d8d8d8" stroke="#9a9a9a" stroke-width="0.6"/>
<circle cx="645.5" cy="688.6" r="1.1" fill="#d8d8d8" stroke="#9a9a9a" stroke-width="0.6"/>
<circle cx="652.5" cy="691" r="1.1" fill="#d8d8d8" stroke="#9a9a9a" stroke-width="0.6"/>
<circle cx="649.1" cy="690" r="1.1" fill="#d8d8d8" stroke="#9a9a9a" stroke-width="0.6"/>
<circle cx="649.1" cy="694.4" r="1.1" fill="#d8d8d8" stroke="#9a9a9a" stroke-width="0.6"/>
<circle cx="645.5" cy="698.3" r="1.1" fill="#d8d8d8" stroke="#9a9a9a" stroke-width="0.6"/>
<circle cx="649.1" cy="698.3" r="1.1" fill="#d8d8d8" stroke="#9a9a9a" stroke-width="0.6"/>
<circle cx="652.5" cy="698.3" r="1.1" fill="#d8d8d8" stroke="#9a9a9a" stroke-width="0.6"/>
<circle cx="649.1" cy="701.2" r="1.1" fill="#d8d8d8" stroke="#9a9a9a" stroke-width="0.6"/>
<circle cx="645.5" cy="703.7" r="1.1" fill="#d8d8d8" stroke="#9a9a9a" stroke-width="0.6"/>
<circle cx="652.5" cy="704.1" r="1.1" fill="#d8d8d8" stroke="#9a9a9a" stroke-width="0.6"/>
<circle cx="649.1" cy="706.1" r="1.1" fill="#d8d8d8" stroke="#9a9a9a" stroke-width="0.6"/>
<circle cx="649.1" cy="708" r="1.1" fill="#d8d8d8" stroke="#9a9a9a" stroke-width="0.6"/>
<circle cx="645.5" cy="711.4" r="1.1" fill="#d8d8d8" stroke="#9a9a9a" stroke-width="0.6"/>
<circle cx="652.5" cy="711.9" r="1.1" fill="#d8d8d8" stroke="#9a9a9a" stroke-width="0.6"/>
<circle cx="649.1" cy="712.4" r="1.1" fill="#d8d8d8" stroke="#9a9a9a" stroke-width="0.6"/>
<circle cx="649.1" cy="714.8" r="1.1" fill="#d8d8d8" stroke="#9a9a9a" stroke-width="0.6"/>
<circle cx="649.1" cy="716.8" r="1.1" fill="#d8d8d8" stroke="#9a9a9a" stroke-width="0.6"/>
<circle cx="649.1" cy="719.7" r="1.1" fill="#d8d8d8" stroke="#9a9a9a" stroke-width="0.6"/>
<circle cx="649.1" cy="721.6" r="1.1" fill="#d8d8d8" stroke="#9a9a9a" stroke-width="0.6"/>
<circle cx="649.1" cy="723.6" r="1.1" fill="#d8d8d8" stroke="#9a9a9a" stroke-width="0.6"/>
<circle cx="649.1" cy="731.4" r="1.1" fill="#d8d8d8" stroke="#9a9a9a" stroke-width="0.6"/>
<circle cx="649.1" cy="710" r="1.1" fill="#d8d8d8" stroke="#9a9a9a" stroke-width="0.6"/>
<circle cx="652.5" cy="700.3" r="1.1" fill="#d8d8d8" stroke="#9a9a9a" stroke-width="0.6"/>
<circle cx="668.5" cy="674.5" r="1.1" fill="#d8d8d8" stroke="#9a9a9a" stroke-width="0.6"/>
<circle cx="665.1" cy="681.8" r="1.1" fill="#d8d8d8" stroke="#9a9a9a" stroke-width="0.6"/>
<circle cx="668.5" cy="680.8" r="1.1" fill="#d8d8d8" stroke="#9a9a9a" stroke-width="0.6"/>
<circle cx="671.9" cy="682" r="1.1" fill="#d8d8d8" stroke="#9a9a9a" stroke-width="0.6"/>
<circle cx="668.5" cy="682.8" r="1.1" fill="#d8d8d8" stroke="#9a9a9a" stroke-width="0.6"/>
<circle cx="668.5" cy="685.7" r="1.1" fill="#d8d8d8" stroke="#9a9a9a" stroke-width="0.6"/>
<circle cx="668.5" cy="687.6" r="1.1" fill="#d8d8d8" stroke="#9a9a9a" stroke-width="0.6"/>
<circle cx="665.1" cy="689.8" r="1.1" fill="#d8d8d8" stroke="#9a9a9a" stroke-width="0.6"/>
<circle cx="671.9" cy="689.6" r="1.1" fill="#d8d8d8" stroke="#9a9a9a" stroke-width="0.6"/>
<circle cx="668.5" cy="689.6" r="1.1" fill="#d8d8d8" stroke="#9a9a9a" stroke-width="0.6"/>
<circle cx="668.5" cy="691.5" r="1.1" fill="#d8d8d8" stroke="#9a9a9a" stroke-width="0.6"/>
<circle cx="668.5" cy="693.5" r="1.1" fill="#d8d8d8" stroke="#9a9a9a" stroke-width="0.6"/>
<circle cx="668.5" cy="695.4" r="1.1" fill="#d8d8d8" stroke="#9a9a9a" stroke-width="0.6"/>
<circle cx="665.1" cy="694.9" r="1.1" fill="#d8d8d8" stroke="#9a9a9a" stroke-width="0.6"/>
<circle cx="668.5" cy="697.3" r="1.1" fill="#d8d8d8" stroke="#9a9a9a" stroke-width="0.6"/>
<circle cx="665.1" cy="698.3" r="1.1" fill="#d8d8d8" stroke="#9a9a9a" stroke-width="0.6"/>
<circle cx="671.9" cy="698.3" r="1.1" fill="#d8d8d8" stroke="#9a9a9a" stroke-width="0.6"/>
<circle cx="661.7" cy="700.7" r="1.1" fill="#d8d8d8" stroke="#9a9a9a" stroke-width="0.6"/>
<circle cx="665.1" cy="700.7" r="1.1" fill="#d8d8d8" stroke="#9a9a9a" stroke-width="0.6"/>
<circle cx="668.5" cy="700.7" r="1.1" fill="#d8d8d8" stroke="#9a9a9a" stroke-width="0.6"/>
<circle cx="671.9" cy="700.7" r="1.1" fill="#d8d8d8" stroke="#9a9a9a" stroke-width="0.6"/>
<circle cx="675.3" cy="699.8" r="1.1" fill="#d8d8d8" stroke="#9a9a9a" stroke-width="0.6"/>
<circle cx="668.5" cy="703.2" r="1.1" fill="#d8d8d8" stroke="#9a9a9a" stroke-width="0.6"/>
<circle cx="665.1" cy="704.1" r="1.1" fill="#d8d8d8" stroke="#9a9a9a" stroke-width="0.6"/>
<circle cx="671.9" cy="704.1" r="1.1" fill="#d8d8d8" stroke="#9a9a9a" stroke-width="0.6"/>
<circle cx="668.5" cy="706.1" r="1.1" fill="#d8d8d8" stroke="#9a9a9a" stroke-width="0.6"/>
<circle cx="661.7" cy="710" r="1.1" fill="#d8d8d8" stroke="#9a9a9a" stroke-width="0.6"/>
<circle cx="665.1" cy="710" r="1.1" fill="#d8d8d8" stroke="#9a9a9a" stroke-width="0.6"/>
<circle cx="668.5" cy="710" r="1.1" fill="#d8d8d8" stroke="#9a9a9a" stroke-width="0.6"/>
<circle cx="671.9" cy="710" r="1.1" fill="#d8d8d8" stroke="#9a9a9a" stroke-width="0.6"/>
<circle cx="675.3" cy="709.5" r="1.1" fill="#d8d8d8" stroke="#9a9a9a" stroke-width="0.6"/>
<circle cx="665.1" cy="712.4" r="1.1" fill="#d8d8d8" stroke="#9a9a9a" stroke-width="0.6"/>
<circle cx="668.5" cy="712.4" r="1.1" fill="#d8d8d8" stroke="#9a9a9a" stroke-width="0.6"/>
<circle cx="671.9" cy="712.4" r="1.1" fill="#d8d8d8" stroke="#9a9a9a" stroke-width="0.6"/>
<circle cx="665.1" cy="714.8" r="1.1" fill="#d8d8d8" stroke="#9a9a9a" stroke-width="0.6"/>
<circle cx="668.5" cy="714.8" r="1.1" fill="#d8d8d8" stroke="#9a9a9a" stroke-width="0.6"/>
<circle cx="666.6" cy="716.8" r="1.1" fill="#d8d8d8" stroke="#9a9a9a" stroke-width="0.6"/>
<circle cx="668.5" cy="717.7" r="1.1" fill="#d8d8d8" stroke="#9a9a9a" stroke-width="0.6"/>
<circle cx="668.5" cy="719.7" r="1.1" fill="#d8d8d8" stroke="#9a9a9a" stroke-width="0.6"/>
<circle cx="668.5" cy="723.1" r="1.1" fill="#d8d8d8" stroke="#9a9a9a" stroke-width="0.6"/>
<circle cx="668.5" cy="725.5" r="1.1" fill="#d8d8d8" stroke="#9a9a9a" stroke-width="0.6"/>
<circle cx="668.5" cy="732.3" r="1.1" fill="#d8d8d8" stroke="#9a9a9a" stroke-width="0.6"/>
<circle cx="671.9" cy="707.1" r="1.1" fill="#d8d8d8" stroke="#9a9a9a" stroke-width="0.6"/>
<line x1="597.9" y1="697.05" x2="597.9" y2="705.57" stroke="#000" stroke-width="1.3"/>
<line x1="593.9" y1="697.05" x2="601.9" y2="697.05" stroke="#000" stroke-width="1.3"/>
<line x1="593.9" y1="705.57" x2="601.9" y2="705.57" stroke="#000" stroke-width="1.3"/>
<text x="597.9" y="732" font-size="9" text-anchor="middle" fill="#8c2a8c">34</text>
<line x1="617.7" y1="700.32" x2="617.7" y2="708.27" stroke="#ff0000" stroke-width="1.3"/>
<line x1="613.7" y1="700.32" x2="621.7" y2="700.32" stroke="#ff0000" stroke-width="1.3"/>
<line x1="613.7" y1="708.27" x2="621.7" y2="708.27" stroke="#ff0000" stroke-width="1.3"/>
<text x="617.7" y="732" font-size="9" text-anchor="middle" fill="#8c2a8c">30</text>
<line x1="649.05" y1="692.51" x2="649.05" y2="699.33" stroke="#000" stroke-width="1.3"/>
<line x1="645.05" y1="692.51" x2="653.05" y2="692.51" stroke="#000" stroke-width="1.3"/>
<line x1="645.05" y1="699.33" x2="653.05" y2="699.33" stroke="#000" stroke-width="1.3"/>
<text x="649.05" y="732" font-size="9" text-anchor="middle" fill="#8c2a8c">36</text>
<line x1="668.95" y1="700.32" x2="668.95" y2="706" stroke="#0000ff" stroke-width="1.3"/>
<line x1="664.95" y1="700.32" x2="672.95" y2="700.32" stroke="#0000ff" stroke-width="1.3"/>
<line x1="664.95" y1="706" x2="672.95" y2="706" stroke="#0000ff" stroke-width="1.3"/>
<text x="668.95" y="732" font-size="9" text-anchor="middle" fill="#8c2a8c">43</text>
<line x1="583.2" y1="635.3" x2="583.2" y2="735.4" stroke="#000" stroke-width="2"/>
<line x1="579" y1="734.4" x2="583.2" y2="734.4" stroke="#000" stroke-width="1.5"/>
<text x="578.5" y="737.44" font-size="9.2" text-anchor="end">0</text>
<line x1="579" y1="706" x2="583.2" y2="706" stroke="#000" stroke-width="1.5"/>
<text x="578.5" y="709.04" font-size="9.2" text-anchor="end">20</text>
<line x1="579" y1="677.6" x2="583.2" y2="677.6" stroke="#000" stroke-width="1.5"/>
<text x="578.5" y="680.64" font-size="9.2" text-anchor="end">40</text>
<line x1="579" y1="649.2" x2="583.2" y2="649.2" stroke="#000" stroke-width="1.5"/>
<text x="578.5" y="652.24" font-size="9.2" text-anchor="end">60</text>
<line x1="582.2" y1="734.4" x2="685" y2="734.4" stroke="#000" stroke-width="1.7"/>
<text x="612.6" y="628.9" font-size="8" text-anchor="middle"><tspan font-style="italic">p</tspan>=0.5827</text>
<text x="607.85" y="639.3" font-size="7.9" text-anchor="middle">ns</text>
<line x1="599" y1="640.9" x2="616.7" y2="640.9" stroke="#3b2828" stroke-width="1.1"/>
<text x="657.4" y="628.9" font-size="8" text-anchor="middle"><tspan font-style="italic">p</tspan>=0.0296</text>
<path d="M657.65,633.4 L657.65,638.4 M655.48,634.65 L659.82,637.15 M659.82,634.65 L655.48,637.15 " stroke="#000" stroke-width="1.3" fill="none" stroke-linecap="butt"/>
<line x1="648.8" y1="640.9" x2="666.5" y2="640.9" stroke="#3b2828" stroke-width="1.1"/>
<text x="552.9" y="688.6" font-size="9.35" text-anchor="middle" transform="rotate(-90 552.9 688.6)">Fraction of animals</text>
<text x="563.3" y="687.4" font-size="9.25" text-anchor="middle" transform="rotate(-90 563.3 687.4)">stunk in 12-14°C (%)</text>
<text x="588.4" y="741.6" font-size="9.2" text-anchor="end">Histamine</text>
<text x="598.5" y="743" font-size="9" text-anchor="middle" font-weight="bold">-</text>
<text x="616.5" y="743" font-size="9" text-anchor="middle" font-weight="bold">+</text>
<text x="647.5" y="743" font-size="9" text-anchor="middle" font-weight="bold">-</text>
<text x="665.5" y="743" font-size="9" text-anchor="middle" font-weight="bold">+</text>
<line x1="590.6" y1="745" x2="627.3" y2="745" stroke="#111" stroke-width="1.1"/>
<line x1="640.4" y1="745" x2="677.1" y2="745" stroke="#111" stroke-width="1.1"/>
<text x="615" y="752.2" font-size="9.5" font-style="italic" text-anchor="end" transform="rotate(-45 615 752.2)">Pvap-1::mCherry</text>
<text x="663.6" y="752.2" font-size="9.5" font-style="italic" text-anchor="end" transform="rotate(-45 663.6 752.2)">Pvap-1::HisCl1</text>
<text x="-0.3" y="812.8" font-size="20">l</text>
<text x="21.8" y="816.9" font-size="11.3">17°C-cultured, 1°C/cm</text>
<text x="21.8" y="830.3" font-size="11.3" font-style="italic">Pvap-1::mCherry</text>
<rect x="158.5" y="847.8" width="5.4" height="97.7" fill="#cdcdcd"/>
<path d="M50.4,940.16 L62.68,915.06 L74.96,896.91 L87.24,883.56 L99.52,865.4 L111.8,868.6 L124.08,863.8 L136.36,883.02 L148.64,903.85 L160.92,920.94 L173.2,931.62 L185.48,940.16 L197.76,942.83 L210.04,944.97" stroke="#000" stroke-width="1.1" fill="none" stroke-linejoin="round"/>
<line x1="50.4" y1="938.56" x2="50.4" y2="941.76" stroke="#000" stroke-width="1.1"/>
<line x1="48.4" y1="938.56" x2="52.4" y2="938.56" stroke="#000" stroke-width="1.1"/>
<line x1="48.4" y1="941.76" x2="52.4" y2="941.76" stroke="#000" stroke-width="1.1"/>
<line x1="62.68" y1="912.39" x2="62.68" y2="917.73" stroke="#000" stroke-width="1.1"/>
<line x1="60.68" y1="912.39" x2="64.68" y2="912.39" stroke="#000" stroke-width="1.1"/>
<line x1="60.68" y1="917.73" x2="64.68" y2="917.73" stroke="#000" stroke-width="1.1"/>
<line x1="74.96" y1="894.24" x2="74.96" y2="899.58" stroke="#000" stroke-width="1.1"/>
<line x1="72.96" y1="894.24" x2="76.96" y2="894.24" stroke="#000" stroke-width="1.1"/>
<line x1="72.96" y1="899.58" x2="76.96" y2="899.58" stroke="#000" stroke-width="1.1"/>
<line x1="87.24" y1="880.89" x2="87.24" y2="886.23" stroke="#000" stroke-width="1.1"/>
<line x1="85.24" y1="880.89" x2="89.24" y2="880.89" stroke="#000" stroke-width="1.1"/>
<line x1="85.24" y1="886.23" x2="89.24" y2="886.23" stroke="#000" stroke-width="1.1"/>
<line x1="99.52" y1="862.73" x2="99.52" y2="868.07" stroke="#000" stroke-width="1.1"/>
<line x1="97.52" y1="862.73" x2="101.52" y2="862.73" stroke="#000" stroke-width="1.1"/>
<line x1="97.52" y1="868.07" x2="101.52" y2="868.07" stroke="#000" stroke-width="1.1"/>
<line x1="111.8" y1="865.4" x2="111.8" y2="871.81" stroke="#000" stroke-width="1.1"/>
<line x1="109.8" y1="865.4" x2="113.8" y2="865.4" stroke="#000" stroke-width="1.1"/>
<line x1="109.8" y1="871.81" x2="113.8" y2="871.81" stroke="#000" stroke-width="1.1"/>
<line x1="124.08" y1="860.06" x2="124.08" y2="867.54" stroke="#000" stroke-width="1.1"/>
<line x1="122.08" y1="860.06" x2="126.08" y2="860.06" stroke="#000" stroke-width="1.1"/>
<line x1="122.08" y1="867.54" x2="126.08" y2="867.54" stroke="#000" stroke-width="1.1"/>
<line x1="136.36" y1="879.82" x2="136.36" y2="886.23" stroke="#000" stroke-width="1.1"/>
<line x1="134.36" y1="879.82" x2="138.36" y2="879.82" stroke="#000" stroke-width="1.1"/>
<line x1="134.36" y1="886.23" x2="138.36" y2="886.23" stroke="#000" stroke-width="1.1"/>
<line x1="148.64" y1="900.11" x2="148.64" y2="907.59" stroke="#000" stroke-width="1.1"/>
<line x1="146.64" y1="900.11" x2="150.64" y2="900.11" stroke="#000" stroke-width="1.1"/>
<line x1="146.64" y1="907.59" x2="150.64" y2="907.59" stroke="#000" stroke-width="1.1"/>
<line x1="160.92" y1="918.27" x2="160.92" y2="923.61" stroke="#000" stroke-width="1.1"/>
<line x1="158.92" y1="918.27" x2="162.92" y2="918.27" stroke="#000" stroke-width="1.1"/>
<line x1="158.92" y1="923.61" x2="162.92" y2="923.61" stroke="#000" stroke-width="1.1"/>
<line x1="173.2" y1="930.01" x2="173.2" y2="933.22" stroke="#000" stroke-width="1.1"/>
<line x1="171.2" y1="930.01" x2="175.2" y2="930.01" stroke="#000" stroke-width="1.1"/>
<line x1="171.2" y1="933.22" x2="175.2" y2="933.22" stroke="#000" stroke-width="1.1"/>
<line x1="185.48" y1="939.09" x2="185.48" y2="941.23" stroke="#000" stroke-width="1.1"/>
<line x1="183.48" y1="939.09" x2="187.48" y2="939.09" stroke="#000" stroke-width="1.1"/>
<line x1="183.48" y1="941.23" x2="187.48" y2="941.23" stroke="#000" stroke-width="1.1"/>
<line x1="197.76" y1="941.76" x2="197.76" y2="943.9" stroke="#000" stroke-width="1.1"/>
<line x1="195.76" y1="941.76" x2="199.76" y2="941.76" stroke="#000" stroke-width="1.1"/>
<line x1="195.76" y1="943.9" x2="199.76" y2="943.9" stroke="#000" stroke-width="1.1"/>
<line x1="210.04" y1="944.43" x2="210.04" y2="945.5" stroke="#000" stroke-width="1.1"/>
<line x1="208.04" y1="944.43" x2="212.04" y2="944.43" stroke="#000" stroke-width="1.1"/>
<line x1="208.04" y1="945.5" x2="212.04" y2="945.5" stroke="#000" stroke-width="1.1"/>
<circle cx="50.4" cy="940.16" r="2" fill="#fff" stroke="#000" stroke-width="1"/>
<circle cx="62.68" cy="915.06" r="2" fill="#fff" stroke="#000" stroke-width="1"/>
<circle cx="74.96" cy="896.91" r="2" fill="#fff" stroke="#000" stroke-width="1"/>
<circle cx="87.24" cy="883.56" r="2" fill="#fff" stroke="#000" stroke-width="1"/>
<circle cx="99.52" cy="865.4" r="2" fill="#fff" stroke="#000" stroke-width="1"/>
<circle cx="111.8" cy="868.6" r="2" fill="#fff" stroke="#000" stroke-width="1"/>
<circle cx="124.08" cy="863.8" r="2" fill="#fff" stroke="#000" stroke-width="1"/>
<circle cx="136.36" cy="883.02" r="2" fill="#fff" stroke="#000" stroke-width="1"/>
<circle cx="148.64" cy="903.85" r="2" fill="#fff" stroke="#000" stroke-width="1"/>
<circle cx="160.92" cy="920.94" r="2" fill="#fff" stroke="#000" stroke-width="1"/>
<circle cx="173.2" cy="931.62" r="2" fill="#fff" stroke="#000" stroke-width="1"/>
<circle cx="185.48" cy="940.16" r="2" fill="#fff" stroke="#000" stroke-width="1"/>
<circle cx="197.76" cy="942.83" r="2" fill="#fff" stroke="#000" stroke-width="1"/>
<circle cx="210.04" cy="944.97" r="2" fill="#fff" stroke="#000" stroke-width="1"/>
<path d="M50.4,935.89 L62.68,907.59 L74.96,893.7 L87.24,881.42 L99.52,864.87 L111.8,865.93 L124.08,873.41 L136.36,889.96 L148.64,908.65 L160.92,922.54 L173.2,932.15 L185.48,940.16 L197.76,943.36 L210.04,944.97" stroke="#ff0000" stroke-width="1.3" fill="none" stroke-linejoin="round"/>
<line x1="50.4" y1="934.29" x2="50.4" y2="937.49" stroke="#ff0000" stroke-width="1.1"/>
<line x1="48.4" y1="934.29" x2="52.4" y2="934.29" stroke="#ff0000" stroke-width="1.1"/>
<line x1="48.4" y1="937.49" x2="52.4" y2="937.49" stroke="#ff0000" stroke-width="1.1"/>
<line x1="62.68" y1="903.85" x2="62.68" y2="911.32" stroke="#ff0000" stroke-width="1.1"/>
<line x1="60.68" y1="903.85" x2="64.68" y2="903.85" stroke="#ff0000" stroke-width="1.1"/>
<line x1="60.68" y1="911.32" x2="64.68" y2="911.32" stroke="#ff0000" stroke-width="1.1"/>
<line x1="74.96" y1="889.96" x2="74.96" y2="897.44" stroke="#ff0000" stroke-width="1.1"/>
<line x1="72.96" y1="889.96" x2="76.96" y2="889.96" stroke="#ff0000" stroke-width="1.1"/>
<line x1="72.96" y1="897.44" x2="76.96" y2="897.44" stroke="#ff0000" stroke-width="1.1"/>
<line x1="87.24" y1="878.75" x2="87.24" y2="884.09" stroke="#ff0000" stroke-width="1.1"/>
<line x1="85.24" y1="878.75" x2="89.24" y2="878.75" stroke="#ff0000" stroke-width="1.1"/>
<line x1="85.24" y1="884.09" x2="89.24" y2="884.09" stroke="#ff0000" stroke-width="1.1"/>
<line x1="99.52" y1="861.66" x2="99.52" y2="868.07" stroke="#ff0000" stroke-width="1.1"/>
<line x1="97.52" y1="861.66" x2="101.52" y2="861.66" stroke="#ff0000" stroke-width="1.1"/>
<line x1="97.52" y1="868.07" x2="101.52" y2="868.07" stroke="#ff0000" stroke-width="1.1"/>
<line x1="111.8" y1="862.73" x2="111.8" y2="869.14" stroke="#ff0000" stroke-width="1.1"/>
<line x1="109.8" y1="862.73" x2="113.8" y2="862.73" stroke="#ff0000" stroke-width="1.1"/>
<line x1="109.8" y1="869.14" x2="113.8" y2="869.14" stroke="#ff0000" stroke-width="1.1"/>
<line x1="124.08" y1="871.27" x2="124.08" y2="875.55" stroke="#ff0000" stroke-width="1.1"/>
<line x1="122.08" y1="871.27" x2="126.08" y2="871.27" stroke="#ff0000" stroke-width="1.1"/>
<line x1="122.08" y1="875.55" x2="126.08" y2="875.55" stroke="#ff0000" stroke-width="1.1"/>
<line x1="136.36" y1="888.36" x2="136.36" y2="891.57" stroke="#ff0000" stroke-width="1.1"/>
<line x1="134.36" y1="888.36" x2="138.36" y2="888.36" stroke="#ff0000" stroke-width="1.1"/>
<line x1="134.36" y1="891.57" x2="138.36" y2="891.57" stroke="#ff0000" stroke-width="1.1"/>
<line x1="148.64" y1="907.05" x2="148.64" y2="910.26" stroke="#ff0000" stroke-width="1.1"/>
<line x1="146.64" y1="907.05" x2="150.64" y2="907.05" stroke="#ff0000" stroke-width="1.1"/>
<line x1="146.64" y1="910.26" x2="150.64" y2="910.26" stroke="#ff0000" stroke-width="1.1"/>
<line x1="160.92" y1="920.94" x2="160.92" y2="924.14" stroke="#ff0000" stroke-width="1.1"/>
<line x1="158.92" y1="920.94" x2="162.92" y2="920.94" stroke="#ff0000" stroke-width="1.1"/>
<line x1="158.92" y1="924.14" x2="162.92" y2="924.14" stroke="#ff0000" stroke-width="1.1"/>
<line x1="173.2" y1="931.08" x2="173.2" y2="933.22" stroke="#ff0000" stroke-width="1.1"/>
<line x1="171.2" y1="931.08" x2="175.2" y2="931.08" stroke="#ff0000" stroke-width="1.1"/>
<line x1="171.2" y1="933.22" x2="175.2" y2="933.22" stroke="#ff0000" stroke-width="1.1"/>
<line x1="185.48" y1="939.09" x2="185.48" y2="941.23" stroke="#ff0000" stroke-width="1.1"/>
<line x1="183.48" y1="939.09" x2="187.48" y2="939.09" stroke="#ff0000" stroke-width="1.1"/>
<line x1="183.48" y1="941.23" x2="187.48" y2="941.23" stroke="#ff0000" stroke-width="1.1"/>
<line x1="197.76" y1="942.83" x2="197.76" y2="943.9" stroke="#ff0000" stroke-width="1.1"/>
<line x1="195.76" y1="942.83" x2="199.76" y2="942.83" stroke="#ff0000" stroke-width="1.1"/>
<line x1="195.76" y1="943.9" x2="199.76" y2="943.9" stroke="#ff0000" stroke-width="1.1"/>
<line x1="210.04" y1="944.43" x2="210.04" y2="945.5" stroke="#ff0000" stroke-width="1.1"/>
<line x1="208.04" y1="944.43" x2="212.04" y2="944.43" stroke="#ff0000" stroke-width="1.1"/>
<line x1="208.04" y1="945.5" x2="212.04" y2="945.5" stroke="#ff0000" stroke-width="1.1"/>
<circle cx="50.4" cy="935.89" r="2.3" fill="#ff0000"/>
<circle cx="62.68" cy="907.59" r="2.3" fill="#ff0000"/>
<circle cx="74.96" cy="893.7" r="2.3" fill="#ff0000"/>
<circle cx="87.24" cy="881.42" r="2.3" fill="#ff0000"/>
<circle cx="99.52" cy="864.87" r="2.3" fill="#ff0000"/>
<circle cx="111.8" cy="865.93" r="2.3" fill="#ff0000"/>
<circle cx="124.08" cy="873.41" r="2.3" fill="#ff0000"/>
<circle cx="136.36" cy="889.96" r="2.3" fill="#ff0000"/>
<circle cx="148.64" cy="908.65" r="2.3" fill="#ff0000"/>
<circle cx="160.92" cy="922.54" r="2.3" fill="#ff0000"/>
<circle cx="173.2" cy="932.15" r="2.3" fill="#ff0000"/>
<circle cx="185.48" cy="940.16" r="2.3" fill="#ff0000"/>
<circle cx="197.76" cy="943.36" r="2.3" fill="#ff0000"/>
<circle cx="210.04" cy="944.97" r="2.3" fill="#ff0000"/>
<line x1="50.4" y1="838" x2="50.4" y2="946.4" stroke="#000" stroke-width="1.8"/>
<line x1="45.7" y1="945.5" x2="50.4" y2="945.5" stroke="#000" stroke-width="1.5"/>
<text x="43.5" y="948.47" font-size="9" text-anchor="end">0</text>
<line x1="45.7" y1="918.8" x2="50.4" y2="918.8" stroke="#000" stroke-width="1.5"/>
<text x="43.5" y="921.77" font-size="9" text-anchor="end">5</text>
<line x1="45.7" y1="892.1" x2="50.4" y2="892.1" stroke="#000" stroke-width="1.5"/>
<text x="43.5" y="895.07" font-size="9" text-anchor="end">10</text>
<line x1="45.7" y1="865.4" x2="50.4" y2="865.4" stroke="#000" stroke-width="1.5"/>
<text x="43.5" y="868.37" font-size="9" text-anchor="end">15</text>
<line x1="45.7" y1="838.7" x2="50.4" y2="838.7" stroke="#000" stroke-width="1.5"/>
<text x="43.5" y="841.67" font-size="9" text-anchor="end">20</text>
<line x1="49.5" y1="945.5" x2="210.79" y2="945.5" stroke="#000" stroke-width="1.8"/>
<line x1="62.68" y1="945.5" x2="62.68" y2="949.9" stroke="#000" stroke-width="1.5"/>
<line x1="74.96" y1="945.5" x2="74.96" y2="949.9" stroke="#000" stroke-width="1.5"/>
<line x1="87.24" y1="945.5" x2="87.24" y2="949.9" stroke="#000" stroke-width="1.5"/>
<line x1="99.52" y1="945.5" x2="99.52" y2="949.9" stroke="#000" stroke-width="1.5"/>
<line x1="111.8" y1="945.5" x2="111.8" y2="949.9" stroke="#000" stroke-width="1.5"/>
<line x1="124.08" y1="945.5" x2="124.08" y2="949.9" stroke="#000" stroke-width="1.5"/>
<line x1="136.36" y1="945.5" x2="136.36" y2="949.9" stroke="#000" stroke-width="1.5"/>
<line x1="148.64" y1="945.5" x2="148.64" y2="949.9" stroke="#000" stroke-width="1.5"/>
<line x1="160.92" y1="945.5" x2="160.92" y2="949.9" stroke="#000" stroke-width="1.5"/>
<line x1="173.2" y1="945.5" x2="173.2" y2="949.9" stroke="#000" stroke-width="1.5"/>
<line x1="185.48" y1="945.5" x2="185.48" y2="949.9" stroke="#000" stroke-width="1.5"/>
<line x1="197.76" y1="945.5" x2="197.76" y2="949.9" stroke="#000" stroke-width="1.5"/>
<line x1="210.04" y1="945.5" x2="210.04" y2="949.9" stroke="#000" stroke-width="1.5"/>
<text x="62.68" y="958.8" font-size="9" text-anchor="middle">12</text>
<text x="87.24" y="958.8" font-size="9" text-anchor="middle">14</text>
<text x="111.8" y="958.8" font-size="9" text-anchor="middle">16</text>
<text x="136.36" y="958.8" font-size="9" text-anchor="middle">18</text>
<text x="160.92" y="958.8" font-size="9" text-anchor="middle">20</text>
<text x="185.48" y="958.8" font-size="9" text-anchor="middle">22</text>
<text x="210.04" y="958.8" font-size="9" text-anchor="middle">24</text>
<text x="156.6" y="841.4" font-size="9.2" text-anchor="middle">T-start: 20 °C</text>
<text x="136" y="969.7" font-size="9.2" text-anchor="middle">Temperature (°C)</text>
<text x="19.7" y="892.4" font-size="9.2" text-anchor="middle" transform="rotate(-90 19.7 892.4)">Fraction of animals</text>
<text x="29.9" y="892.4" font-size="9.2" text-anchor="middle" transform="rotate(-90 29.9 892.4)">in each region (%)</text>
<line x1="79.6" y1="923.6" x2="91.3" y2="923.6" stroke="#000" stroke-width="1.2"/>
<circle cx="85.45" cy="923.6" r="2" fill="#fff" stroke="#000" stroke-width="1"/>
<text x="94.7" y="926.7" font-size="9.3">Histamine-</text>
<line x1="79.6" y1="937.1" x2="91.3" y2="937.1" stroke="#ff0000" stroke-width="1.2"/>
<circle cx="85.45" cy="937.1" r="2.2" fill="#ff0000"/>
<text x="94.7" y="940.2" font-size="9.3">Histamine+</text>
<text x="297.9" y="830.3" font-size="11.3" font-style="italic">Pvap-1::HisCl1</text>
<rect x="390.6" y="847.8" width="5" height="97.3" fill="#cdcdcd"/>
<path d="M283.4,934.95 L295.57,892.77 L307.74,871.94 L319.91,874.08 L332.08,875.68 L344.25,881.02 L356.42,892.77 L368.59,899.71 L380.76,910.39 L392.93,917.33 L405.1,925.88 L417.27,936.56 L429.44,940.29 L441.61,944.03" stroke="#000" stroke-width="1.1" fill="none" stroke-linejoin="round"/>
<line x1="283.4" y1="933.35" x2="283.4" y2="936.56" stroke="#000" stroke-width="1.1"/>
<line x1="281.4" y1="933.35" x2="285.4" y2="933.35" stroke="#000" stroke-width="1.1"/>
<line x1="281.4" y1="936.56" x2="285.4" y2="936.56" stroke="#000" stroke-width="1.1"/>
<line x1="295.57" y1="889.03" x2="295.57" y2="896.51" stroke="#000" stroke-width="1.1"/>
<line x1="293.57" y1="889.03" x2="297.57" y2="889.03" stroke="#000" stroke-width="1.1"/>
<line x1="293.57" y1="896.51" x2="297.57" y2="896.51" stroke="#000" stroke-width="1.1"/>
<line x1="307.74" y1="868.74" x2="307.74" y2="875.15" stroke="#000" stroke-width="1.1"/>
<line x1="305.74" y1="868.74" x2="309.74" y2="868.74" stroke="#000" stroke-width="1.1"/>
<line x1="305.74" y1="875.15" x2="309.74" y2="875.15" stroke="#000" stroke-width="1.1"/>
<line x1="319.91" y1="871.41" x2="319.91" y2="876.75" stroke="#000" stroke-width="1.1"/>
<line x1="317.91" y1="871.41" x2="321.91" y2="871.41" stroke="#000" stroke-width="1.1"/>
<line x1="317.91" y1="876.75" x2="321.91" y2="876.75" stroke="#000" stroke-width="1.1"/>
<line x1="332.08" y1="873.54" x2="332.08" y2="877.82" stroke="#000" stroke-width="1.1"/>
<line x1="330.08" y1="873.54" x2="334.08" y2="873.54" stroke="#000" stroke-width="1.1"/>
<line x1="330.08" y1="877.82" x2="334.08" y2="877.82" stroke="#000" stroke-width="1.1"/>
<line x1="344.25" y1="878.88" x2="344.25" y2="883.16" stroke="#000" stroke-width="1.1"/>
<line x1="342.25" y1="878.88" x2="346.25" y2="878.88" stroke="#000" stroke-width="1.1"/>
<line x1="342.25" y1="883.16" x2="346.25" y2="883.16" stroke="#000" stroke-width="1.1"/>
<line x1="356.42" y1="891.17" x2="356.42" y2="894.37" stroke="#000" stroke-width="1.1"/>
<line x1="354.42" y1="891.17" x2="358.42" y2="891.17" stroke="#000" stroke-width="1.1"/>
<line x1="354.42" y1="894.37" x2="358.42" y2="894.37" stroke="#000" stroke-width="1.1"/>
<line x1="368.59" y1="898.11" x2="368.59" y2="901.31" stroke="#000" stroke-width="1.1"/>
<line x1="366.59" y1="898.11" x2="370.59" y2="898.11" stroke="#000" stroke-width="1.1"/>
<line x1="366.59" y1="901.31" x2="370.59" y2="901.31" stroke="#000" stroke-width="1.1"/>
<line x1="380.76" y1="908.79" x2="380.76" y2="911.99" stroke="#000" stroke-width="1.1"/>
<line x1="378.76" y1="908.79" x2="382.76" y2="908.79" stroke="#000" stroke-width="1.1"/>
<line x1="378.76" y1="911.99" x2="382.76" y2="911.99" stroke="#000" stroke-width="1.1"/>
<line x1="392.93" y1="915.73" x2="392.93" y2="918.93" stroke="#000" stroke-width="1.1"/>
<line x1="390.93" y1="915.73" x2="394.93" y2="915.73" stroke="#000" stroke-width="1.1"/>
<line x1="390.93" y1="918.93" x2="394.93" y2="918.93" stroke="#000" stroke-width="1.1"/>
<line x1="405.1" y1="924.81" x2="405.1" y2="926.94" stroke="#000" stroke-width="1.1"/>
<line x1="403.1" y1="924.81" x2="407.1" y2="924.81" stroke="#000" stroke-width="1.1"/>
<line x1="403.1" y1="926.94" x2="407.1" y2="926.94" stroke="#000" stroke-width="1.1"/>
<line x1="417.27" y1="935.49" x2="417.27" y2="937.62" stroke="#000" stroke-width="1.1"/>
<line x1="415.27" y1="935.49" x2="419.27" y2="935.49" stroke="#000" stroke-width="1.1"/>
<line x1="415.27" y1="937.62" x2="419.27" y2="937.62" stroke="#000" stroke-width="1.1"/>
<line x1="429.44" y1="939.76" x2="429.44" y2="940.83" stroke="#000" stroke-width="1.1"/>
<line x1="427.44" y1="939.76" x2="431.44" y2="939.76" stroke="#000" stroke-width="1.1"/>
<line x1="427.44" y1="940.83" x2="431.44" y2="940.83" stroke="#000" stroke-width="1.1"/>
<line x1="441.61" y1="943.5" x2="441.61" y2="944.57" stroke="#000" stroke-width="1.1"/>
<line x1="439.61" y1="943.5" x2="443.61" y2="943.5" stroke="#000" stroke-width="1.1"/>
<line x1="439.61" y1="944.57" x2="443.61" y2="944.57" stroke="#000" stroke-width="1.1"/>
<circle cx="283.4" cy="934.95" r="2" fill="#fff" stroke="#000" stroke-width="1"/>
<circle cx="295.57" cy="892.77" r="2" fill="#fff" stroke="#000" stroke-width="1"/>
<circle cx="307.74" cy="871.94" r="2" fill="#fff" stroke="#000" stroke-width="1"/>
<circle cx="319.91" cy="874.08" r="2" fill="#fff" stroke="#000" stroke-width="1"/>
<circle cx="332.08" cy="875.68" r="2" fill="#fff" stroke="#000" stroke-width="1"/>
<circle cx="344.25" cy="881.02" r="2" fill="#fff" stroke="#000" stroke-width="1"/>
<circle cx="356.42" cy="892.77" r="2" fill="#fff" stroke="#000" stroke-width="1"/>
<circle cx="368.59" cy="899.71" r="2" fill="#fff" stroke="#000" stroke-width="1"/>
<circle cx="380.76" cy="910.39" r="2" fill="#fff" stroke="#000" stroke-width="1"/>
<circle cx="392.93" cy="917.33" r="2" fill="#fff" stroke="#000" stroke-width="1"/>
<circle cx="405.1" cy="925.88" r="2" fill="#fff" stroke="#000" stroke-width="1"/>
<circle cx="417.27" cy="936.56" r="2" fill="#fff" stroke="#000" stroke-width="1"/>
<circle cx="429.44" cy="940.29" r="2" fill="#fff" stroke="#000" stroke-width="1"/>
<circle cx="441.61" cy="944.03" r="2" fill="#fff" stroke="#000" stroke-width="1"/>
<path d="M283.4,939.76 L295.57,910.39 L307.74,886.89 L319.91,879.42 L332.08,875.68 L344.25,874.61 L356.42,882.09 L368.59,889.03 L380.76,905.58 L392.93,910.92 L405.1,924.81 L417.27,935.49 L429.44,939.76 L441.61,943.5" stroke="#0000ff" stroke-width="1.3" fill="none" stroke-linejoin="round"/>
<line x1="283.4" y1="938.69" x2="283.4" y2="940.83" stroke="#0000ff" stroke-width="1.1"/>
<line x1="281.4" y1="938.69" x2="285.4" y2="938.69" stroke="#0000ff" stroke-width="1.1"/>
<line x1="281.4" y1="940.83" x2="285.4" y2="940.83" stroke="#0000ff" stroke-width="1.1"/>
<line x1="295.57" y1="907.72" x2="295.57" y2="913.06" stroke="#0000ff" stroke-width="1.1"/>
<line x1="293.57" y1="907.72" x2="297.57" y2="907.72" stroke="#0000ff" stroke-width="1.1"/>
<line x1="293.57" y1="913.06" x2="297.57" y2="913.06" stroke="#0000ff" stroke-width="1.1"/>
<line x1="307.74" y1="883.69" x2="307.74" y2="890.1" stroke="#0000ff" stroke-width="1.1"/>
<line x1="305.74" y1="883.69" x2="309.74" y2="883.69" stroke="#0000ff" stroke-width="1.1"/>
<line x1="305.74" y1="890.1" x2="309.74" y2="890.1" stroke="#0000ff" stroke-width="1.1"/>
<line x1="319.91" y1="876.75" x2="319.91" y2="882.09" stroke="#0000ff" stroke-width="1.1"/>
<line x1="317.91" y1="876.75" x2="321.91" y2="876.75" stroke="#0000ff" stroke-width="1.1"/>
<line x1="317.91" y1="882.09" x2="321.91" y2="882.09" stroke="#0000ff" stroke-width="1.1"/>
<line x1="332.08" y1="873.01" x2="332.08" y2="878.35" stroke="#0000ff" stroke-width="1.1"/>
<line x1="330.08" y1="873.01" x2="334.08" y2="873.01" stroke="#0000ff" stroke-width="1.1"/>
<line x1="330.08" y1="878.35" x2="334.08" y2="878.35" stroke="#0000ff" stroke-width="1.1"/>
<line x1="344.25" y1="871.94" x2="344.25" y2="877.28" stroke="#0000ff" stroke-width="1.1"/>
<line x1="342.25" y1="871.94" x2="346.25" y2="871.94" stroke="#0000ff" stroke-width="1.1"/>
<line x1="342.25" y1="877.28" x2="346.25" y2="877.28" stroke="#0000ff" stroke-width="1.1"/>
<line x1="356.42" y1="879.42" x2="356.42" y2="884.76" stroke="#0000ff" stroke-width="1.1"/>
<line x1="354.42" y1="879.42" x2="358.42" y2="879.42" stroke="#0000ff" stroke-width="1.1"/>
<line x1="354.42" y1="884.76" x2="358.42" y2="884.76" stroke="#0000ff" stroke-width="1.1"/>
<line x1="368.59" y1="886.36" x2="368.59" y2="891.7" stroke="#0000ff" stroke-width="1.1"/>
<line x1="366.59" y1="886.36" x2="370.59" y2="886.36" stroke="#0000ff" stroke-width="1.1"/>
<line x1="366.59" y1="891.7" x2="370.59" y2="891.7" stroke="#0000ff" stroke-width="1.1"/>
<line x1="380.76" y1="902.91" x2="380.76" y2="908.25" stroke="#0000ff" stroke-width="1.1"/>
<line x1="378.76" y1="902.91" x2="382.76" y2="902.91" stroke="#0000ff" stroke-width="1.1"/>
<line x1="378.76" y1="908.25" x2="382.76" y2="908.25" stroke="#0000ff" stroke-width="1.1"/>
<line x1="392.93" y1="908.79" x2="392.93" y2="913.06" stroke="#0000ff" stroke-width="1.1"/>
<line x1="390.93" y1="908.79" x2="394.93" y2="908.79" stroke="#0000ff" stroke-width="1.1"/>
<line x1="390.93" y1="913.06" x2="394.93" y2="913.06" stroke="#0000ff" stroke-width="1.1"/>
<line x1="405.1" y1="923.21" x2="405.1" y2="926.41" stroke="#0000ff" stroke-width="1.1"/>
<line x1="403.1" y1="923.21" x2="407.1" y2="923.21" stroke="#0000ff" stroke-width="1.1"/>
<line x1="403.1" y1="926.41" x2="407.1" y2="926.41" stroke="#0000ff" stroke-width="1.1"/>
<line x1="417.27" y1="934.42" x2="417.27" y2="936.56" stroke="#0000ff" stroke-width="1.1"/>
<line x1="415.27" y1="934.42" x2="419.27" y2="934.42" stroke="#0000ff" stroke-width="1.1"/>
<line x1="415.27" y1="936.56" x2="419.27" y2="936.56" stroke="#0000ff" stroke-width="1.1"/>
<line x1="429.44" y1="939.23" x2="429.44" y2="940.29" stroke="#0000ff" stroke-width="1.1"/>
<line x1="427.44" y1="939.23" x2="431.44" y2="939.23" stroke="#0000ff" stroke-width="1.1"/>
<line x1="427.44" y1="940.29" x2="431.44" y2="940.29" stroke="#0000ff" stroke-width="1.1"/>
<line x1="441.61" y1="942.96" x2="441.61" y2="944.03" stroke="#0000ff" stroke-width="1.1"/>
<line x1="439.61" y1="942.96" x2="443.61" y2="942.96" stroke="#0000ff" stroke-width="1.1"/>
<line x1="439.61" y1="944.03" x2="443.61" y2="944.03" stroke="#0000ff" stroke-width="1.1"/>
<circle cx="283.4" cy="939.76" r="2.3" fill="#0000ff"/>
<circle cx="295.57" cy="910.39" r="2.3" fill="#0000ff"/>
<circle cx="307.74" cy="886.89" r="2.3" fill="#0000ff"/>
<circle cx="319.91" cy="879.42" r="2.3" fill="#0000ff"/>
<circle cx="332.08" cy="875.68" r="2.3" fill="#0000ff"/>
<circle cx="344.25" cy="874.61" r="2.3" fill="#0000ff"/>
<circle cx="356.42" cy="882.09" r="2.3" fill="#0000ff"/>
<circle cx="368.59" cy="889.03" r="2.3" fill="#0000ff"/>
<circle cx="380.76" cy="905.58" r="2.3" fill="#0000ff"/>
<circle cx="392.93" cy="910.92" r="2.3" fill="#0000ff"/>
<circle cx="405.1" cy="924.81" r="2.3" fill="#0000ff"/>
<circle cx="417.27" cy="935.49" r="2.3" fill="#0000ff"/>
<circle cx="429.44" cy="939.76" r="2.3" fill="#0000ff"/>
<circle cx="441.61" cy="943.5" r="2.3" fill="#0000ff"/>
<line x1="282.1" y1="837.6" x2="282.1" y2="946" stroke="#000" stroke-width="1.8"/>
<line x1="277.4" y1="945.1" x2="282.1" y2="945.1" stroke="#000" stroke-width="1.5"/>
<text x="275.2" y="948.07" font-size="9" text-anchor="end">0</text>
<line x1="277.4" y1="918.4" x2="282.1" y2="918.4" stroke="#000" stroke-width="1.5"/>
<text x="275.2" y="921.37" font-size="9" text-anchor="end">5</text>
<line x1="277.4" y1="891.7" x2="282.1" y2="891.7" stroke="#000" stroke-width="1.5"/>
<text x="275.2" y="894.67" font-size="9" text-anchor="end">10</text>
<line x1="277.4" y1="865" x2="282.1" y2="865" stroke="#000" stroke-width="1.5"/>
<text x="275.2" y="867.97" font-size="9" text-anchor="end">15</text>
<line x1="277.4" y1="838.3" x2="282.1" y2="838.3" stroke="#000" stroke-width="1.5"/>
<text x="275.2" y="841.27" font-size="9" text-anchor="end">20</text>
<line x1="281.2" y1="945.1" x2="442.36" y2="945.1" stroke="#000" stroke-width="1.8"/>
<line x1="295.57" y1="945.1" x2="295.57" y2="949.5" stroke="#000" stroke-width="1.5"/>
<line x1="307.74" y1="945.1" x2="307.74" y2="949.5" stroke="#000" stroke-width="1.5"/>
<line x1="319.91" y1="945.1" x2="319.91" y2="949.5" stroke="#000" stroke-width="1.5"/>
<line x1="332.08" y1="945.1" x2="332.08" y2="949.5" stroke="#000" stroke-width="1.5"/>
<line x1="344.25" y1="945.1" x2="344.25" y2="949.5" stroke="#000" stroke-width="1.5"/>
<line x1="356.42" y1="945.1" x2="356.42" y2="949.5" stroke="#000" stroke-width="1.5"/>
<line x1="368.59" y1="945.1" x2="368.59" y2="949.5" stroke="#000" stroke-width="1.5"/>
<line x1="380.76" y1="945.1" x2="380.76" y2="949.5" stroke="#000" stroke-width="1.5"/>
<line x1="392.93" y1="945.1" x2="392.93" y2="949.5" stroke="#000" stroke-width="1.5"/>
<line x1="405.1" y1="945.1" x2="405.1" y2="949.5" stroke="#000" stroke-width="1.5"/>
<line x1="417.27" y1="945.1" x2="417.27" y2="949.5" stroke="#000" stroke-width="1.5"/>
<line x1="429.44" y1="945.1" x2="429.44" y2="949.5" stroke="#000" stroke-width="1.5"/>
<line x1="441.61" y1="945.1" x2="441.61" y2="949.5" stroke="#000" stroke-width="1.5"/>
<text x="295.57" y="958.4" font-size="9" text-anchor="middle">12</text>
<text x="319.91" y="958.4" font-size="9" text-anchor="middle">14</text>
<text x="344.25" y="958.4" font-size="9" text-anchor="middle">16</text>
<text x="368.59" y="958.4" font-size="9" text-anchor="middle">18</text>
<text x="392.93" y="958.4" font-size="9" text-anchor="middle">20</text>
<text x="417.27" y="958.4" font-size="9" text-anchor="middle">22</text>
<text x="441.61" y="958.4" font-size="9" text-anchor="middle">24</text>
<text x="389.5" y="842" font-size="9.2" text-anchor="middle">T-start: 20 °C</text>
<text x="370" y="969.7" font-size="9.2" text-anchor="middle">Temperature (°C)</text>
<text x="252.5" y="890.7" font-size="9.2" text-anchor="middle" transform="rotate(-90 252.5 890.7)">Fraction of animals</text>
<text x="262.5" y="890.7" font-size="9.2" text-anchor="middle" transform="rotate(-90 262.5 890.7)">in each region (%)</text>
<line x1="309" y1="921.6" x2="320.7" y2="921.6" stroke="#0000ff" stroke-width="1.2"/>
<circle cx="314.85" cy="921.6" r="2.2" fill="#0000ff"/>
<text x="324.8" y="924.7" font-size="9">Histamine-</text>
<line x1="309" y1="936" x2="320.7" y2="936" stroke="#000" stroke-width="1.2"/>
<circle cx="314.85" cy="936" r="2" fill="#fff" stroke="#000" stroke-width="1"/>
<text x="324.8" y="939.1" font-size="9">Histamine+</text>
<text x="480.6" y="812.3" font-size="20">m</text>
<rect x="552.9" y="838" width="19.6" height="83.23" fill="#d4d4d4"/>
<rect x="578" y="838" width="20.2" height="78.97" fill="#ffdfe0"/>
<rect x="619.1" y="838" width="19.6" height="83.84" fill="#d4d4d4"/>
<rect x="644.5" y="838" width="19.9" height="75.11" fill="#c0c0ff"/>
<path d="M553.9,838 V920.23 H571.5 V838" stroke="#000" stroke-width="2" fill="none"/>
<path d="M579,838 V915.97 H597.2 V838" stroke="#ff0000" stroke-width="2" fill="none"/>
<path d="M620.1,838 V920.84 H637.7 V838" stroke="#000" stroke-width="2" fill="none"/>
<path d="M645.5,838 V912.11 H663.4 V838" stroke="#0000ff" stroke-width="2" fill="none"/>
<circle cx="560.5" cy="895.2" r="1.75" fill="#ffffff" stroke="#8a8a8a" stroke-width="0.8"/>
<circle cx="564.7" cy="894.7" r="1.75" fill="#ffffff" stroke="#8a8a8a" stroke-width="0.8"/>
<circle cx="562.7" cy="898.9" r="1.75" fill="#ffffff" stroke="#8a8a8a" stroke-width="0.8"/>
<circle cx="562.7" cy="912" r="1.75" fill="#ffffff" stroke="#8a8a8a" stroke-width="0.8"/>
<circle cx="554.1" cy="915.7" r="1.75" fill="#ffffff" stroke="#8a8a8a" stroke-width="0.8"/>
<circle cx="558.7" cy="918.8" r="1.75" fill="#ffffff" stroke="#8a8a8a" stroke-width="0.8"/>
<circle cx="562.7" cy="917.5" r="1.75" fill="#ffffff" stroke="#8a8a8a" stroke-width="0.8"/>
<circle cx="567.3" cy="918.8" r="1.75" fill="#ffffff" stroke="#8a8a8a" stroke-width="0.8"/>
<circle cx="571.5" cy="916.6" r="1.75" fill="#ffffff" stroke="#8a8a8a" stroke-width="0.8"/>
<circle cx="562.7" cy="922" r="1.75" fill="#ffffff" stroke="#8a8a8a" stroke-width="0.8"/>
<circle cx="566.5" cy="923.9" r="1.75" fill="#ffffff" stroke="#8a8a8a" stroke-width="0.8"/>
<circle cx="558.7" cy="925.7" r="1.75" fill="#ffffff" stroke="#8a8a8a" stroke-width="0.8"/>
<circle cx="562.7" cy="926.6" r="1.75" fill="#ffffff" stroke="#8a8a8a" stroke-width="0.8"/>
<circle cx="560.5" cy="929.9" r="1.75" fill="#ffffff" stroke="#8a8a8a" stroke-width="0.8"/>
<circle cx="564.7" cy="929.9" r="1.75" fill="#ffffff" stroke="#8a8a8a" stroke-width="0.8"/>
<circle cx="562.7" cy="940.3" r="1.75" fill="#ffffff" stroke="#8a8a8a" stroke-width="0.8"/>
<circle cx="562.7" cy="944.9" r="1.75" fill="#ffffff" stroke="#8a8a8a" stroke-width="0.8"/>
<circle cx="566.9" cy="943.9" r="1.75" fill="#ffffff" stroke="#8a8a8a" stroke-width="0.8"/>
<circle cx="562.7" cy="950.7" r="1.75" fill="#ffffff" stroke="#8a8a8a" stroke-width="0.8"/>
<circle cx="592.4" cy="893.4" r="1.75" fill="#ffffff" stroke="#8a8a8a" stroke-width="0.8"/>
<circle cx="588.2" cy="896.5" r="1.75" fill="#ffffff" stroke="#8a8a8a" stroke-width="0.8"/>
<circle cx="588.2" cy="900.5" r="1.75" fill="#ffffff" stroke="#8a8a8a" stroke-width="0.8"/>
<circle cx="588.2" cy="904.7" r="1.75" fill="#ffffff" stroke="#8a8a8a" stroke-width="0.8"/>
<circle cx="588.2" cy="909.3" r="1.75" fill="#ffffff" stroke="#8a8a8a" stroke-width="0.8"/>
<circle cx="583.9" cy="912.9" r="1.75" fill="#ffffff" stroke="#8a8a8a" stroke-width="0.8"/>
<circle cx="592.4" cy="912" r="1.75" fill="#ffffff" stroke="#8a8a8a" stroke-width="0.8"/>
<circle cx="588.2" cy="915.7" r="1.75" fill="#ffffff" stroke="#8a8a8a" stroke-width="0.8"/>
<circle cx="579.7" cy="919.3" r="1.75" fill="#ffffff" stroke="#8a8a8a" stroke-width="0.8"/>
<circle cx="588.2" cy="922" r="1.75" fill="#ffffff" stroke="#8a8a8a" stroke-width="0.8"/>
<circle cx="592.4" cy="921.1" r="1.75" fill="#ffffff" stroke="#8a8a8a" stroke-width="0.8"/>
<circle cx="597" cy="920.2" r="1.75" fill="#ffffff" stroke="#8a8a8a" stroke-width="0.8"/>
<circle cx="583.9" cy="929.9" r="1.75" fill="#ffffff" stroke="#8a8a8a" stroke-width="0.8"/>
<circle cx="588.2" cy="932.1" r="1.75" fill="#ffffff" stroke="#8a8a8a" stroke-width="0.8"/>
<circle cx="592.4" cy="930.8" r="1.75" fill="#ffffff" stroke="#8a8a8a" stroke-width="0.8"/>
<circle cx="597" cy="929.9" r="1.75" fill="#ffffff" stroke="#8a8a8a" stroke-width="0.8"/>
<circle cx="579.7" cy="933" r="1.75" fill="#ffffff" stroke="#8a8a8a" stroke-width="0.8"/>
<circle cx="597" cy="933.9" r="1.75" fill="#ffffff" stroke="#8a8a8a" stroke-width="0.8"/>
<circle cx="628.9" cy="885.5" r="1.75" fill="#ffffff" stroke="#8a8a8a" stroke-width="0.8"/>
<circle cx="626.2" cy="898" r="1.75" fill="#ffffff" stroke="#8a8a8a" stroke-width="0.8"/>
<circle cx="632" cy="901.1" r="1.75" fill="#ffffff" stroke="#8a8a8a" stroke-width="0.8"/>
<circle cx="628.9" cy="905.6" r="1.75" fill="#ffffff" stroke="#8a8a8a" stroke-width="0.8"/>
<circle cx="623.5" cy="909.6" r="1.75" fill="#ffffff" stroke="#8a8a8a" stroke-width="0.8"/>
<circle cx="628.9" cy="909.6" r="1.75" fill="#ffffff" stroke="#8a8a8a" stroke-width="0.8"/>
<circle cx="634.4" cy="909.3" r="1.75" fill="#ffffff" stroke="#8a8a8a" stroke-width="0.8"/>
<circle cx="626.2" cy="914.7" r="1.75" fill="#ffffff" stroke="#8a8a8a" stroke-width="0.8"/>
<circle cx="632" cy="916.6" r="1.75" fill="#ffffff" stroke="#8a8a8a" stroke-width="0.8"/>
<circle cx="626.2" cy="919.3" r="1.75" fill="#ffffff" stroke="#8a8a8a" stroke-width="0.8"/>
<circle cx="620.7" cy="922" r="1.75" fill="#ffffff" stroke="#8a8a8a" stroke-width="0.8"/>
<circle cx="632" cy="922" r="1.75" fill="#ffffff" stroke="#8a8a8a" stroke-width="0.8"/>
<circle cx="637.2" cy="922" r="1.75" fill="#ffffff" stroke="#8a8a8a" stroke-width="0.8"/>
<circle cx="626.2" cy="924.8" r="1.75" fill="#ffffff" stroke="#8a8a8a" stroke-width="0.8"/>
<circle cx="628.9" cy="923" r="1.75" fill="#ffffff" stroke="#8a8a8a" stroke-width="0.8"/>
<circle cx="632" cy="927.2" r="1.75" fill="#ffffff" stroke="#8a8a8a" stroke-width="0.8"/>
<circle cx="620.7" cy="930.3" r="1.75" fill="#ffffff" stroke="#8a8a8a" stroke-width="0.8"/>
<circle cx="626.2" cy="929" r="1.75" fill="#ffffff" stroke="#8a8a8a" stroke-width="0.8"/>
<circle cx="637.2" cy="929.9" r="1.75" fill="#ffffff" stroke="#8a8a8a" stroke-width="0.8"/>
<circle cx="620.7" cy="934.5" r="1.75" fill="#ffffff" stroke="#8a8a8a" stroke-width="0.8"/>
<circle cx="637.2" cy="933.9" r="1.75" fill="#ffffff" stroke="#8a8a8a" stroke-width="0.8"/>
<circle cx="620.7" cy="938.5" r="1.75" fill="#ffffff" stroke="#8a8a8a" stroke-width="0.8"/>
<circle cx="626.2" cy="936.6" r="1.75" fill="#ffffff" stroke="#8a8a8a" stroke-width="0.8"/>
<circle cx="632" cy="934.5" r="1.75" fill="#ffffff" stroke="#8a8a8a" stroke-width="0.8"/>
<circle cx="637.2" cy="938.1" r="1.75" fill="#ffffff" stroke="#8a8a8a" stroke-width="0.8"/>
<circle cx="626.2" cy="940.3" r="1.75" fill="#ffffff" stroke="#8a8a8a" stroke-width="0.8"/>
<circle cx="620.7" cy="945.8" r="1.75" fill="#ffffff" stroke="#8a8a8a" stroke-width="0.8"/>
<circle cx="626.2" cy="949.4" r="1.75" fill="#ffffff" stroke="#8a8a8a" stroke-width="0.8"/>
<circle cx="632" cy="948" r="1.75" fill="#ffffff" stroke="#8a8a8a" stroke-width="0.8"/>
<circle cx="637.2" cy="945.4" r="1.75" fill="#ffffff" stroke="#8a8a8a" stroke-width="0.8"/>
<circle cx="659.4" cy="889.6" r="1.75" fill="#ffffff" stroke="#8a8a8a" stroke-width="0.8"/>
<circle cx="649.4" cy="891" r="1.75" fill="#ffffff" stroke="#8a8a8a" stroke-width="0.8"/>
<circle cx="653" cy="892.8" r="1.75" fill="#ffffff" stroke="#8a8a8a" stroke-width="0.8"/>
<circle cx="656" cy="898.3" r="1.75" fill="#ffffff" stroke="#8a8a8a" stroke-width="0.8"/>
<circle cx="649.4" cy="901.1" r="1.75" fill="#ffffff" stroke="#8a8a8a" stroke-width="0.8"/>
<circle cx="659.4" cy="903.8" r="1.75" fill="#ffffff" stroke="#8a8a8a" stroke-width="0.8"/>
<circle cx="663.2" cy="903.8" r="1.75" fill="#ffffff" stroke="#8a8a8a" stroke-width="0.8"/>
<circle cx="649.4" cy="905.6" r="1.75" fill="#ffffff" stroke="#8a8a8a" stroke-width="0.8"/>
<circle cx="653" cy="907.1" r="1.75" fill="#ffffff" stroke="#8a8a8a" stroke-width="0.8"/>
<circle cx="656" cy="906.5" r="1.75" fill="#ffffff" stroke="#8a8a8a" stroke-width="0.8"/>
<circle cx="659.4" cy="905.6" r="1.75" fill="#ffffff" stroke="#8a8a8a" stroke-width="0.8"/>
<circle cx="646.3" cy="909.6" r="1.75" fill="#ffffff" stroke="#8a8a8a" stroke-width="0.8"/>
<circle cx="650.8" cy="911.1" r="1.75" fill="#ffffff" stroke="#8a8a8a" stroke-width="0.8"/>
<circle cx="656" cy="912" r="1.75" fill="#ffffff" stroke="#8a8a8a" stroke-width="0.8"/>
<circle cx="659.4" cy="910.2" r="1.75" fill="#ffffff" stroke="#8a8a8a" stroke-width="0.8"/>
<circle cx="663.2" cy="910.7" r="1.75" fill="#ffffff" stroke="#8a8a8a" stroke-width="0.8"/>
<circle cx="649.4" cy="916.6" r="1.75" fill="#ffffff" stroke="#8a8a8a" stroke-width="0.8"/>
<circle cx="656" cy="916.9" r="1.75" fill="#ffffff" stroke="#8a8a8a" stroke-width="0.8"/>
<circle cx="659.4" cy="916.6" r="1.75" fill="#ffffff" stroke="#8a8a8a" stroke-width="0.8"/>
<circle cx="653" cy="919.3" r="1.75" fill="#ffffff" stroke="#8a8a8a" stroke-width="0.8"/>
<circle cx="646.3" cy="920.8" r="1.75" fill="#ffffff" stroke="#8a8a8a" stroke-width="0.8"/>
<circle cx="649.4" cy="922" r="1.75" fill="#ffffff" stroke="#8a8a8a" stroke-width="0.8"/>
<circle cx="653" cy="923" r="1.75" fill="#ffffff" stroke="#8a8a8a" stroke-width="0.8"/>
<circle cx="656" cy="923.9" r="1.75" fill="#ffffff" stroke="#8a8a8a" stroke-width="0.8"/>
<circle cx="659.4" cy="920.2" r="1.75" fill="#ffffff" stroke="#8a8a8a" stroke-width="0.8"/>
<circle cx="663.2" cy="921.1" r="1.75" fill="#ffffff" stroke="#8a8a8a" stroke-width="0.8"/>
<circle cx="654.1" cy="930.3" r="1.75" fill="#ffffff" stroke="#8a8a8a" stroke-width="0.8"/>
<circle cx="654.1" cy="934.8" r="1.75" fill="#ffffff" stroke="#8a8a8a" stroke-width="0.8"/>
<circle cx="652.7" cy="939.4" r="1.75" fill="#ffffff" stroke="#8a8a8a" stroke-width="0.8"/>
<circle cx="656.3" cy="939.9" r="1.75" fill="#ffffff" stroke="#8a8a8a" stroke-width="0.8"/>
<circle cx="654.1" cy="944.9" r="1.75" fill="#ffffff" stroke="#8a8a8a" stroke-width="0.8"/>
<line x1="562.7" y1="918.79" x2="562.7" y2="923.67" stroke="#000" stroke-width="1.3"/>
<line x1="558.2" y1="918.79" x2="567.2" y2="918.79" stroke="#000" stroke-width="1.3"/>
<line x1="558.2" y1="923.67" x2="567.2" y2="923.67" stroke="#000" stroke-width="1.3"/>
<line x1="588.1" y1="913.92" x2="588.1" y2="920.01" stroke="#ff0000" stroke-width="1.3"/>
<line x1="583.6" y1="913.92" x2="592.6" y2="913.92" stroke="#ff0000" stroke-width="1.3"/>
<line x1="583.6" y1="920.01" x2="592.6" y2="920.01" stroke="#ff0000" stroke-width="1.3"/>
<line x1="628.9" y1="918.79" x2="628.9" y2="924.88" stroke="#000" stroke-width="1.3"/>
<line x1="624.4" y1="918.79" x2="633.4" y2="918.79" stroke="#000" stroke-width="1.3"/>
<line x1="624.4" y1="924.88" x2="633.4" y2="924.88" stroke="#000" stroke-width="1.3"/>
<line x1="654.45" y1="910.67" x2="654.45" y2="915.55" stroke="#0000ff" stroke-width="1.3"/>
<line x1="649.95" y1="910.67" x2="658.95" y2="910.67" stroke="#0000ff" stroke-width="1.3"/>
<line x1="649.95" y1="915.55" x2="658.95" y2="915.55" stroke="#0000ff" stroke-width="1.3"/>
<line x1="542.6" y1="838" x2="542.6" y2="839" stroke="#000" stroke-width="2"/>
<line x1="537.1" y1="838" x2="542.6" y2="838" stroke="#000" stroke-width="1.5"/>
<text x="532.5" y="840.97" font-size="9" text-anchor="end">0</text>
<line x1="537.1" y1="878.6" x2="542.6" y2="878.6" stroke="#000" stroke-width="1.5"/>
<text x="532.5" y="881.57" font-size="9" text-anchor="end">-2</text>
<line x1="537.1" y1="919.2" x2="542.6" y2="919.2" stroke="#000" stroke-width="1.5"/>
<text x="532.5" y="922.17" font-size="9" text-anchor="end">-4</text>
<line x1="537.1" y1="959.8" x2="542.6" y2="959.8" stroke="#000" stroke-width="1.5"/>
<text x="532.5" y="962.77" font-size="9" text-anchor="end">-6</text>
<line x1="541.6" y1="838" x2="674.7" y2="838" stroke="#000" stroke-width="1.7"/>
<line x1="542.6" y1="838" x2="542.6" y2="960.6" stroke="#000" stroke-width="2"/>
<text x="562.7" y="846.8" font-size="8.3" text-anchor="middle" fill="#8c2a8c">19</text>
<text x="588.1" y="846.8" font-size="8.3" text-anchor="middle" fill="#8c2a8c">18</text>
<text x="628.9" y="846.8" font-size="8.3" text-anchor="middle" fill="#8c2a8c">29</text>
<text x="654.5" y="846.8" font-size="8.3" text-anchor="middle" fill="#8c2a8c">31</text>
<text x="521.6" y="893" font-size="9.2" text-anchor="middle" transform="rotate(-90 521.6 893)">Index of theromotaxis</text>
<text x="550.2" y="834.6" font-size="9.2" text-anchor="end">Histamine</text>
<text x="563.2" y="833.2" font-size="9" text-anchor="middle" font-weight="bold">-</text>
<text x="588.9" y="833.6" font-size="9" text-anchor="middle" font-weight="bold">+</text>
<text x="630.1" y="833.2" font-size="9" text-anchor="middle" font-weight="bold">-</text>
<text x="655.1" y="833.6" font-size="9" text-anchor="middle" font-weight="bold">+</text>
<text x="562.7" y="821.6" font-size="9.4" text-anchor="middle" font-style="italic">Pvap-1::mCherry</text>
<text x="633.5" y="821.6" font-size="9.4" text-anchor="middle" font-style="italic">Pvap-1::HisCl1</text>
<line x1="549.5" y1="825.3" x2="598.2" y2="825.3" stroke="#333" stroke-width="1"/>
<line x1="611.2" y1="825.3" x2="661" y2="825.3" stroke="#333" stroke-width="1"/>
<line x1="559.1" y1="955.7" x2="598.2" y2="955.7" stroke="#3b2828" stroke-width="1.3"/>
<line x1="621.5" y1="955.7" x2="661" y2="955.7" stroke="#3b2828" stroke-width="1.3"/>
<text x="580.4" y="964.6" font-size="8.5" text-anchor="middle">ns</text>
<path d="M640.4,959.1 L640.4,964.1 M638.23,960.35 L642.57,962.85 M642.57,960.35 L638.23,962.85 " stroke="#000" stroke-width="1.3" fill="none" stroke-linecap="butt"/>
<text x="578.5" y="974.8" font-size="8" text-anchor="middle"><tspan font-style="italic">p</tspan>=0.3119</text>
<text x="642" y="974.8" font-size="8" text-anchor="middle"><tspan font-style="italic">p</tspan>=0.0117</text>
</svg></body></html>
